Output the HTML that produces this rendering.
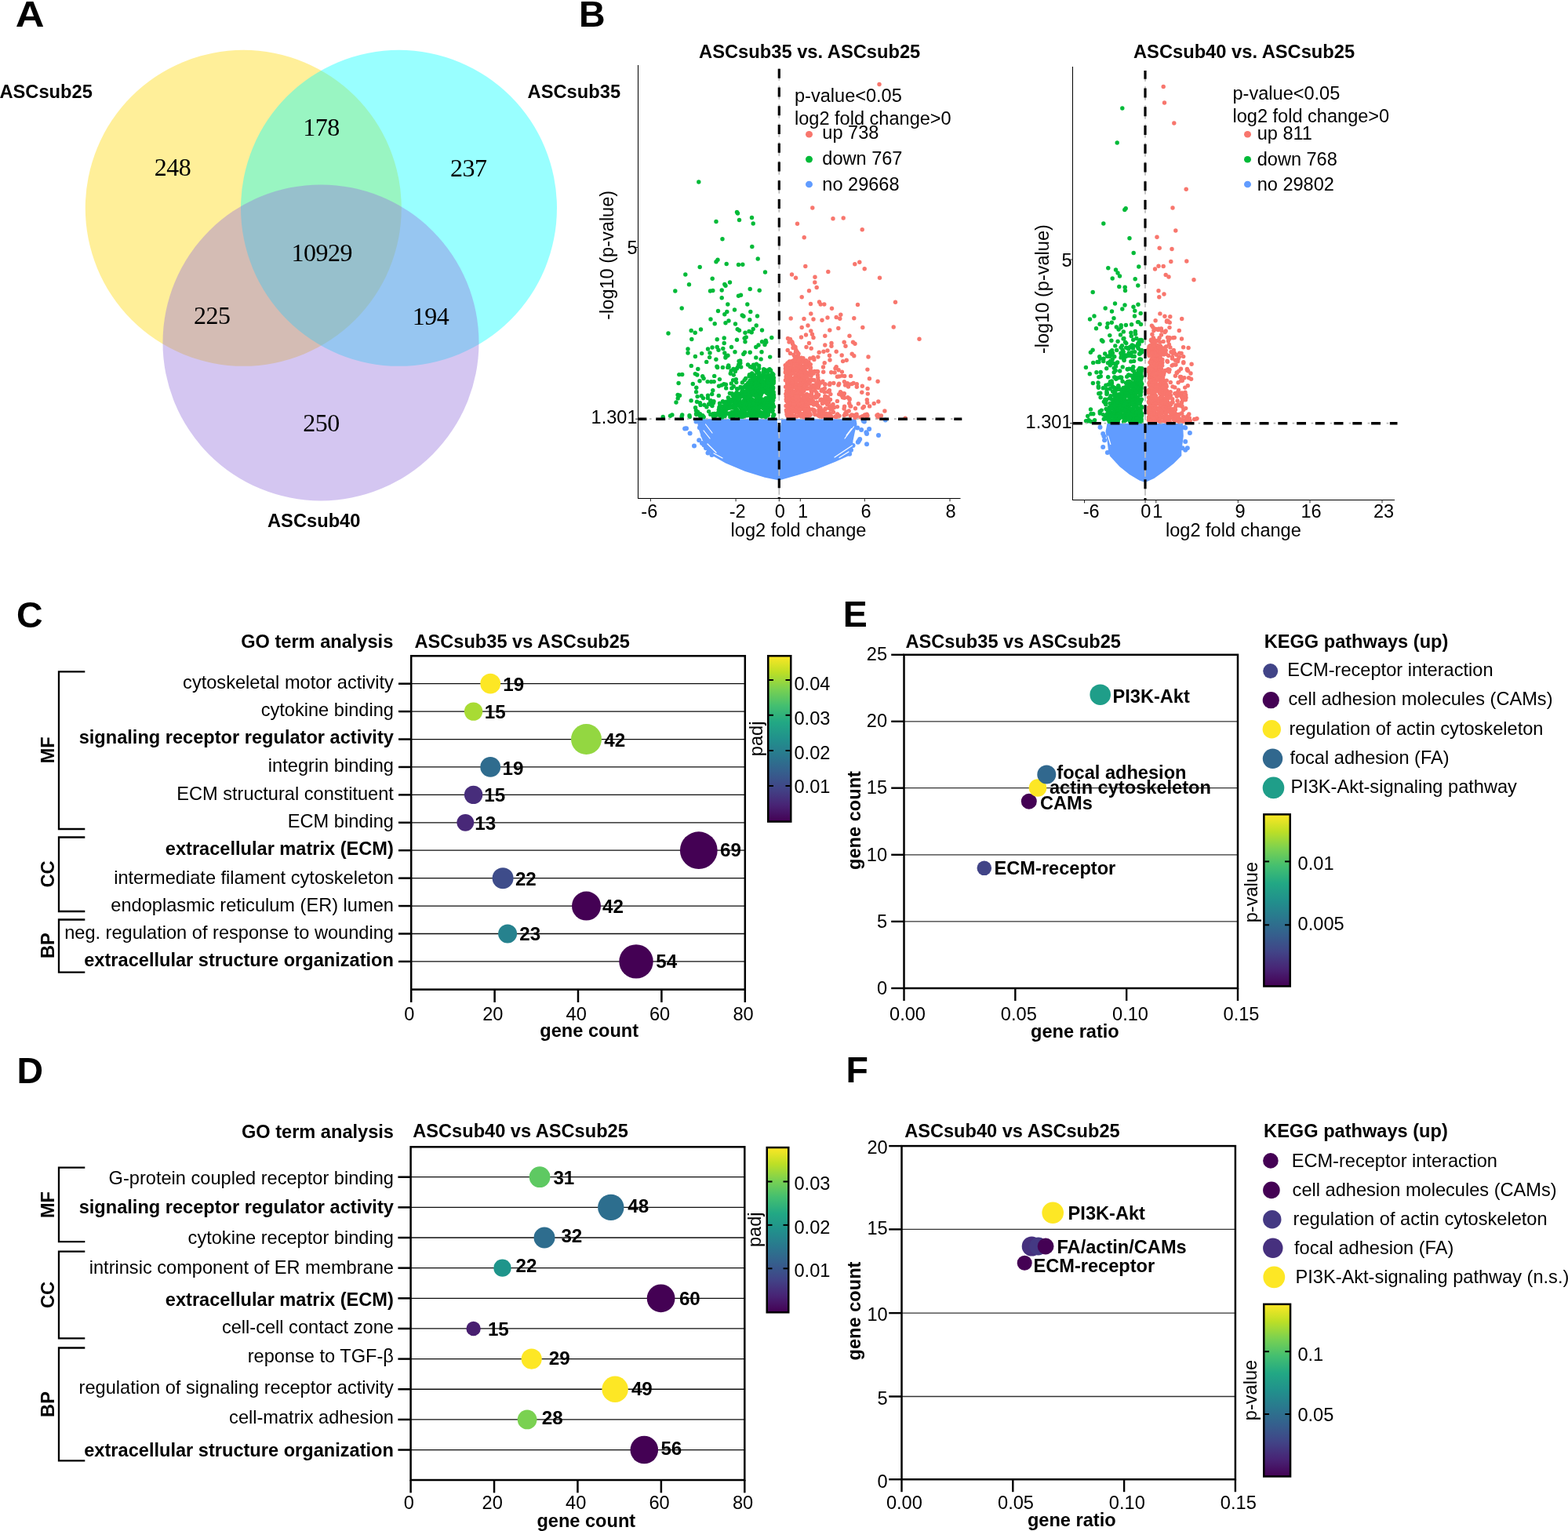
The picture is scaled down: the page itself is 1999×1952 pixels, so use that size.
<!DOCTYPE html>
<html lang="en"><head><meta charset="utf-8"><title>Figure</title>
<style>
html,body{margin:0;padding:0;background:#fff;}
svg{display:block;}
text{font-family:"Liberation Sans",sans-serif;fill:#000;}
text.b,.b{font-weight:bold;}
text.s{font-family:"Liberation Serif",serif;}
</style></head>
<body>
<svg width="1999" height="1952" viewBox="0 0 1999 1952" role="img" aria-label="Figure with panels A to F">
<defs><linearGradient id="vir" x1="0" y1="1" x2="0" y2="0"><stop offset="0" stop-color="#440154"/><stop offset="0.1" stop-color="#482475"/><stop offset="0.2" stop-color="#414487"/><stop offset="0.3" stop-color="#355f8d"/><stop offset="0.4" stop-color="#2a788e"/><stop offset="0.5" stop-color="#21918c"/><stop offset="0.6" stop-color="#22a884"/><stop offset="0.7" stop-color="#44bf70"/><stop offset="0.8" stop-color="#7ad151"/><stop offset="0.9" stop-color="#bddf26"/><stop offset="1" stop-color="#fde725"/></linearGradient></defs>
<rect width="1999" height="1952" fill="#fff"/>
<g fill-opacity="0.4">
<circle cx="310.30" cy="265.30" r="201.50" fill="#ffd700"/>
<circle cx="508.50" cy="265.30" r="201.50" fill="#00ffff"/>
<circle cx="409.00" cy="436.90" r="201.50" fill="#9370db"/>
</g>
<text x="-0.60" y="125.20" font-size="23.7" class="b">ASCsub25</text>
<text x="672.60" y="125.20" font-size="23.7" class="b">ASCsub35</text>
<text x="341.00" y="671.80" font-size="23.7" class="b">ASCsub40</text>
<text x="220.00" y="224.40" font-size="32" text-anchor="middle" class="s" letter-spacing="-0.5">248</text>
<text x="409.60" y="172.90" font-size="32" text-anchor="middle" class="s" letter-spacing="-0.5">178</text>
<text x="597.30" y="224.60" font-size="32" text-anchor="middle" class="s" letter-spacing="-0.5">237</text>
<text x="410.30" y="332.90" font-size="32" text-anchor="middle" class="s" letter-spacing="-0.5">10929</text>
<text x="270.20" y="412.90" font-size="32" text-anchor="middle" class="s" letter-spacing="-0.5">225</text>
<text x="549.00" y="414.10" font-size="32" text-anchor="middle" class="s" letter-spacing="-0.5">194</text>
<text x="409.40" y="549.90" font-size="32" text-anchor="middle" class="s" letter-spacing="-0.5">250</text>
<path d="M888 534.2 L1091.3 534.2 L1092.5 541 L1090 550 L1087.5 562 L1087 570 L1084.4 580 L1065 588.8 L1040 598.8 L1015 606.3 L993.3 612.5 L975 608.8 L950 601 L925 590.5 L907.5 580.5 L902 572 L895.5 561 L891 548 Z" fill="#619cff"/>
<g fill="#619cff"><circle cx="875.0" cy="546.2" r="3"/><circle cx="873.1" cy="546.5" r="3"/><circle cx="879.6" cy="552.5" r="3"/><circle cx="885.0" cy="568.5" r="3"/><circle cx="887.5" cy="537.5" r="3"/><circle cx="891.9" cy="545.2" r="3"/><circle cx="897.5" cy="552.5" r="3"/><circle cx="896.2" cy="555.0" r="3"/><circle cx="891.2" cy="561.2" r="3"/><circle cx="895.0" cy="565.0" r="3"/><circle cx="897.5" cy="567.5" r="3"/><circle cx="900.0" cy="571.2" r="3"/><circle cx="903.8" cy="573.8" r="3"/><circle cx="902.5" cy="577.5" r="3"/><circle cx="907.5" cy="580.0" r="3"/><circle cx="1101.9" cy="537.5" r="3"/><circle cx="1100.6" cy="536.5" r="3"/><circle cx="1128.8" cy="535.6" r="3"/><circle cx="1108.1" cy="546.9" r="3"/><circle cx="1098.1" cy="548.1" r="3"/><circle cx="1105.0" cy="553.1" r="3"/><circle cx="1104.4" cy="551.2" r="3"/><circle cx="1120.0" cy="555.0" r="3"/><circle cx="1105.0" cy="566.2" r="3"/><circle cx="1095.0" cy="561.9" r="3"/><circle cx="1096.2" cy="560.0" r="3"/><circle cx="1093.1" cy="545.6" r="3"/><circle cx="1093.8" cy="563.8" r="3"/><circle cx="1087.5" cy="568.1" r="3"/><circle cx="1085.0" cy="573.8" r="3"/><circle cx="1083.1" cy="578.8" r="3"/></g>
<path d="M899.5 541 L908 552" fill="none" stroke="#fff" stroke-width="1.2" stroke-linecap="round"/>
<path d="M897 549 L905 559" fill="none" stroke="#fff" stroke-width="1.2" stroke-linecap="round"/>
<path d="M902 566 L913 577" fill="none" stroke="#fff" stroke-width="1.2" stroke-linecap="round"/>
<path d="M910 578 L921 584" fill="none" stroke="#fff" stroke-width="1.2" stroke-linecap="round"/>
<path d="M1088.5 544 L1077 559" fill="none" stroke="#fff" stroke-width="1.2" stroke-linecap="round"/>
<path d="M1085.5 546.5 L1079 555" fill="none" stroke="#fff" stroke-width="1.2" stroke-linecap="round"/>
<path d="M1086.5 568 L1064 583" fill="none" stroke="#fff" stroke-width="1.2" stroke-linecap="round"/>
<path d="M1082 576 L1070 583.5" fill="none" stroke="#fff" stroke-width="1.2" stroke-linecap="round"/>
<path d="M990.6 535.6 L993.3 559 L996.0 535.6 Z" fill="#fff"/>
<g fill="#00ba38"><circle cx="890.8" cy="232.0" r="2.7"/><circle cx="939.5" cy="270.5" r="2.7"/><circle cx="940.5" cy="272.0" r="2.7"/><circle cx="913.0" cy="282.5" r="2.7"/><circle cx="942.5" cy="280.5" r="2.7"/><circle cx="958.5" cy="277.5" r="2.7"/><circle cx="960.2" cy="285.0" r="2.7"/><circle cx="921.0" cy="304.8" r="2.7"/><circle cx="958.8" cy="314.5" r="2.7"/><circle cx="966.2" cy="330.0" r="2.7"/><circle cx="915.0" cy="331.2" r="2.7"/><circle cx="913.0" cy="333.8" r="2.7"/><circle cx="926.2" cy="336.5" r="2.7"/><circle cx="941.5" cy="337.5" r="2.7"/><circle cx="946.8" cy="337.2" r="2.7"/><circle cx="892.2" cy="340.5" r="2.7"/><circle cx="975.5" cy="347.0" r="2.7"/><circle cx="873.8" cy="350.0" r="2.7"/><circle cx="908.2" cy="355.2" r="2.7"/><circle cx="930.5" cy="360.0" r="2.7"/><circle cx="923.8" cy="362.5" r="2.7"/><circle cx="925.0" cy="364.2" r="2.7"/><circle cx="878.5" cy="362.8" r="2.7"/><circle cx="860.8" cy="371.0" r="2.7"/><circle cx="905.5" cy="371.0" r="2.7"/><circle cx="908.8" cy="370.5" r="2.7"/><circle cx="920.2" cy="370.0" r="2.7"/><circle cx="956.2" cy="368.5" r="2.7"/><circle cx="968.2" cy="370.2" r="2.7"/><circle cx="944.5" cy="376.2" r="2.7"/><circle cx="941.5" cy="377.2" r="2.7"/><circle cx="920.2" cy="379.8" r="2.7"/><circle cx="927.8" cy="388.0" r="2.7"/><circle cx="952.8" cy="388.0" r="2.7"/><circle cx="869.2" cy="393.0" r="2.7"/><circle cx="936.5" cy="395.0" r="2.7"/><circle cx="915.5" cy="396.5" r="2.7"/><circle cx="926.8" cy="397.5" r="2.7"/><circle cx="923.8" cy="400.8" r="2.7"/><circle cx="956.8" cy="397.5" r="2.7"/><circle cx="946.2" cy="402.0" r="2.7"/><circle cx="948.0" cy="403.2" r="2.7"/><circle cx="965.5" cy="403.0" r="2.7"/><circle cx="906.0" cy="407.0" r="2.7"/><circle cx="955.8" cy="407.8" r="2.7"/><circle cx="929.0" cy="409.0" r="2.7"/><circle cx="925.0" cy="411.8" r="2.7"/><circle cx="911.2" cy="412.8" r="2.7"/><circle cx="937.5" cy="413.0" r="2.7"/><circle cx="964.2" cy="415.0" r="2.7"/><circle cx="960.2" cy="419.5" r="2.7"/><circle cx="940.2" cy="419.8" r="2.7"/><circle cx="942.5" cy="421.2" r="2.7"/><circle cx="971.5" cy="421.0" r="2.7"/><circle cx="893.5" cy="420.0" r="2.7"/><circle cx="881.2" cy="421.5" r="2.7"/><circle cx="886.2" cy="424.2" r="2.7"/><circle cx="852.0" cy="425.0" r="2.7"/><circle cx="955.0" cy="422.5" r="2.7"/><circle cx="950.0" cy="424.2" r="2.7"/><circle cx="958.2" cy="423.8" r="2.7"/><circle cx="951.2" cy="430.0" r="2.7"/><circle cx="949.2" cy="431.2" r="2.7"/><circle cx="983.8" cy="430.5" r="2.7"/><circle cx="881.8" cy="432.5" r="2.7"/><circle cx="914.2" cy="432.8" r="2.7"/><circle cx="923.2" cy="431.0" r="2.7"/><circle cx="939.5" cy="433.2" r="2.7"/><circle cx="950.0" cy="435.8" r="2.7"/><circle cx="923.2" cy="437.5" r="2.7"/><circle cx="971.5" cy="435.8" r="2.7"/><circle cx="976.2" cy="434.2" r="2.7"/><circle cx="976.8" cy="436.2" r="2.7"/><circle cx="975.0" cy="439.5" r="2.7"/><circle cx="967.0" cy="440.0" r="2.7"/><circle cx="963.8" cy="442.5" r="2.7"/><circle cx="877.0" cy="445.0" r="2.7"/><circle cx="877.0" cy="450.0" r="2.7"/><circle cx="902.5" cy="445.0" r="2.7"/><circle cx="908.0" cy="443.0" r="2.7"/><circle cx="914.2" cy="442.5" r="2.7"/><circle cx="916.0" cy="446.2" r="2.7"/><circle cx="921.8" cy="444.5" r="2.7"/><circle cx="932.5" cy="442.5" r="2.7"/><circle cx="923.8" cy="450.0" r="2.7"/><circle cx="905.0" cy="450.0" r="2.7"/><circle cx="937.0" cy="448.8" r="2.7"/><circle cx="949.5" cy="449.2" r="2.7"/><circle cx="956.2" cy="449.2" r="2.7"/><circle cx="971.0" cy="448.8" r="2.7"/><circle cx="894.7" cy="450.6" r="2.7"/><circle cx="947.8" cy="451.5" r="2.7"/><circle cx="928.0" cy="453.2" r="2.7"/><circle cx="886.4" cy="454.5" r="2.7"/><circle cx="904.6" cy="455.6" r="2.7"/><circle cx="924.9" cy="456.0" r="2.7"/><circle cx="925.4" cy="454.5" r="2.7"/><circle cx="963.8" cy="455.9" r="2.7"/><circle cx="981.7" cy="455.1" r="2.7"/><circle cx="970.1" cy="457.9" r="2.7"/><circle cx="912.9" cy="458.2" r="2.7"/><circle cx="900.7" cy="461.4" r="2.7"/><circle cx="942.1" cy="460.5" r="2.7"/><circle cx="943.7" cy="460.0" r="2.7"/><circle cx="943.8" cy="463.0" r="2.7"/><circle cx="941.7" cy="464.9" r="2.7"/><circle cx="953.5" cy="465.0" r="2.7"/><circle cx="960.6" cy="465.3" r="2.7"/><circle cx="964.4" cy="464.1" r="2.7"/><circle cx="881.3" cy="466.4" r="2.7"/><circle cx="914.0" cy="467.3" r="2.7"/><circle cx="928.7" cy="466.0" r="2.7"/><circle cx="944.7" cy="467.9" r="2.7"/><circle cx="956.3" cy="467.5" r="2.7"/><circle cx="967.6" cy="466.3" r="2.7"/><circle cx="914.6" cy="468.5" r="2.7"/><circle cx="921.4" cy="468.4" r="2.7"/><circle cx="927.8" cy="468.4" r="2.7"/><circle cx="929.1" cy="468.1" r="2.7"/><circle cx="939.4" cy="469.9" r="2.7"/><circle cx="940.5" cy="468.1" r="2.7"/><circle cx="958.9" cy="468.4" r="2.7"/><circle cx="961.9" cy="468.1" r="2.7"/><circle cx="967.7" cy="469.8" r="2.7"/><circle cx="889.8" cy="470.5" r="2.7"/><circle cx="935.0" cy="470.5" r="2.7"/><circle cx="962.1" cy="470.7" r="2.7"/><circle cx="973.7" cy="470.8" r="2.7"/><circle cx="975.5" cy="471.6" r="2.7"/><circle cx="979.9" cy="471.6" r="2.7"/><circle cx="981.1" cy="470.6" r="2.7"/><circle cx="932.1" cy="472.7" r="2.7"/><circle cx="937.4" cy="473.5" r="2.7"/><circle cx="964.2" cy="472.7" r="2.7"/><circle cx="974.0" cy="473.6" r="2.7"/><circle cx="975.3" cy="473.9" r="2.7"/><circle cx="977.1" cy="473.9" r="2.7"/><circle cx="982.6" cy="472.3" r="2.7"/><circle cx="958.7" cy="476.0" r="2.7"/><circle cx="966.6" cy="475.9" r="2.7"/><circle cx="965.1" cy="474.7" r="2.7"/><circle cx="966.5" cy="474.3" r="2.7"/><circle cx="966.8" cy="474.5" r="2.7"/><circle cx="968.0" cy="475.8" r="2.7"/><circle cx="973.1" cy="474.4" r="2.7"/><circle cx="978.8" cy="474.3" r="2.7"/><circle cx="865.8" cy="477.6" r="2.7"/><circle cx="869.7" cy="477.5" r="2.7"/><circle cx="886.3" cy="476.6" r="2.7"/><circle cx="931.3" cy="476.2" r="2.7"/><circle cx="955.5" cy="477.8" r="2.7"/><circle cx="968.1" cy="477.9" r="2.7"/><circle cx="974.3" cy="477.6" r="2.7"/><circle cx="984.4" cy="476.0" r="2.7"/><circle cx="985.9" cy="477.5" r="2.7"/><circle cx="888.8" cy="478.0" r="2.7"/><circle cx="895.7" cy="479.8" r="2.7"/><circle cx="910.7" cy="479.4" r="2.7"/><circle cx="935.3" cy="478.1" r="2.7"/><circle cx="955.1" cy="479.7" r="2.7"/><circle cx="957.4" cy="478.2" r="2.7"/><circle cx="957.1" cy="479.7" r="2.7"/><circle cx="961.6" cy="478.2" r="2.7"/><circle cx="961.2" cy="479.5" r="2.7"/><circle cx="967.5" cy="478.6" r="2.7"/><circle cx="969.6" cy="479.9" r="2.7"/><circle cx="971.1" cy="478.8" r="2.7"/><circle cx="971.9" cy="479.5" r="2.7"/><circle cx="975.4" cy="479.7" r="2.7"/><circle cx="979.0" cy="478.4" r="2.7"/><circle cx="982.0" cy="479.0" r="2.7"/><circle cx="982.6" cy="478.4" r="2.7"/><circle cx="984.7" cy="478.5" r="2.7"/><circle cx="985.4" cy="479.4" r="2.7"/><circle cx="960.9" cy="480.2" r="2.7"/><circle cx="959.8" cy="482.0" r="2.7"/><circle cx="961.4" cy="481.3" r="2.7"/><circle cx="961.2" cy="480.4" r="2.7"/><circle cx="963.8" cy="481.6" r="2.7"/><circle cx="966.3" cy="480.9" r="2.7"/><circle cx="970.5" cy="481.8" r="2.7"/><circle cx="972.5" cy="480.8" r="2.7"/><circle cx="976.7" cy="481.4" r="2.7"/><circle cx="976.3" cy="480.9" r="2.7"/><circle cx="975.6" cy="481.3" r="2.7"/><circle cx="980.4" cy="481.3" r="2.7"/><circle cx="984.2" cy="480.8" r="2.7"/><circle cx="986.3" cy="481.6" r="2.7"/><circle cx="985.8" cy="481.0" r="2.7"/><circle cx="897.1" cy="482.5" r="2.7"/><circle cx="917.4" cy="483.6" r="2.7"/><circle cx="938.3" cy="483.6" r="2.7"/><circle cx="950.7" cy="482.5" r="2.7"/><circle cx="961.5" cy="482.6" r="2.7"/><circle cx="964.3" cy="483.3" r="2.7"/><circle cx="968.7" cy="483.8" r="2.7"/><circle cx="968.6" cy="482.3" r="2.7"/><circle cx="969.0" cy="483.9" r="2.7"/><circle cx="970.3" cy="482.5" r="2.7"/><circle cx="977.3" cy="483.8" r="2.7"/><circle cx="980.8" cy="483.2" r="2.7"/><circle cx="982.7" cy="482.4" r="2.7"/><circle cx="982.4" cy="483.1" r="2.7"/><circle cx="982.5" cy="482.9" r="2.7"/><circle cx="983.5" cy="482.3" r="2.7"/><circle cx="984.0" cy="482.1" r="2.7"/><circle cx="986.0" cy="483.0" r="2.7"/><circle cx="892.0" cy="485.8" r="2.7"/><circle cx="934.6" cy="484.7" r="2.7"/><circle cx="949.1" cy="484.6" r="2.7"/><circle cx="956.6" cy="485.8" r="2.7"/><circle cx="956.2" cy="485.2" r="2.7"/><circle cx="958.4" cy="484.4" r="2.7"/><circle cx="958.3" cy="484.9" r="2.7"/><circle cx="959.4" cy="484.1" r="2.7"/><circle cx="962.6" cy="485.6" r="2.7"/><circle cx="962.1" cy="484.5" r="2.7"/><circle cx="961.6" cy="484.8" r="2.7"/><circle cx="966.9" cy="484.1" r="2.7"/><circle cx="967.2" cy="485.6" r="2.7"/><circle cx="969.0" cy="484.8" r="2.7"/><circle cx="970.2" cy="485.9" r="2.7"/><circle cx="971.2" cy="485.3" r="2.7"/><circle cx="971.4" cy="484.3" r="2.7"/><circle cx="978.9" cy="484.2" r="2.7"/><circle cx="979.0" cy="485.4" r="2.7"/><circle cx="983.1" cy="485.5" r="2.7"/><circle cx="986.3" cy="485.4" r="2.7"/><circle cx="985.9" cy="485.9" r="2.7"/><circle cx="985.5" cy="485.9" r="2.7"/><circle cx="902.1" cy="486.6" r="2.7"/><circle cx="906.7" cy="486.7" r="2.7"/><circle cx="910.2" cy="486.6" r="2.7"/><circle cx="938.7" cy="487.6" r="2.7"/><circle cx="946.4" cy="487.8" r="2.7"/><circle cx="954.5" cy="487.9" r="2.7"/><circle cx="957.4" cy="486.5" r="2.7"/><circle cx="958.5" cy="487.6" r="2.7"/><circle cx="960.6" cy="487.5" r="2.7"/><circle cx="964.0" cy="487.2" r="2.7"/><circle cx="963.4" cy="486.4" r="2.7"/><circle cx="963.4" cy="487.4" r="2.7"/><circle cx="968.0" cy="486.3" r="2.7"/><circle cx="971.2" cy="487.3" r="2.7"/><circle cx="974.2" cy="486.7" r="2.7"/><circle cx="975.1" cy="488.0" r="2.7"/><circle cx="977.5" cy="487.6" r="2.7"/><circle cx="977.9" cy="487.9" r="2.7"/><circle cx="979.1" cy="486.4" r="2.7"/><circle cx="979.4" cy="486.2" r="2.7"/><circle cx="979.1" cy="487.1" r="2.7"/><circle cx="982.8" cy="486.1" r="2.7"/><circle cx="982.2" cy="486.8" r="2.7"/><circle cx="986.1" cy="487.3" r="2.7"/><circle cx="865.1" cy="488.5" r="2.7"/><circle cx="883.3" cy="489.5" r="2.7"/><circle cx="922.9" cy="489.7" r="2.7"/><circle cx="932.3" cy="488.9" r="2.7"/><circle cx="953.8" cy="488.3" r="2.7"/><circle cx="957.3" cy="489.0" r="2.7"/><circle cx="963.0" cy="488.1" r="2.7"/><circle cx="964.0" cy="488.6" r="2.7"/><circle cx="963.5" cy="488.4" r="2.7"/><circle cx="967.6" cy="489.8" r="2.7"/><circle cx="967.1" cy="489.5" r="2.7"/><circle cx="967.6" cy="490.0" r="2.7"/><circle cx="971.3" cy="488.0" r="2.7"/><circle cx="973.9" cy="489.8" r="2.7"/><circle cx="973.4" cy="489.1" r="2.7"/><circle cx="979.2" cy="488.2" r="2.7"/><circle cx="980.2" cy="489.0" r="2.7"/><circle cx="986.2" cy="488.4" r="2.7"/><circle cx="985.1" cy="489.5" r="2.7"/><circle cx="920.0" cy="491.1" r="2.7"/><circle cx="925.4" cy="490.2" r="2.7"/><circle cx="951.2" cy="491.0" r="2.7"/><circle cx="952.0" cy="490.6" r="2.7"/><circle cx="956.2" cy="491.7" r="2.7"/><circle cx="960.7" cy="491.9" r="2.7"/><circle cx="959.8" cy="490.8" r="2.7"/><circle cx="962.9" cy="491.6" r="2.7"/><circle cx="961.7" cy="490.5" r="2.7"/><circle cx="966.8" cy="491.6" r="2.7"/><circle cx="966.7" cy="490.1" r="2.7"/><circle cx="967.8" cy="491.3" r="2.7"/><circle cx="967.7" cy="491.1" r="2.7"/><circle cx="967.1" cy="490.9" r="2.7"/><circle cx="969.3" cy="491.9" r="2.7"/><circle cx="972.8" cy="491.8" r="2.7"/><circle cx="971.1" cy="491.3" r="2.7"/><circle cx="971.5" cy="491.4" r="2.7"/><circle cx="975.5" cy="491.0" r="2.7"/><circle cx="975.9" cy="491.9" r="2.7"/><circle cx="982.2" cy="491.9" r="2.7"/><circle cx="983.9" cy="491.1" r="2.7"/><circle cx="916.5" cy="492.3" r="2.7"/><circle cx="935.3" cy="492.7" r="2.7"/><circle cx="944.0" cy="493.5" r="2.7"/><circle cx="948.6" cy="493.4" r="2.7"/><circle cx="950.7" cy="492.0" r="2.7"/><circle cx="952.9" cy="493.1" r="2.7"/><circle cx="951.8" cy="493.6" r="2.7"/><circle cx="953.9" cy="492.9" r="2.7"/><circle cx="954.4" cy="492.6" r="2.7"/><circle cx="955.8" cy="492.6" r="2.7"/><circle cx="957.9" cy="492.4" r="2.7"/><circle cx="957.6" cy="492.3" r="2.7"/><circle cx="959.2" cy="493.8" r="2.7"/><circle cx="963.9" cy="493.8" r="2.7"/><circle cx="963.0" cy="492.1" r="2.7"/><circle cx="964.1" cy="493.0" r="2.7"/><circle cx="966.0" cy="493.0" r="2.7"/><circle cx="966.4" cy="492.8" r="2.7"/><circle cx="965.7" cy="493.2" r="2.7"/><circle cx="969.2" cy="492.7" r="2.7"/><circle cx="969.8" cy="493.1" r="2.7"/><circle cx="971.9" cy="493.2" r="2.7"/><circle cx="973.0" cy="492.7" r="2.7"/><circle cx="972.1" cy="493.6" r="2.7"/><circle cx="978.8" cy="493.4" r="2.7"/><circle cx="978.6" cy="494.0" r="2.7"/><circle cx="978.8" cy="492.8" r="2.7"/><circle cx="983.4" cy="492.4" r="2.7"/><circle cx="985.7" cy="494.0" r="2.7"/><circle cx="887.8" cy="494.2" r="2.7"/><circle cx="925.7" cy="494.9" r="2.7"/><circle cx="932.9" cy="494.9" r="2.7"/><circle cx="939.6" cy="495.8" r="2.7"/><circle cx="946.9" cy="494.5" r="2.7"/><circle cx="945.8" cy="495.4" r="2.7"/><circle cx="951.5" cy="494.3" r="2.7"/><circle cx="951.7" cy="494.4" r="2.7"/><circle cx="954.1" cy="494.2" r="2.7"/><circle cx="955.8" cy="494.1" r="2.7"/><circle cx="959.5" cy="494.4" r="2.7"/><circle cx="967.3" cy="495.4" r="2.7"/><circle cx="973.9" cy="495.7" r="2.7"/><circle cx="975.7" cy="495.4" r="2.7"/><circle cx="980.9" cy="495.0" r="2.7"/><circle cx="984.4" cy="494.5" r="2.7"/><circle cx="985.5" cy="495.2" r="2.7"/><circle cx="985.4" cy="495.7" r="2.7"/><circle cx="908.8" cy="497.7" r="2.7"/><circle cx="940.4" cy="496.1" r="2.7"/><circle cx="956.7" cy="497.1" r="2.7"/><circle cx="957.9" cy="497.4" r="2.7"/><circle cx="963.1" cy="497.7" r="2.7"/><circle cx="964.2" cy="496.1" r="2.7"/><circle cx="970.8" cy="497.5" r="2.7"/><circle cx="974.5" cy="497.7" r="2.7"/><circle cx="980.4" cy="497.5" r="2.7"/><circle cx="980.7" cy="497.3" r="2.7"/><circle cx="982.4" cy="496.9" r="2.7"/><circle cx="984.5" cy="496.1" r="2.7"/><circle cx="984.4" cy="497.6" r="2.7"/><circle cx="887.6" cy="499.8" r="2.7"/><circle cx="946.4" cy="500.0" r="2.7"/><circle cx="946.1" cy="498.2" r="2.7"/><circle cx="947.4" cy="499.1" r="2.7"/><circle cx="952.9" cy="499.3" r="2.7"/><circle cx="951.5" cy="498.5" r="2.7"/><circle cx="957.4" cy="499.3" r="2.7"/><circle cx="958.7" cy="499.9" r="2.7"/><circle cx="961.4" cy="499.7" r="2.7"/><circle cx="961.6" cy="498.7" r="2.7"/><circle cx="962.1" cy="498.7" r="2.7"/><circle cx="963.1" cy="499.1" r="2.7"/><circle cx="966.8" cy="499.9" r="2.7"/><circle cx="966.0" cy="499.0" r="2.7"/><circle cx="972.4" cy="498.3" r="2.7"/><circle cx="973.1" cy="498.9" r="2.7"/><circle cx="973.4" cy="499.4" r="2.7"/><circle cx="977.6" cy="499.3" r="2.7"/><circle cx="978.0" cy="498.8" r="2.7"/><circle cx="977.7" cy="498.9" r="2.7"/><circle cx="979.6" cy="498.9" r="2.7"/><circle cx="980.1" cy="498.7" r="2.7"/><circle cx="979.4" cy="498.2" r="2.7"/><circle cx="984.9" cy="499.9" r="2.7"/><circle cx="984.2" cy="499.6" r="2.7"/><circle cx="983.1" cy="499.4" r="2.7"/><circle cx="986.1" cy="499.9" r="2.7"/><circle cx="930.4" cy="501.5" r="2.7"/><circle cx="933.2" cy="501.7" r="2.7"/><circle cx="939.3" cy="501.6" r="2.7"/><circle cx="939.1" cy="500.5" r="2.7"/><circle cx="945.6" cy="501.4" r="2.7"/><circle cx="948.2" cy="501.7" r="2.7"/><circle cx="950.5" cy="500.7" r="2.7"/><circle cx="950.5" cy="501.4" r="2.7"/><circle cx="950.7" cy="500.2" r="2.7"/><circle cx="954.2" cy="500.2" r="2.7"/><circle cx="954.1" cy="501.6" r="2.7"/><circle cx="953.2" cy="501.9" r="2.7"/><circle cx="955.4" cy="500.9" r="2.7"/><circle cx="957.0" cy="500.2" r="2.7"/><circle cx="958.6" cy="500.4" r="2.7"/><circle cx="960.4" cy="500.8" r="2.7"/><circle cx="964.6" cy="501.9" r="2.7"/><circle cx="963.0" cy="500.7" r="2.7"/><circle cx="967.1" cy="500.4" r="2.7"/><circle cx="968.6" cy="501.4" r="2.7"/><circle cx="969.3" cy="501.7" r="2.7"/><circle cx="972.2" cy="500.2" r="2.7"/><circle cx="977.3" cy="500.7" r="2.7"/><circle cx="977.9" cy="501.2" r="2.7"/><circle cx="979.0" cy="501.2" r="2.7"/><circle cx="985.3" cy="501.3" r="2.7"/><circle cx="985.5" cy="500.5" r="2.7"/><circle cx="864.1" cy="503.5" r="2.7"/><circle cx="907.7" cy="502.5" r="2.7"/><circle cx="938.8" cy="503.2" r="2.7"/><circle cx="937.2" cy="502.4" r="2.7"/><circle cx="940.5" cy="502.9" r="2.7"/><circle cx="940.7" cy="502.1" r="2.7"/><circle cx="943.5" cy="502.0" r="2.7"/><circle cx="949.8" cy="502.4" r="2.7"/><circle cx="951.4" cy="503.5" r="2.7"/><circle cx="952.9" cy="503.2" r="2.7"/><circle cx="955.3" cy="502.4" r="2.7"/><circle cx="956.1" cy="503.8" r="2.7"/><circle cx="957.7" cy="503.5" r="2.7"/><circle cx="958.3" cy="502.8" r="2.7"/><circle cx="959.1" cy="502.8" r="2.7"/><circle cx="964.0" cy="503.2" r="2.7"/><circle cx="968.9" cy="503.1" r="2.7"/><circle cx="970.2" cy="503.4" r="2.7"/><circle cx="980.6" cy="502.8" r="2.7"/><circle cx="982.1" cy="503.3" r="2.7"/><circle cx="984.5" cy="502.5" r="2.7"/><circle cx="986.5" cy="504.0" r="2.7"/><circle cx="985.9" cy="502.6" r="2.7"/><circle cx="986.0" cy="503.9" r="2.7"/><circle cx="866.5" cy="504.2" r="2.7"/><circle cx="889.1" cy="505.6" r="2.7"/><circle cx="894.3" cy="504.7" r="2.7"/><circle cx="902.5" cy="504.1" r="2.7"/><circle cx="916.3" cy="504.4" r="2.7"/><circle cx="934.1" cy="504.3" r="2.7"/><circle cx="936.5" cy="505.6" r="2.7"/><circle cx="935.6" cy="504.7" r="2.7"/><circle cx="940.4" cy="505.2" r="2.7"/><circle cx="944.8" cy="504.7" r="2.7"/><circle cx="944.6" cy="505.7" r="2.7"/><circle cx="947.0" cy="504.2" r="2.7"/><circle cx="948.9" cy="504.0" r="2.7"/><circle cx="950.5" cy="504.2" r="2.7"/><circle cx="953.7" cy="505.8" r="2.7"/><circle cx="955.5" cy="505.6" r="2.7"/><circle cx="956.4" cy="504.1" r="2.7"/><circle cx="956.0" cy="504.5" r="2.7"/><circle cx="957.0" cy="506.0" r="2.7"/><circle cx="962.0" cy="504.3" r="2.7"/><circle cx="964.4" cy="504.3" r="2.7"/><circle cx="965.2" cy="504.7" r="2.7"/><circle cx="967.4" cy="505.9" r="2.7"/><circle cx="968.8" cy="505.5" r="2.7"/><circle cx="980.1" cy="504.7" r="2.7"/><circle cx="984.1" cy="505.4" r="2.7"/><circle cx="985.0" cy="505.7" r="2.7"/><circle cx="985.6" cy="504.8" r="2.7"/><circle cx="864.2" cy="507.9" r="2.7"/><circle cx="896.5" cy="507.7" r="2.7"/><circle cx="902.3" cy="507.5" r="2.7"/><circle cx="928.4" cy="507.0" r="2.7"/><circle cx="936.0" cy="507.1" r="2.7"/><circle cx="937.3" cy="507.6" r="2.7"/><circle cx="942.7" cy="506.1" r="2.7"/><circle cx="941.8" cy="507.7" r="2.7"/><circle cx="943.3" cy="506.5" r="2.7"/><circle cx="949.2" cy="506.8" r="2.7"/><circle cx="951.0" cy="507.4" r="2.7"/><circle cx="952.6" cy="507.5" r="2.7"/><circle cx="956.0" cy="506.5" r="2.7"/><circle cx="967.4" cy="507.4" r="2.7"/><circle cx="976.3" cy="507.7" r="2.7"/><circle cx="980.2" cy="506.7" r="2.7"/><circle cx="984.4" cy="506.6" r="2.7"/><circle cx="986.6" cy="506.7" r="2.7"/><circle cx="931.2" cy="509.5" r="2.7"/><circle cx="934.4" cy="509.4" r="2.7"/><circle cx="940.2" cy="510.0" r="2.7"/><circle cx="941.7" cy="509.0" r="2.7"/><circle cx="941.0" cy="510.0" r="2.7"/><circle cx="951.8" cy="508.1" r="2.7"/><circle cx="951.6" cy="509.7" r="2.7"/><circle cx="953.4" cy="508.1" r="2.7"/><circle cx="954.1" cy="508.7" r="2.7"/><circle cx="956.2" cy="508.7" r="2.7"/><circle cx="958.8" cy="509.1" r="2.7"/><circle cx="964.1" cy="508.6" r="2.7"/><circle cx="968.4" cy="509.6" r="2.7"/><circle cx="970.9" cy="508.9" r="2.7"/><circle cx="971.9" cy="509.3" r="2.7"/><circle cx="976.2" cy="508.4" r="2.7"/><circle cx="978.3" cy="509.3" r="2.7"/><circle cx="977.6" cy="508.4" r="2.7"/><circle cx="978.7" cy="508.3" r="2.7"/><circle cx="979.2" cy="508.2" r="2.7"/><circle cx="982.3" cy="508.5" r="2.7"/><circle cx="982.8" cy="509.4" r="2.7"/><circle cx="881.1" cy="510.8" r="2.7"/><circle cx="906.1" cy="510.6" r="2.7"/><circle cx="905.7" cy="511.5" r="2.7"/><circle cx="910.0" cy="511.7" r="2.7"/><circle cx="921.5" cy="511.8" r="2.7"/><circle cx="928.9" cy="511.3" r="2.7"/><circle cx="938.6" cy="510.6" r="2.7"/><circle cx="942.1" cy="511.6" r="2.7"/><circle cx="943.1" cy="511.0" r="2.7"/><circle cx="948.2" cy="510.7" r="2.7"/><circle cx="951.3" cy="511.9" r="2.7"/><circle cx="955.3" cy="510.2" r="2.7"/><circle cx="956.8" cy="510.2" r="2.7"/><circle cx="957.2" cy="510.9" r="2.7"/><circle cx="961.7" cy="510.4" r="2.7"/><circle cx="963.3" cy="510.5" r="2.7"/><circle cx="966.9" cy="511.0" r="2.7"/><circle cx="966.6" cy="511.1" r="2.7"/><circle cx="966.4" cy="510.5" r="2.7"/><circle cx="967.5" cy="510.1" r="2.7"/><circle cx="969.6" cy="511.8" r="2.7"/><circle cx="974.2" cy="511.6" r="2.7"/><circle cx="975.5" cy="511.2" r="2.7"/><circle cx="978.2" cy="511.4" r="2.7"/><circle cx="980.6" cy="510.9" r="2.7"/><circle cx="982.9" cy="510.8" r="2.7"/><circle cx="983.5" cy="511.5" r="2.7"/><circle cx="985.7" cy="510.3" r="2.7"/><circle cx="862.0" cy="513.0" r="2.7"/><circle cx="888.5" cy="512.3" r="2.7"/><circle cx="892.5" cy="513.7" r="2.7"/><circle cx="908.9" cy="512.2" r="2.7"/><circle cx="909.5" cy="513.7" r="2.7"/><circle cx="922.4" cy="512.8" r="2.7"/><circle cx="925.8" cy="512.2" r="2.7"/><circle cx="926.3" cy="513.7" r="2.7"/><circle cx="925.7" cy="513.2" r="2.7"/><circle cx="928.0" cy="512.0" r="2.7"/><circle cx="927.2" cy="513.6" r="2.7"/><circle cx="931.7" cy="512.4" r="2.7"/><circle cx="935.2" cy="512.5" r="2.7"/><circle cx="936.4" cy="512.9" r="2.7"/><circle cx="938.4" cy="512.1" r="2.7"/><circle cx="938.6" cy="512.4" r="2.7"/><circle cx="941.4" cy="513.8" r="2.7"/><circle cx="944.0" cy="513.9" r="2.7"/><circle cx="944.0" cy="514.0" r="2.7"/><circle cx="948.1" cy="512.0" r="2.7"/><circle cx="951.5" cy="512.7" r="2.7"/><circle cx="951.2" cy="513.1" r="2.7"/><circle cx="954.9" cy="513.8" r="2.7"/><circle cx="954.3" cy="512.2" r="2.7"/><circle cx="956.9" cy="512.7" r="2.7"/><circle cx="958.0" cy="513.4" r="2.7"/><circle cx="958.8" cy="513.0" r="2.7"/><circle cx="962.7" cy="513.4" r="2.7"/><circle cx="964.5" cy="513.8" r="2.7"/><circle cx="965.7" cy="512.3" r="2.7"/><circle cx="966.9" cy="513.8" r="2.7"/><circle cx="969.1" cy="512.8" r="2.7"/><circle cx="972.5" cy="512.6" r="2.7"/><circle cx="972.1" cy="512.8" r="2.7"/><circle cx="973.8" cy="513.9" r="2.7"/><circle cx="974.4" cy="513.4" r="2.7"/><circle cx="973.6" cy="512.3" r="2.7"/><circle cx="975.7" cy="512.3" r="2.7"/><circle cx="976.0" cy="513.8" r="2.7"/><circle cx="979.6" cy="512.1" r="2.7"/><circle cx="984.9" cy="512.4" r="2.7"/><circle cx="903.6" cy="515.3" r="2.7"/><circle cx="917.5" cy="514.1" r="2.7"/><circle cx="924.6" cy="514.2" r="2.7"/><circle cx="928.4" cy="515.5" r="2.7"/><circle cx="927.8" cy="515.9" r="2.7"/><circle cx="929.8" cy="515.6" r="2.7"/><circle cx="936.0" cy="515.3" r="2.7"/><circle cx="937.7" cy="514.1" r="2.7"/><circle cx="943.8" cy="515.1" r="2.7"/><circle cx="943.5" cy="515.7" r="2.7"/><circle cx="946.3" cy="515.5" r="2.7"/><circle cx="946.0" cy="515.8" r="2.7"/><circle cx="948.8" cy="514.3" r="2.7"/><circle cx="948.4" cy="515.4" r="2.7"/><circle cx="948.2" cy="514.6" r="2.7"/><circle cx="951.4" cy="514.4" r="2.7"/><circle cx="951.2" cy="515.4" r="2.7"/><circle cx="954.4" cy="514.1" r="2.7"/><circle cx="954.7" cy="514.7" r="2.7"/><circle cx="957.6" cy="514.1" r="2.7"/><circle cx="960.6" cy="514.1" r="2.7"/><circle cx="961.4" cy="515.3" r="2.7"/><circle cx="968.6" cy="514.4" r="2.7"/><circle cx="969.1" cy="515.6" r="2.7"/><circle cx="969.1" cy="515.0" r="2.7"/><circle cx="972.3" cy="515.4" r="2.7"/><circle cx="974.0" cy="515.2" r="2.7"/><circle cx="979.0" cy="514.1" r="2.7"/><circle cx="978.0" cy="514.3" r="2.7"/><circle cx="977.9" cy="515.4" r="2.7"/><circle cx="978.4" cy="514.9" r="2.7"/><circle cx="983.4" cy="515.5" r="2.7"/><circle cx="985.4" cy="515.4" r="2.7"/><circle cx="893.1" cy="516.4" r="2.7"/><circle cx="897.9" cy="516.2" r="2.7"/><circle cx="908.0" cy="517.6" r="2.7"/><circle cx="907.3" cy="516.2" r="2.7"/><circle cx="920.9" cy="518.0" r="2.7"/><circle cx="924.6" cy="517.7" r="2.7"/><circle cx="931.0" cy="517.7" r="2.7"/><circle cx="933.1" cy="517.8" r="2.7"/><circle cx="935.6" cy="517.2" r="2.7"/><circle cx="938.3" cy="516.4" r="2.7"/><circle cx="941.2" cy="517.2" r="2.7"/><circle cx="948.3" cy="517.4" r="2.7"/><circle cx="950.4" cy="516.1" r="2.7"/><circle cx="952.3" cy="517.4" r="2.7"/><circle cx="955.3" cy="517.8" r="2.7"/><circle cx="956.2" cy="516.1" r="2.7"/><circle cx="959.8" cy="517.6" r="2.7"/><circle cx="961.2" cy="518.0" r="2.7"/><circle cx="962.6" cy="516.1" r="2.7"/><circle cx="961.1" cy="516.5" r="2.7"/><circle cx="964.3" cy="517.9" r="2.7"/><circle cx="965.3" cy="516.0" r="2.7"/><circle cx="966.5" cy="516.2" r="2.7"/><circle cx="968.6" cy="516.3" r="2.7"/><circle cx="968.0" cy="516.2" r="2.7"/><circle cx="970.7" cy="517.1" r="2.7"/><circle cx="970.6" cy="517.0" r="2.7"/><circle cx="970.2" cy="517.2" r="2.7"/><circle cx="971.1" cy="517.1" r="2.7"/><circle cx="976.5" cy="516.0" r="2.7"/><circle cx="977.2" cy="517.3" r="2.7"/><circle cx="977.4" cy="516.9" r="2.7"/><circle cx="981.2" cy="517.5" r="2.7"/><circle cx="982.7" cy="517.7" r="2.7"/><circle cx="886.6" cy="519.8" r="2.7"/><circle cx="900.9" cy="518.9" r="2.7"/><circle cx="916.9" cy="519.5" r="2.7"/><circle cx="917.5" cy="518.5" r="2.7"/><circle cx="917.8" cy="518.0" r="2.7"/><circle cx="922.5" cy="519.5" r="2.7"/><circle cx="922.8" cy="519.6" r="2.7"/><circle cx="924.7" cy="518.6" r="2.7"/><circle cx="926.1" cy="519.9" r="2.7"/><circle cx="930.1" cy="519.9" r="2.7"/><circle cx="933.4" cy="518.6" r="2.7"/><circle cx="934.8" cy="518.0" r="2.7"/><circle cx="933.5" cy="519.4" r="2.7"/><circle cx="935.9" cy="519.4" r="2.7"/><circle cx="937.5" cy="518.5" r="2.7"/><circle cx="937.1" cy="519.4" r="2.7"/><circle cx="944.3" cy="519.2" r="2.7"/><circle cx="944.4" cy="518.6" r="2.7"/><circle cx="957.5" cy="519.5" r="2.7"/><circle cx="957.4" cy="518.2" r="2.7"/><circle cx="961.9" cy="519.5" r="2.7"/><circle cx="966.7" cy="518.1" r="2.7"/><circle cx="968.7" cy="519.6" r="2.7"/><circle cx="969.0" cy="518.4" r="2.7"/><circle cx="972.3" cy="519.2" r="2.7"/><circle cx="973.3" cy="518.2" r="2.7"/><circle cx="976.3" cy="519.1" r="2.7"/><circle cx="984.9" cy="518.7" r="2.7"/><circle cx="986.6" cy="518.5" r="2.7"/><circle cx="923.4" cy="521.5" r="2.7"/><circle cx="924.1" cy="521.7" r="2.7"/><circle cx="926.9" cy="521.0" r="2.7"/><circle cx="925.5" cy="520.3" r="2.7"/><circle cx="927.2" cy="520.5" r="2.7"/><circle cx="930.5" cy="520.1" r="2.7"/><circle cx="937.2" cy="522.0" r="2.7"/><circle cx="945.0" cy="520.9" r="2.7"/><circle cx="948.0" cy="521.2" r="2.7"/><circle cx="948.3" cy="520.3" r="2.7"/><circle cx="950.8" cy="520.4" r="2.7"/><circle cx="949.5" cy="521.2" r="2.7"/><circle cx="950.8" cy="520.2" r="2.7"/><circle cx="949.4" cy="520.1" r="2.7"/><circle cx="951.4" cy="521.5" r="2.7"/><circle cx="954.4" cy="520.0" r="2.7"/><circle cx="954.9" cy="520.5" r="2.7"/><circle cx="956.9" cy="521.0" r="2.7"/><circle cx="958.7" cy="520.4" r="2.7"/><circle cx="959.0" cy="520.9" r="2.7"/><circle cx="961.8" cy="520.7" r="2.7"/><circle cx="963.7" cy="520.3" r="2.7"/><circle cx="966.2" cy="520.5" r="2.7"/><circle cx="968.4" cy="520.3" r="2.7"/><circle cx="973.3" cy="521.0" r="2.7"/><circle cx="975.5" cy="520.3" r="2.7"/><circle cx="976.2" cy="520.9" r="2.7"/><circle cx="978.3" cy="521.7" r="2.7"/><circle cx="980.9" cy="520.8" r="2.7"/><circle cx="983.0" cy="520.6" r="2.7"/><circle cx="887.4" cy="523.4" r="2.7"/><circle cx="916.3" cy="522.4" r="2.7"/><circle cx="917.9" cy="523.9" r="2.7"/><circle cx="917.4" cy="522.8" r="2.7"/><circle cx="920.5" cy="522.7" r="2.7"/><circle cx="920.3" cy="523.5" r="2.7"/><circle cx="939.7" cy="523.4" r="2.7"/><circle cx="939.9" cy="522.4" r="2.7"/><circle cx="945.7" cy="523.9" r="2.7"/><circle cx="948.4" cy="523.9" r="2.7"/><circle cx="947.4" cy="523.5" r="2.7"/><circle cx="947.6" cy="522.5" r="2.7"/><circle cx="950.2" cy="522.4" r="2.7"/><circle cx="949.0" cy="523.1" r="2.7"/><circle cx="950.5" cy="522.5" r="2.7"/><circle cx="957.5" cy="522.5" r="2.7"/><circle cx="959.2" cy="523.9" r="2.7"/><circle cx="960.9" cy="522.3" r="2.7"/><circle cx="963.8" cy="523.0" r="2.7"/><circle cx="976.6" cy="523.5" r="2.7"/><circle cx="975.7" cy="523.0" r="2.7"/><circle cx="979.3" cy="523.4" r="2.7"/><circle cx="979.8" cy="523.4" r="2.7"/><circle cx="984.2" cy="522.4" r="2.7"/><circle cx="984.4" cy="523.6" r="2.7"/><circle cx="985.2" cy="523.3" r="2.7"/><circle cx="889.6" cy="525.3" r="2.7"/><circle cx="903.6" cy="524.6" r="2.7"/><circle cx="916.9" cy="525.8" r="2.7"/><circle cx="923.7" cy="525.4" r="2.7"/><circle cx="925.2" cy="524.1" r="2.7"/><circle cx="933.6" cy="525.0" r="2.7"/><circle cx="935.9" cy="525.9" r="2.7"/><circle cx="936.9" cy="525.2" r="2.7"/><circle cx="941.1" cy="526.0" r="2.7"/><circle cx="943.9" cy="525.2" r="2.7"/><circle cx="949.2" cy="524.8" r="2.7"/><circle cx="949.2" cy="525.9" r="2.7"/><circle cx="955.2" cy="524.1" r="2.7"/><circle cx="959.3" cy="525.5" r="2.7"/><circle cx="959.9" cy="524.7" r="2.7"/><circle cx="965.5" cy="525.5" r="2.7"/><circle cx="968.9" cy="525.2" r="2.7"/><circle cx="967.6" cy="524.9" r="2.7"/><circle cx="969.4" cy="525.9" r="2.7"/><circle cx="969.2" cy="525.6" r="2.7"/><circle cx="978.7" cy="524.6" r="2.7"/><circle cx="977.3" cy="525.5" r="2.7"/><circle cx="984.7" cy="525.1" r="2.7"/><circle cx="887.5" cy="527.8" r="2.7"/><circle cx="892.5" cy="527.6" r="2.7"/><circle cx="908.7" cy="527.7" r="2.7"/><circle cx="910.9" cy="527.5" r="2.7"/><circle cx="911.1" cy="527.7" r="2.7"/><circle cx="913.7" cy="527.6" r="2.7"/><circle cx="915.7" cy="526.5" r="2.7"/><circle cx="915.2" cy="526.7" r="2.7"/><circle cx="919.1" cy="526.1" r="2.7"/><circle cx="921.9" cy="526.8" r="2.7"/><circle cx="924.3" cy="527.8" r="2.7"/><circle cx="923.9" cy="527.8" r="2.7"/><circle cx="926.7" cy="527.1" r="2.7"/><circle cx="930.0" cy="527.0" r="2.7"/><circle cx="933.7" cy="526.7" r="2.7"/><circle cx="934.9" cy="527.4" r="2.7"/><circle cx="938.2" cy="526.9" r="2.7"/><circle cx="939.2" cy="527.0" r="2.7"/><circle cx="941.4" cy="527.5" r="2.7"/><circle cx="942.6" cy="526.4" r="2.7"/><circle cx="943.8" cy="527.4" r="2.7"/><circle cx="944.9" cy="526.4" r="2.7"/><circle cx="950.1" cy="527.0" r="2.7"/><circle cx="952.9" cy="528.0" r="2.7"/><circle cx="954.8" cy="527.1" r="2.7"/><circle cx="954.5" cy="527.7" r="2.7"/><circle cx="957.0" cy="527.0" r="2.7"/><circle cx="960.1" cy="526.3" r="2.7"/><circle cx="960.3" cy="527.6" r="2.7"/><circle cx="959.8" cy="527.2" r="2.7"/><circle cx="959.5" cy="526.6" r="2.7"/><circle cx="961.9" cy="526.2" r="2.7"/><circle cx="967.5" cy="527.0" r="2.7"/><circle cx="967.4" cy="527.2" r="2.7"/><circle cx="970.2" cy="527.4" r="2.7"/><circle cx="971.5" cy="527.7" r="2.7"/><circle cx="972.9" cy="526.1" r="2.7"/><circle cx="973.1" cy="527.6" r="2.7"/><circle cx="974.4" cy="526.3" r="2.7"/><circle cx="977.0" cy="526.7" r="2.7"/><circle cx="977.4" cy="526.3" r="2.7"/><circle cx="979.6" cy="526.3" r="2.7"/><circle cx="856.9" cy="528.9" r="2.7"/><circle cx="869.7" cy="528.9" r="2.7"/><circle cx="879.0" cy="529.7" r="2.7"/><circle cx="887.9" cy="528.6" r="2.7"/><circle cx="895.7" cy="529.7" r="2.7"/><circle cx="905.8" cy="528.4" r="2.7"/><circle cx="909.6" cy="529.0" r="2.7"/><circle cx="910.0" cy="528.7" r="2.7"/><circle cx="912.1" cy="529.9" r="2.7"/><circle cx="913.7" cy="528.8" r="2.7"/><circle cx="915.5" cy="528.7" r="2.7"/><circle cx="921.6" cy="528.7" r="2.7"/><circle cx="924.4" cy="528.0" r="2.7"/><circle cx="929.5" cy="528.1" r="2.7"/><circle cx="934.9" cy="529.1" r="2.7"/><circle cx="934.8" cy="528.2" r="2.7"/><circle cx="935.4" cy="529.5" r="2.7"/><circle cx="937.2" cy="529.7" r="2.7"/><circle cx="941.0" cy="528.1" r="2.7"/><circle cx="947.3" cy="528.4" r="2.7"/><circle cx="948.2" cy="529.3" r="2.7"/><circle cx="951.0" cy="528.9" r="2.7"/><circle cx="951.5" cy="529.9" r="2.7"/><circle cx="953.4" cy="528.3" r="2.7"/><circle cx="953.7" cy="529.5" r="2.7"/><circle cx="957.1" cy="528.9" r="2.7"/><circle cx="960.8" cy="529.2" r="2.7"/><circle cx="959.7" cy="528.8" r="2.7"/><circle cx="961.4" cy="528.8" r="2.7"/><circle cx="962.4" cy="528.0" r="2.7"/><circle cx="962.6" cy="529.6" r="2.7"/><circle cx="962.0" cy="528.0" r="2.7"/><circle cx="964.3" cy="529.1" r="2.7"/><circle cx="966.9" cy="529.9" r="2.7"/><circle cx="967.8" cy="528.5" r="2.7"/><circle cx="968.8" cy="529.6" r="2.7"/><circle cx="970.5" cy="528.5" r="2.7"/><circle cx="970.2" cy="528.3" r="2.7"/><circle cx="970.7" cy="529.0" r="2.7"/><circle cx="969.6" cy="529.8" r="2.7"/><circle cx="974.5" cy="529.1" r="2.7"/><circle cx="974.8" cy="529.2" r="2.7"/><circle cx="976.6" cy="528.2" r="2.7"/><circle cx="975.6" cy="528.2" r="2.7"/><circle cx="977.5" cy="529.5" r="2.7"/><circle cx="978.3" cy="528.2" r="2.7"/><circle cx="979.4" cy="529.3" r="2.7"/><circle cx="986.1" cy="529.6" r="2.7"/><circle cx="986.5" cy="528.9" r="2.7"/><circle cx="986.7" cy="528.8" r="2.7"/><circle cx="845.2" cy="531.5" r="2.7"/><circle cx="854.5" cy="530.3" r="2.7"/><circle cx="869.1" cy="530.9" r="2.7"/><circle cx="879.3" cy="531.6" r="2.7"/><circle cx="892.6" cy="530.5" r="2.7"/><circle cx="894.8" cy="531.2" r="2.7"/><circle cx="896.3" cy="531.1" r="2.7"/><circle cx="897.2" cy="531.8" r="2.7"/><circle cx="910.4" cy="531.1" r="2.7"/><circle cx="909.8" cy="530.3" r="2.7"/><circle cx="909.3" cy="530.9" r="2.7"/><circle cx="918.2" cy="530.3" r="2.7"/><circle cx="920.9" cy="532.0" r="2.7"/><circle cx="924.1" cy="530.6" r="2.7"/><circle cx="923.1" cy="530.4" r="2.7"/><circle cx="930.9" cy="531.4" r="2.7"/><circle cx="934.7" cy="531.3" r="2.7"/><circle cx="933.7" cy="531.2" r="2.7"/><circle cx="938.9" cy="530.1" r="2.7"/><circle cx="942.0" cy="530.2" r="2.7"/><circle cx="945.0" cy="531.4" r="2.7"/><circle cx="944.4" cy="530.0" r="2.7"/><circle cx="943.1" cy="530.9" r="2.7"/><circle cx="946.1" cy="530.0" r="2.7"/><circle cx="948.2" cy="531.6" r="2.7"/><circle cx="956.9" cy="530.5" r="2.7"/><circle cx="958.9" cy="530.8" r="2.7"/><circle cx="958.4" cy="530.1" r="2.7"/><circle cx="960.5" cy="530.5" r="2.7"/><circle cx="959.3" cy="530.7" r="2.7"/><circle cx="961.3" cy="531.5" r="2.7"/><circle cx="962.1" cy="530.7" r="2.7"/><circle cx="962.8" cy="530.5" r="2.7"/><circle cx="961.3" cy="530.3" r="2.7"/><circle cx="961.3" cy="531.2" r="2.7"/><circle cx="964.0" cy="531.1" r="2.7"/><circle cx="966.1" cy="530.0" r="2.7"/><circle cx="970.5" cy="530.5" r="2.7"/><circle cx="971.2" cy="531.0" r="2.7"/><circle cx="974.5" cy="530.4" r="2.7"/><circle cx="976.0" cy="531.8" r="2.7"/><circle cx="976.2" cy="530.4" r="2.7"/><circle cx="985.6" cy="531.0" r="2.7"/></g>
<g fill="#f8766d"><circle cx="1121.0" cy="107.5" r="2.7"/><circle cx="1035.8" cy="265.0" r="2.7"/><circle cx="1062.0" cy="278.8" r="2.7"/><circle cx="1075.2" cy="278.0" r="2.7"/><circle cx="1016.5" cy="285.2" r="2.7"/><circle cx="1099.2" cy="292.8" r="2.7"/><circle cx="1025.2" cy="302.8" r="2.7"/><circle cx="1095.8" cy="334.2" r="2.7"/><circle cx="1089.8" cy="336.8" r="2.7"/><circle cx="1026.8" cy="339.5" r="2.7"/><circle cx="1102.2" cy="342.8" r="2.7"/><circle cx="1055.8" cy="346.5" r="2.7"/><circle cx="1009.5" cy="350.0" r="2.7"/><circle cx="1014.5" cy="354.2" r="2.7"/><circle cx="1039.0" cy="353.2" r="2.7"/><circle cx="1121.5" cy="354.2" r="2.7"/><circle cx="1038.8" cy="360.0" r="2.7"/><circle cx="1041.2" cy="366.5" r="2.7"/><circle cx="1031.5" cy="370.8" r="2.7"/><circle cx="1022.2" cy="378.8" r="2.7"/><circle cx="1044.5" cy="385.0" r="2.7"/><circle cx="1046.2" cy="388.0" r="2.7"/><circle cx="1050.8" cy="388.0" r="2.7"/><circle cx="1033.5" cy="387.5" r="2.7"/><circle cx="1093.5" cy="388.5" r="2.7"/><circle cx="1141.5" cy="385.2" r="2.7"/><circle cx="1060.5" cy="393.2" r="2.7"/><circle cx="1033.8" cy="400.0" r="2.7"/><circle cx="1071.8" cy="401.2" r="2.7"/><circle cx="1066.2" cy="404.5" r="2.7"/><circle cx="1055.0" cy="405.0" r="2.7"/><circle cx="1070.8" cy="406.2" r="2.7"/><circle cx="1008.2" cy="406.0" r="2.7"/><circle cx="1025.0" cy="406.5" r="2.7"/><circle cx="1037.0" cy="407.0" r="2.7"/><circle cx="1048.0" cy="408.2" r="2.7"/><circle cx="1088.8" cy="405.8" r="2.7"/><circle cx="1030.0" cy="415.0" r="2.7"/><circle cx="1022.2" cy="417.5" r="2.7"/><circle cx="1068.8" cy="418.5" r="2.7"/><circle cx="1057.8" cy="421.0" r="2.7"/><circle cx="1099.8" cy="417.5" r="2.7"/><circle cx="1139.2" cy="417.0" r="2.7"/><circle cx="1033.8" cy="422.0" r="2.7"/><circle cx="1035.5" cy="426.2" r="2.7"/><circle cx="1027.5" cy="427.0" r="2.7"/><circle cx="1051.8" cy="428.2" r="2.7"/><circle cx="1083.0" cy="428.2" r="2.7"/><circle cx="1021.5" cy="430.0" r="2.7"/><circle cx="1037.0" cy="430.5" r="2.7"/><circle cx="1172.0" cy="432.2" r="2.7"/><circle cx="1007.5" cy="432.5" r="2.7"/><circle cx="1010.0" cy="436.2" r="2.7"/><circle cx="1076.2" cy="436.2" r="2.7"/><circle cx="1087.5" cy="436.2" r="2.7"/><circle cx="1090.0" cy="438.2" r="2.7"/><circle cx="1031.5" cy="437.5" r="2.7"/><circle cx="1060.0" cy="437.5" r="2.7"/><circle cx="1051.8" cy="440.0" r="2.7"/><circle cx="1060.0" cy="441.2" r="2.7"/><circle cx="1078.0" cy="441.2" r="2.7"/><circle cx="1028.0" cy="442.5" r="2.7"/><circle cx="1034.2" cy="444.2" r="2.7"/><circle cx="1014.0" cy="442.5" r="2.7"/><circle cx="1004.2" cy="446.5" r="2.7"/><circle cx="1055.0" cy="447.0" r="2.7"/><circle cx="1050.0" cy="448.2" r="2.7"/><circle cx="1044.2" cy="449.2" r="2.7"/><circle cx="1066.2" cy="448.2" r="2.7"/><circle cx="1007.5" cy="450.5" r="2.7"/><circle cx="1086.2" cy="451.2" r="2.7"/><circle cx="1088.8" cy="453.8" r="2.7"/><circle cx="1107.0" cy="455.0" r="2.7"/><circle cx="1011.9" cy="452.3" r="2.7"/><circle cx="1017.3" cy="453.3" r="2.7"/><circle cx="1057.5" cy="453.3" r="2.7"/><circle cx="1073.2" cy="453.0" r="2.7"/><circle cx="1013.0" cy="454.2" r="2.7"/><circle cx="1017.3" cy="455.7" r="2.7"/><circle cx="1036.8" cy="455.6" r="2.7"/><circle cx="1042.9" cy="455.1" r="2.7"/><circle cx="1020.3" cy="457.9" r="2.7"/><circle cx="1021.7" cy="456.2" r="2.7"/><circle cx="1024.0" cy="456.7" r="2.7"/><circle cx="1032.7" cy="456.9" r="2.7"/><circle cx="1037.3" cy="456.6" r="2.7"/><circle cx="1013.0" cy="458.5" r="2.7"/><circle cx="1014.2" cy="458.8" r="2.7"/><circle cx="1018.6" cy="459.0" r="2.7"/><circle cx="1019.0" cy="458.1" r="2.7"/><circle cx="1027.8" cy="459.6" r="2.7"/><circle cx="1037.9" cy="458.4" r="2.7"/><circle cx="1058.0" cy="459.0" r="2.7"/><circle cx="1079.2" cy="459.3" r="2.7"/><circle cx="1006.4" cy="461.0" r="2.7"/><circle cx="1007.3" cy="461.3" r="2.7"/><circle cx="1010.3" cy="460.3" r="2.7"/><circle cx="1012.0" cy="460.6" r="2.7"/><circle cx="1014.0" cy="461.2" r="2.7"/><circle cx="1020.2" cy="461.6" r="2.7"/><circle cx="1021.9" cy="461.7" r="2.7"/><circle cx="1023.7" cy="460.9" r="2.7"/><circle cx="1025.2" cy="461.2" r="2.7"/><circle cx="1025.1" cy="461.9" r="2.7"/><circle cx="1027.5" cy="461.7" r="2.7"/><circle cx="1031.0" cy="461.8" r="2.7"/><circle cx="1074.6" cy="460.6" r="2.7"/><circle cx="1004.0" cy="463.0" r="2.7"/><circle cx="1007.4" cy="462.7" r="2.7"/><circle cx="1008.5" cy="463.3" r="2.7"/><circle cx="1007.8" cy="463.0" r="2.7"/><circle cx="1012.0" cy="463.6" r="2.7"/><circle cx="1016.6" cy="462.2" r="2.7"/><circle cx="1019.8" cy="463.2" r="2.7"/><circle cx="1028.7" cy="463.1" r="2.7"/><circle cx="1051.2" cy="462.8" r="2.7"/><circle cx="1001.2" cy="465.7" r="2.7"/><circle cx="1003.5" cy="464.2" r="2.7"/><circle cx="1009.6" cy="464.9" r="2.7"/><circle cx="1013.4" cy="464.0" r="2.7"/><circle cx="1013.7" cy="464.2" r="2.7"/><circle cx="1015.1" cy="465.5" r="2.7"/><circle cx="1015.8" cy="465.9" r="2.7"/><circle cx="1015.8" cy="464.6" r="2.7"/><circle cx="1019.9" cy="465.5" r="2.7"/><circle cx="1020.7" cy="465.0" r="2.7"/><circle cx="1026.3" cy="465.1" r="2.7"/><circle cx="1027.5" cy="465.1" r="2.7"/><circle cx="1029.7" cy="465.8" r="2.7"/><circle cx="1032.3" cy="465.3" r="2.7"/><circle cx="1033.3" cy="464.6" r="2.7"/><circle cx="1007.9" cy="467.5" r="2.7"/><circle cx="1014.9" cy="467.8" r="2.7"/><circle cx="1017.1" cy="466.9" r="2.7"/><circle cx="1020.2" cy="467.4" r="2.7"/><circle cx="1023.6" cy="467.4" r="2.7"/><circle cx="1066.2" cy="467.7" r="2.7"/><circle cx="1002.6" cy="469.2" r="2.7"/><circle cx="1001.4" cy="470.0" r="2.7"/><circle cx="1002.3" cy="469.6" r="2.7"/><circle cx="1004.7" cy="468.4" r="2.7"/><circle cx="1007.9" cy="469.4" r="2.7"/><circle cx="1012.0" cy="469.3" r="2.7"/><circle cx="1013.4" cy="469.9" r="2.7"/><circle cx="1021.8" cy="469.1" r="2.7"/><circle cx="1022.0" cy="468.4" r="2.7"/><circle cx="1024.7" cy="468.5" r="2.7"/><circle cx="1024.5" cy="469.4" r="2.7"/><circle cx="1024.9" cy="469.7" r="2.7"/><circle cx="1024.8" cy="468.5" r="2.7"/><circle cx="1025.6" cy="468.7" r="2.7"/><circle cx="1027.3" cy="468.3" r="2.7"/><circle cx="1028.1" cy="468.4" r="2.7"/><circle cx="1027.7" cy="468.2" r="2.7"/><circle cx="1032.7" cy="468.7" r="2.7"/><circle cx="1033.5" cy="468.8" r="2.7"/><circle cx="1049.5" cy="468.0" r="2.7"/><circle cx="1065.0" cy="469.8" r="2.7"/><circle cx="1002.9" cy="471.6" r="2.7"/><circle cx="1005.6" cy="470.2" r="2.7"/><circle cx="1008.4" cy="471.8" r="2.7"/><circle cx="1007.3" cy="470.3" r="2.7"/><circle cx="1010.9" cy="472.0" r="2.7"/><circle cx="1014.9" cy="470.3" r="2.7"/><circle cx="1013.2" cy="470.9" r="2.7"/><circle cx="1018.9" cy="470.8" r="2.7"/><circle cx="1019.5" cy="470.6" r="2.7"/><circle cx="1020.0" cy="470.8" r="2.7"/><circle cx="1021.6" cy="471.2" r="2.7"/><circle cx="1023.7" cy="470.0" r="2.7"/><circle cx="1032.9" cy="471.7" r="2.7"/><circle cx="1069.1" cy="471.8" r="2.7"/><circle cx="1105.9" cy="471.1" r="2.7"/><circle cx="1001.6" cy="473.8" r="2.7"/><circle cx="1006.3" cy="473.6" r="2.7"/><circle cx="1014.2" cy="472.7" r="2.7"/><circle cx="1016.9" cy="472.5" r="2.7"/><circle cx="1016.0" cy="472.8" r="2.7"/><circle cx="1020.1" cy="473.5" r="2.7"/><circle cx="1021.5" cy="473.0" r="2.7"/><circle cx="1024.7" cy="472.8" r="2.7"/><circle cx="1025.7" cy="472.3" r="2.7"/><circle cx="1025.3" cy="472.6" r="2.7"/><circle cx="1027.2" cy="473.6" r="2.7"/><circle cx="1033.4" cy="473.9" r="2.7"/><circle cx="1035.0" cy="473.7" r="2.7"/><circle cx="1038.5" cy="473.5" r="2.7"/><circle cx="1042.7" cy="473.8" r="2.7"/><circle cx="1041.6" cy="473.4" r="2.7"/><circle cx="1002.1" cy="475.4" r="2.7"/><circle cx="1001.3" cy="474.8" r="2.7"/><circle cx="1007.7" cy="474.6" r="2.7"/><circle cx="1009.8" cy="475.8" r="2.7"/><circle cx="1010.9" cy="474.9" r="2.7"/><circle cx="1011.5" cy="474.2" r="2.7"/><circle cx="1012.0" cy="475.5" r="2.7"/><circle cx="1018.7" cy="475.8" r="2.7"/><circle cx="1017.8" cy="474.2" r="2.7"/><circle cx="1020.3" cy="474.6" r="2.7"/><circle cx="1020.0" cy="474.6" r="2.7"/><circle cx="1024.8" cy="475.9" r="2.7"/><circle cx="1026.8" cy="475.3" r="2.7"/><circle cx="1026.7" cy="474.8" r="2.7"/><circle cx="1028.7" cy="475.6" r="2.7"/><circle cx="1032.5" cy="474.9" r="2.7"/><circle cx="1037.2" cy="476.0" r="2.7"/><circle cx="1049.7" cy="474.2" r="2.7"/><circle cx="1059.7" cy="474.8" r="2.7"/><circle cx="1064.1" cy="474.9" r="2.7"/><circle cx="1073.4" cy="474.1" r="2.7"/><circle cx="1003.9" cy="476.5" r="2.7"/><circle cx="1003.4" cy="476.4" r="2.7"/><circle cx="1006.4" cy="476.7" r="2.7"/><circle cx="1007.8" cy="477.1" r="2.7"/><circle cx="1007.4" cy="477.9" r="2.7"/><circle cx="1010.3" cy="476.2" r="2.7"/><circle cx="1015.9" cy="477.7" r="2.7"/><circle cx="1017.5" cy="477.4" r="2.7"/><circle cx="1017.6" cy="477.4" r="2.7"/><circle cx="1022.6" cy="478.0" r="2.7"/><circle cx="1026.8" cy="476.1" r="2.7"/><circle cx="1028.5" cy="476.6" r="2.7"/><circle cx="1032.5" cy="477.0" r="2.7"/><circle cx="1035.9" cy="476.0" r="2.7"/><circle cx="1003.0" cy="479.8" r="2.7"/><circle cx="1019.6" cy="479.1" r="2.7"/><circle cx="1022.8" cy="479.6" r="2.7"/><circle cx="1022.1" cy="479.0" r="2.7"/><circle cx="1028.9" cy="479.8" r="2.7"/><circle cx="1027.1" cy="479.4" r="2.7"/><circle cx="1034.0" cy="479.3" r="2.7"/><circle cx="1042.4" cy="478.1" r="2.7"/><circle cx="1069.8" cy="479.9" r="2.7"/><circle cx="1073.4" cy="479.1" r="2.7"/><circle cx="1076.7" cy="479.5" r="2.7"/><circle cx="1084.6" cy="479.4" r="2.7"/><circle cx="1002.4" cy="481.5" r="2.7"/><circle cx="1002.2" cy="480.0" r="2.7"/><circle cx="1002.8" cy="480.9" r="2.7"/><circle cx="1003.1" cy="481.8" r="2.7"/><circle cx="1003.5" cy="480.1" r="2.7"/><circle cx="1007.3" cy="481.8" r="2.7"/><circle cx="1008.3" cy="481.2" r="2.7"/><circle cx="1013.8" cy="480.1" r="2.7"/><circle cx="1016.9" cy="481.7" r="2.7"/><circle cx="1018.4" cy="481.0" r="2.7"/><circle cx="1020.0" cy="481.6" r="2.7"/><circle cx="1023.5" cy="480.5" r="2.7"/><circle cx="1026.1" cy="481.8" r="2.7"/><circle cx="1029.0" cy="480.4" r="2.7"/><circle cx="1042.8" cy="481.4" r="2.7"/><circle cx="1067.4" cy="480.2" r="2.7"/><circle cx="1005.5" cy="482.0" r="2.7"/><circle cx="1007.9" cy="482.6" r="2.7"/><circle cx="1007.1" cy="483.8" r="2.7"/><circle cx="1009.5" cy="483.4" r="2.7"/><circle cx="1011.8" cy="482.5" r="2.7"/><circle cx="1014.2" cy="484.0" r="2.7"/><circle cx="1014.4" cy="482.9" r="2.7"/><circle cx="1013.3" cy="482.1" r="2.7"/><circle cx="1016.6" cy="483.3" r="2.7"/><circle cx="1018.9" cy="483.2" r="2.7"/><circle cx="1021.5" cy="483.9" r="2.7"/><circle cx="1023.5" cy="482.7" r="2.7"/><circle cx="1025.9" cy="483.6" r="2.7"/><circle cx="1030.9" cy="483.9" r="2.7"/><circle cx="1108.4" cy="482.8" r="2.7"/><circle cx="1001.4" cy="484.7" r="2.7"/><circle cx="1003.0" cy="485.4" r="2.7"/><circle cx="1013.5" cy="484.6" r="2.7"/><circle cx="1013.6" cy="484.7" r="2.7"/><circle cx="1016.8" cy="485.3" r="2.7"/><circle cx="1015.2" cy="484.1" r="2.7"/><circle cx="1022.2" cy="484.9" r="2.7"/><circle cx="1025.1" cy="486.0" r="2.7"/><circle cx="1025.5" cy="485.7" r="2.7"/><circle cx="1033.2" cy="484.4" r="2.7"/><circle cx="1036.4" cy="484.6" r="2.7"/><circle cx="1035.5" cy="484.2" r="2.7"/><circle cx="1038.2" cy="484.7" r="2.7"/><circle cx="1043.3" cy="485.3" r="2.7"/><circle cx="1003.7" cy="487.9" r="2.7"/><circle cx="1006.6" cy="487.1" r="2.7"/><circle cx="1005.2" cy="486.5" r="2.7"/><circle cx="1005.2" cy="487.8" r="2.7"/><circle cx="1012.4" cy="487.6" r="2.7"/><circle cx="1013.3" cy="487.5" r="2.7"/><circle cx="1014.4" cy="486.7" r="2.7"/><circle cx="1020.6" cy="486.7" r="2.7"/><circle cx="1024.8" cy="486.7" r="2.7"/><circle cx="1026.7" cy="487.5" r="2.7"/><circle cx="1027.5" cy="487.8" r="2.7"/><circle cx="1029.2" cy="486.4" r="2.7"/><circle cx="1032.6" cy="487.1" r="2.7"/><circle cx="1043.3" cy="487.3" r="2.7"/><circle cx="1048.9" cy="486.1" r="2.7"/><circle cx="1076.4" cy="486.6" r="2.7"/><circle cx="1119.1" cy="486.2" r="2.7"/><circle cx="1003.5" cy="488.9" r="2.7"/><circle cx="1007.9" cy="488.6" r="2.7"/><circle cx="1008.2" cy="488.7" r="2.7"/><circle cx="1009.2" cy="488.7" r="2.7"/><circle cx="1009.3" cy="488.8" r="2.7"/><circle cx="1011.0" cy="489.7" r="2.7"/><circle cx="1010.9" cy="488.4" r="2.7"/><circle cx="1020.3" cy="489.1" r="2.7"/><circle cx="1022.5" cy="489.4" r="2.7"/><circle cx="1023.9" cy="488.6" r="2.7"/><circle cx="1027.4" cy="489.7" r="2.7"/><circle cx="1030.0" cy="488.4" r="2.7"/><circle cx="1029.5" cy="489.5" r="2.7"/><circle cx="1031.0" cy="488.7" r="2.7"/><circle cx="1040.8" cy="488.7" r="2.7"/><circle cx="1046.7" cy="488.1" r="2.7"/><circle cx="1051.7" cy="490.0" r="2.7"/><circle cx="1052.1" cy="489.9" r="2.7"/><circle cx="1058.1" cy="488.7" r="2.7"/><circle cx="1062.8" cy="488.5" r="2.7"/><circle cx="1069.7" cy="489.2" r="2.7"/><circle cx="1080.4" cy="488.7" r="2.7"/><circle cx="1085.9" cy="489.6" r="2.7"/><circle cx="1088.1" cy="488.5" r="2.7"/><circle cx="1092.3" cy="489.7" r="2.7"/><circle cx="1007.5" cy="491.6" r="2.7"/><circle cx="1009.0" cy="491.5" r="2.7"/><circle cx="1010.2" cy="490.7" r="2.7"/><circle cx="1017.2" cy="491.4" r="2.7"/><circle cx="1017.2" cy="490.4" r="2.7"/><circle cx="1021.6" cy="491.0" r="2.7"/><circle cx="1028.6" cy="490.4" r="2.7"/><circle cx="1036.5" cy="491.3" r="2.7"/><circle cx="1043.9" cy="491.4" r="2.7"/><circle cx="1057.7" cy="490.4" r="2.7"/><circle cx="1068.9" cy="490.9" r="2.7"/><circle cx="1077.6" cy="491.0" r="2.7"/><circle cx="1083.0" cy="490.1" r="2.7"/><circle cx="1001.6" cy="493.2" r="2.7"/><circle cx="1004.6" cy="492.8" r="2.7"/><circle cx="1005.9" cy="494.0" r="2.7"/><circle cx="1007.3" cy="492.1" r="2.7"/><circle cx="1008.7" cy="493.3" r="2.7"/><circle cx="1008.3" cy="492.6" r="2.7"/><circle cx="1011.7" cy="492.7" r="2.7"/><circle cx="1011.1" cy="494.0" r="2.7"/><circle cx="1013.8" cy="492.2" r="2.7"/><circle cx="1014.5" cy="493.6" r="2.7"/><circle cx="1015.0" cy="492.2" r="2.7"/><circle cx="1016.7" cy="493.7" r="2.7"/><circle cx="1018.7" cy="492.2" r="2.7"/><circle cx="1024.5" cy="493.6" r="2.7"/><circle cx="1026.9" cy="493.9" r="2.7"/><circle cx="1025.2" cy="493.5" r="2.7"/><circle cx="1033.9" cy="492.3" r="2.7"/><circle cx="1036.4" cy="493.0" r="2.7"/><circle cx="1037.8" cy="493.5" r="2.7"/><circle cx="1039.6" cy="493.7" r="2.7"/><circle cx="1041.8" cy="493.1" r="2.7"/><circle cx="1081.5" cy="493.0" r="2.7"/><circle cx="1092.3" cy="493.2" r="2.7"/><circle cx="1099.3" cy="492.2" r="2.7"/><circle cx="1015.0" cy="494.5" r="2.7"/><circle cx="1016.8" cy="494.9" r="2.7"/><circle cx="1020.0" cy="495.1" r="2.7"/><circle cx="1019.2" cy="494.6" r="2.7"/><circle cx="1022.3" cy="495.2" r="2.7"/><circle cx="1029.2" cy="495.5" r="2.7"/><circle cx="1029.3" cy="494.7" r="2.7"/><circle cx="1033.8" cy="495.9" r="2.7"/><circle cx="1033.5" cy="495.1" r="2.7"/><circle cx="1043.3" cy="494.6" r="2.7"/><circle cx="1051.4" cy="495.1" r="2.7"/><circle cx="1106.1" cy="495.4" r="2.7"/><circle cx="1004.4" cy="497.0" r="2.7"/><circle cx="1007.5" cy="497.3" r="2.7"/><circle cx="1008.0" cy="497.9" r="2.7"/><circle cx="1007.9" cy="496.7" r="2.7"/><circle cx="1007.1" cy="496.9" r="2.7"/><circle cx="1009.2" cy="497.0" r="2.7"/><circle cx="1019.8" cy="496.3" r="2.7"/><circle cx="1023.7" cy="496.6" r="2.7"/><circle cx="1024.5" cy="497.0" r="2.7"/><circle cx="1025.3" cy="496.4" r="2.7"/><circle cx="1034.2" cy="497.9" r="2.7"/><circle cx="1039.1" cy="497.9" r="2.7"/><circle cx="1048.3" cy="496.6" r="2.7"/><circle cx="1049.6" cy="497.8" r="2.7"/><circle cx="1057.4" cy="497.6" r="2.7"/><circle cx="1002.7" cy="498.3" r="2.7"/><circle cx="1007.9" cy="498.9" r="2.7"/><circle cx="1011.6" cy="499.7" r="2.7"/><circle cx="1013.8" cy="498.9" r="2.7"/><circle cx="1013.5" cy="499.5" r="2.7"/><circle cx="1014.8" cy="498.3" r="2.7"/><circle cx="1015.9" cy="498.2" r="2.7"/><circle cx="1015.9" cy="499.0" r="2.7"/><circle cx="1017.6" cy="500.0" r="2.7"/><circle cx="1022.5" cy="498.8" r="2.7"/><circle cx="1024.8" cy="498.5" r="2.7"/><circle cx="1034.4" cy="498.1" r="2.7"/><circle cx="1047.2" cy="498.2" r="2.7"/><circle cx="1055.2" cy="499.6" r="2.7"/><circle cx="1056.5" cy="498.9" r="2.7"/><circle cx="1057.2" cy="498.4" r="2.7"/><circle cx="1071.5" cy="499.7" r="2.7"/><circle cx="1005.4" cy="501.2" r="2.7"/><circle cx="1005.6" cy="500.9" r="2.7"/><circle cx="1008.0" cy="500.6" r="2.7"/><circle cx="1010.3" cy="500.6" r="2.7"/><circle cx="1009.5" cy="501.0" r="2.7"/><circle cx="1012.5" cy="501.0" r="2.7"/><circle cx="1017.1" cy="501.3" r="2.7"/><circle cx="1017.0" cy="501.7" r="2.7"/><circle cx="1018.4" cy="500.7" r="2.7"/><circle cx="1021.7" cy="501.6" r="2.7"/><circle cx="1023.2" cy="500.4" r="2.7"/><circle cx="1034.8" cy="500.9" r="2.7"/><circle cx="1041.0" cy="500.7" r="2.7"/><circle cx="1051.2" cy="500.1" r="2.7"/><circle cx="1073.3" cy="501.4" r="2.7"/><circle cx="1076.3" cy="501.6" r="2.7"/><circle cx="1098.8" cy="500.2" r="2.7"/><circle cx="1002.0" cy="502.2" r="2.7"/><circle cx="1002.4" cy="502.3" r="2.7"/><circle cx="1003.7" cy="503.3" r="2.7"/><circle cx="1004.4" cy="502.9" r="2.7"/><circle cx="1003.6" cy="502.8" r="2.7"/><circle cx="1005.3" cy="503.0" r="2.7"/><circle cx="1007.5" cy="503.9" r="2.7"/><circle cx="1011.2" cy="503.0" r="2.7"/><circle cx="1014.4" cy="503.2" r="2.7"/><circle cx="1014.0" cy="503.3" r="2.7"/><circle cx="1016.4" cy="502.3" r="2.7"/><circle cx="1020.4" cy="503.0" r="2.7"/><circle cx="1019.8" cy="503.1" r="2.7"/><circle cx="1028.7" cy="502.6" r="2.7"/><circle cx="1028.6" cy="503.3" r="2.7"/><circle cx="1028.2" cy="503.5" r="2.7"/><circle cx="1032.5" cy="503.7" r="2.7"/><circle cx="1042.0" cy="503.1" r="2.7"/><circle cx="1043.7" cy="503.4" r="2.7"/><circle cx="1058.9" cy="502.6" r="2.7"/><circle cx="1069.7" cy="502.6" r="2.7"/><circle cx="1072.7" cy="503.7" r="2.7"/><circle cx="1075.8" cy="502.9" r="2.7"/><circle cx="1106.3" cy="502.1" r="2.7"/><circle cx="1002.6" cy="505.6" r="2.7"/><circle cx="1002.3" cy="505.3" r="2.7"/><circle cx="1011.0" cy="504.1" r="2.7"/><circle cx="1009.1" cy="504.7" r="2.7"/><circle cx="1013.8" cy="505.7" r="2.7"/><circle cx="1015.9" cy="504.9" r="2.7"/><circle cx="1018.1" cy="505.0" r="2.7"/><circle cx="1023.9" cy="504.1" r="2.7"/><circle cx="1026.8" cy="504.1" r="2.7"/><circle cx="1027.5" cy="504.8" r="2.7"/><circle cx="1029.8" cy="504.8" r="2.7"/><circle cx="1035.3" cy="505.1" r="2.7"/><circle cx="1040.4" cy="504.7" r="2.7"/><circle cx="1041.9" cy="504.6" r="2.7"/><circle cx="1051.9" cy="505.1" r="2.7"/><circle cx="1073.5" cy="504.4" r="2.7"/><circle cx="1004.9" cy="507.9" r="2.7"/><circle cx="1005.3" cy="508.0" r="2.7"/><circle cx="1006.7" cy="507.2" r="2.7"/><circle cx="1006.2" cy="506.9" r="2.7"/><circle cx="1011.2" cy="507.7" r="2.7"/><circle cx="1014.2" cy="506.6" r="2.7"/><circle cx="1014.7" cy="506.4" r="2.7"/><circle cx="1015.7" cy="506.2" r="2.7"/><circle cx="1018.6" cy="506.4" r="2.7"/><circle cx="1024.3" cy="506.1" r="2.7"/><circle cx="1027.2" cy="506.9" r="2.7"/><circle cx="1030.1" cy="506.8" r="2.7"/><circle cx="1035.7" cy="506.6" r="2.7"/><circle cx="1040.2" cy="507.1" r="2.7"/><circle cx="1039.4" cy="506.1" r="2.7"/><circle cx="1042.1" cy="506.0" r="2.7"/><circle cx="1052.0" cy="506.0" r="2.7"/><circle cx="1054.7" cy="506.1" r="2.7"/><circle cx="1055.4" cy="506.8" r="2.7"/><circle cx="1074.4" cy="506.8" r="2.7"/><circle cx="1076.5" cy="507.2" r="2.7"/><circle cx="1080.9" cy="506.7" r="2.7"/><circle cx="1002.2" cy="509.1" r="2.7"/><circle cx="1003.9" cy="508.8" r="2.7"/><circle cx="1004.4" cy="508.2" r="2.7"/><circle cx="1005.7" cy="508.2" r="2.7"/><circle cx="1005.2" cy="509.1" r="2.7"/><circle cx="1006.8" cy="509.7" r="2.7"/><circle cx="1010.7" cy="508.4" r="2.7"/><circle cx="1009.7" cy="509.0" r="2.7"/><circle cx="1011.6" cy="509.7" r="2.7"/><circle cx="1019.7" cy="509.3" r="2.7"/><circle cx="1022.9" cy="508.6" r="2.7"/><circle cx="1023.1" cy="508.4" r="2.7"/><circle cx="1023.3" cy="509.7" r="2.7"/><circle cx="1025.5" cy="509.0" r="2.7"/><circle cx="1031.5" cy="509.2" r="2.7"/><circle cx="1046.8" cy="509.2" r="2.7"/><circle cx="1051.1" cy="508.8" r="2.7"/><circle cx="1058.5" cy="509.5" r="2.7"/><circle cx="1082.9" cy="508.1" r="2.7"/><circle cx="1083.1" cy="509.5" r="2.7"/><circle cx="1105.3" cy="509.8" r="2.7"/><circle cx="1002.5" cy="511.1" r="2.7"/><circle cx="1004.7" cy="511.0" r="2.7"/><circle cx="1006.4" cy="510.8" r="2.7"/><circle cx="1007.3" cy="510.6" r="2.7"/><circle cx="1010.3" cy="511.1" r="2.7"/><circle cx="1012.0" cy="511.0" r="2.7"/><circle cx="1014.0" cy="510.5" r="2.7"/><circle cx="1015.4" cy="510.5" r="2.7"/><circle cx="1018.8" cy="511.5" r="2.7"/><circle cx="1022.9" cy="511.3" r="2.7"/><circle cx="1026.3" cy="510.6" r="2.7"/><circle cx="1028.6" cy="511.8" r="2.7"/><circle cx="1027.6" cy="511.4" r="2.7"/><circle cx="1030.7" cy="510.5" r="2.7"/><circle cx="1030.6" cy="511.4" r="2.7"/><circle cx="1034.5" cy="511.3" r="2.7"/><circle cx="1033.8" cy="511.0" r="2.7"/><circle cx="1034.0" cy="510.4" r="2.7"/><circle cx="1033.5" cy="511.7" r="2.7"/><circle cx="1036.4" cy="511.0" r="2.7"/><circle cx="1045.9" cy="510.2" r="2.7"/><circle cx="1050.6" cy="511.6" r="2.7"/><circle cx="1052.9" cy="510.7" r="2.7"/><circle cx="1056.4" cy="510.2" r="2.7"/><circle cx="1067.4" cy="511.4" r="2.7"/><circle cx="1119.8" cy="512.0" r="2.7"/><circle cx="1003.8" cy="512.6" r="2.7"/><circle cx="1005.4" cy="514.0" r="2.7"/><circle cx="1006.4" cy="513.0" r="2.7"/><circle cx="1008.2" cy="513.6" r="2.7"/><circle cx="1010.0" cy="512.5" r="2.7"/><circle cx="1010.2" cy="512.8" r="2.7"/><circle cx="1012.2" cy="513.8" r="2.7"/><circle cx="1021.7" cy="513.8" r="2.7"/><circle cx="1022.7" cy="514.0" r="2.7"/><circle cx="1023.1" cy="512.5" r="2.7"/><circle cx="1025.5" cy="512.9" r="2.7"/><circle cx="1027.2" cy="512.7" r="2.7"/><circle cx="1036.6" cy="513.7" r="2.7"/><circle cx="1036.3" cy="512.6" r="2.7"/><circle cx="1037.1" cy="513.9" r="2.7"/><circle cx="1041.2" cy="513.3" r="2.7"/><circle cx="1041.3" cy="513.3" r="2.7"/><circle cx="1052.4" cy="513.2" r="2.7"/><circle cx="1056.2" cy="513.0" r="2.7"/><circle cx="1056.5" cy="513.1" r="2.7"/><circle cx="1105.7" cy="513.4" r="2.7"/><circle cx="1005.7" cy="514.9" r="2.7"/><circle cx="1007.7" cy="514.0" r="2.7"/><circle cx="1007.4" cy="514.7" r="2.7"/><circle cx="1007.4" cy="515.0" r="2.7"/><circle cx="1007.3" cy="515.3" r="2.7"/><circle cx="1013.0" cy="515.7" r="2.7"/><circle cx="1015.5" cy="515.4" r="2.7"/><circle cx="1015.3" cy="515.9" r="2.7"/><circle cx="1017.1" cy="514.6" r="2.7"/><circle cx="1022.2" cy="514.2" r="2.7"/><circle cx="1023.4" cy="514.5" r="2.7"/><circle cx="1023.1" cy="515.1" r="2.7"/><circle cx="1023.2" cy="514.4" r="2.7"/><circle cx="1028.9" cy="514.3" r="2.7"/><circle cx="1027.3" cy="514.8" r="2.7"/><circle cx="1030.6" cy="515.1" r="2.7"/><circle cx="1031.1" cy="514.2" r="2.7"/><circle cx="1034.5" cy="514.4" r="2.7"/><circle cx="1039.3" cy="515.5" r="2.7"/><circle cx="1048.4" cy="514.4" r="2.7"/><circle cx="1054.7" cy="515.8" r="2.7"/><circle cx="1062.0" cy="515.5" r="2.7"/><circle cx="1082.7" cy="514.3" r="2.7"/><circle cx="1094.3" cy="514.7" r="2.7"/><circle cx="1114.2" cy="514.4" r="2.7"/><circle cx="1002.0" cy="517.5" r="2.7"/><circle cx="1004.5" cy="516.0" r="2.7"/><circle cx="1004.3" cy="517.1" r="2.7"/><circle cx="1010.0" cy="517.6" r="2.7"/><circle cx="1009.2" cy="517.8" r="2.7"/><circle cx="1011.4" cy="516.3" r="2.7"/><circle cx="1018.9" cy="516.9" r="2.7"/><circle cx="1018.3" cy="516.0" r="2.7"/><circle cx="1025.6" cy="517.1" r="2.7"/><circle cx="1027.2" cy="517.4" r="2.7"/><circle cx="1037.4" cy="516.1" r="2.7"/><circle cx="1042.1" cy="516.7" r="2.7"/><circle cx="1043.0" cy="517.4" r="2.7"/><circle cx="1060.0" cy="517.5" r="2.7"/><circle cx="1061.8" cy="517.4" r="2.7"/><circle cx="1084.7" cy="517.9" r="2.7"/><circle cx="1083.9" cy="517.7" r="2.7"/><circle cx="1108.6" cy="517.9" r="2.7"/><circle cx="1006.8" cy="519.1" r="2.7"/><circle cx="1007.5" cy="519.1" r="2.7"/><circle cx="1007.6" cy="519.7" r="2.7"/><circle cx="1007.1" cy="519.3" r="2.7"/><circle cx="1014.9" cy="519.9" r="2.7"/><circle cx="1014.1" cy="519.1" r="2.7"/><circle cx="1013.4" cy="519.6" r="2.7"/><circle cx="1016.8" cy="519.2" r="2.7"/><circle cx="1017.3" cy="518.9" r="2.7"/><circle cx="1023.3" cy="518.9" r="2.7"/><circle cx="1027.4" cy="519.3" r="2.7"/><circle cx="1030.4" cy="519.2" r="2.7"/><circle cx="1044.7" cy="519.6" r="2.7"/><circle cx="1046.0" cy="519.7" r="2.7"/><circle cx="1058.0" cy="518.2" r="2.7"/><circle cx="1058.5" cy="519.0" r="2.7"/><circle cx="1061.4" cy="519.0" r="2.7"/><circle cx="1063.5" cy="519.6" r="2.7"/><circle cx="1067.5" cy="518.6" r="2.7"/><circle cx="1076.6" cy="518.1" r="2.7"/><circle cx="1101.4" cy="518.5" r="2.7"/><circle cx="1004.5" cy="520.9" r="2.7"/><circle cx="1006.2" cy="521.9" r="2.7"/><circle cx="1006.6" cy="520.7" r="2.7"/><circle cx="1005.2" cy="521.8" r="2.7"/><circle cx="1010.5" cy="521.2" r="2.7"/><circle cx="1009.4" cy="520.2" r="2.7"/><circle cx="1010.5" cy="520.9" r="2.7"/><circle cx="1009.2" cy="521.1" r="2.7"/><circle cx="1016.6" cy="520.9" r="2.7"/><circle cx="1015.9" cy="520.9" r="2.7"/><circle cx="1020.4" cy="520.4" r="2.7"/><circle cx="1019.0" cy="521.4" r="2.7"/><circle cx="1023.0" cy="521.4" r="2.7"/><circle cx="1026.8" cy="520.9" r="2.7"/><circle cx="1025.5" cy="520.8" r="2.7"/><circle cx="1027.6" cy="520.1" r="2.7"/><circle cx="1031.8" cy="521.7" r="2.7"/><circle cx="1052.3" cy="521.0" r="2.7"/><circle cx="1052.1" cy="521.7" r="2.7"/><circle cx="1056.8" cy="520.2" r="2.7"/><circle cx="1058.8" cy="521.6" r="2.7"/><circle cx="1060.0" cy="521.6" r="2.7"/><circle cx="1059.1" cy="521.1" r="2.7"/><circle cx="1076.1" cy="521.0" r="2.7"/><circle cx="1090.5" cy="520.8" r="2.7"/><circle cx="1099.9" cy="520.1" r="2.7"/><circle cx="1002.3" cy="523.0" r="2.7"/><circle cx="1004.7" cy="522.5" r="2.7"/><circle cx="1004.3" cy="522.0" r="2.7"/><circle cx="1005.9" cy="523.0" r="2.7"/><circle cx="1011.1" cy="522.5" r="2.7"/><circle cx="1013.6" cy="523.2" r="2.7"/><circle cx="1017.4" cy="522.3" r="2.7"/><circle cx="1017.9" cy="522.6" r="2.7"/><circle cx="1019.1" cy="522.2" r="2.7"/><circle cx="1019.6" cy="522.3" r="2.7"/><circle cx="1026.3" cy="522.3" r="2.7"/><circle cx="1026.2" cy="523.8" r="2.7"/><circle cx="1026.8" cy="522.3" r="2.7"/><circle cx="1030.5" cy="522.1" r="2.7"/><circle cx="1035.6" cy="522.0" r="2.7"/><circle cx="1037.7" cy="522.7" r="2.7"/><circle cx="1038.6" cy="523.9" r="2.7"/><circle cx="1043.9" cy="522.6" r="2.7"/><circle cx="1046.7" cy="522.8" r="2.7"/><circle cx="1045.8" cy="523.6" r="2.7"/><circle cx="1048.7" cy="523.8" r="2.7"/><circle cx="1048.9" cy="523.1" r="2.7"/><circle cx="1060.9" cy="522.0" r="2.7"/><circle cx="1002.8" cy="525.1" r="2.7"/><circle cx="1003.8" cy="524.2" r="2.7"/><circle cx="1004.7" cy="525.8" r="2.7"/><circle cx="1004.4" cy="524.4" r="2.7"/><circle cx="1005.7" cy="525.0" r="2.7"/><circle cx="1008.3" cy="526.0" r="2.7"/><circle cx="1010.5" cy="524.8" r="2.7"/><circle cx="1012.5" cy="524.6" r="2.7"/><circle cx="1014.6" cy="525.0" r="2.7"/><circle cx="1015.0" cy="525.8" r="2.7"/><circle cx="1016.0" cy="525.3" r="2.7"/><circle cx="1019.0" cy="524.8" r="2.7"/><circle cx="1018.5" cy="525.7" r="2.7"/><circle cx="1031.0" cy="525.6" r="2.7"/><circle cx="1037.8" cy="525.0" r="2.7"/><circle cx="1043.9" cy="525.3" r="2.7"/><circle cx="1062.5" cy="525.5" r="2.7"/><circle cx="1078.9" cy="525.2" r="2.7"/><circle cx="1082.2" cy="524.0" r="2.7"/><circle cx="1005.3" cy="526.1" r="2.7"/><circle cx="1008.9" cy="527.4" r="2.7"/><circle cx="1020.2" cy="527.0" r="2.7"/><circle cx="1020.3" cy="527.0" r="2.7"/><circle cx="1019.8" cy="527.7" r="2.7"/><circle cx="1025.9" cy="526.8" r="2.7"/><circle cx="1025.4" cy="526.7" r="2.7"/><circle cx="1028.0" cy="526.6" r="2.7"/><circle cx="1032.0" cy="526.4" r="2.7"/><circle cx="1045.8" cy="526.9" r="2.7"/><circle cx="1045.4" cy="526.9" r="2.7"/><circle cx="1047.8" cy="526.4" r="2.7"/><circle cx="1050.0" cy="526.1" r="2.7"/><circle cx="1052.6" cy="527.4" r="2.7"/><circle cx="1053.5" cy="527.2" r="2.7"/><circle cx="1058.0" cy="526.7" r="2.7"/><circle cx="1077.6" cy="527.1" r="2.7"/><circle cx="1003.1" cy="528.3" r="2.7"/><circle cx="1007.9" cy="528.0" r="2.7"/><circle cx="1009.2" cy="528.1" r="2.7"/><circle cx="1018.5" cy="529.8" r="2.7"/><circle cx="1024.3" cy="529.5" r="2.7"/><circle cx="1025.3" cy="529.4" r="2.7"/><circle cx="1028.0" cy="529.7" r="2.7"/><circle cx="1027.8" cy="528.5" r="2.7"/><circle cx="1027.1" cy="528.4" r="2.7"/><circle cx="1031.7" cy="529.9" r="2.7"/><circle cx="1033.2" cy="528.7" r="2.7"/><circle cx="1038.9" cy="528.5" r="2.7"/><circle cx="1042.6" cy="529.2" r="2.7"/><circle cx="1047.0" cy="529.1" r="2.7"/><circle cx="1048.4" cy="529.5" r="2.7"/><circle cx="1048.3" cy="528.0" r="2.7"/><circle cx="1049.4" cy="528.2" r="2.7"/><circle cx="1059.0" cy="529.5" r="2.7"/><circle cx="1067.6" cy="528.0" r="2.7"/><circle cx="1076.3" cy="529.6" r="2.7"/><circle cx="1079.2" cy="528.3" r="2.7"/><circle cx="1086.0" cy="529.0" r="2.7"/><circle cx="1088.8" cy="529.4" r="2.7"/><circle cx="1092.1" cy="528.1" r="2.7"/><circle cx="1091.4" cy="529.3" r="2.7"/><circle cx="1102.5" cy="528.9" r="2.7"/><circle cx="1105.2" cy="529.8" r="2.7"/><circle cx="1105.1" cy="528.2" r="2.7"/><circle cx="1119.0" cy="529.6" r="2.7"/><circle cx="1117.9" cy="529.6" r="2.7"/><circle cx="1119.2" cy="528.7" r="2.7"/><circle cx="1003.9" cy="530.2" r="2.7"/><circle cx="1006.9" cy="530.2" r="2.7"/><circle cx="1007.4" cy="531.3" r="2.7"/><circle cx="1009.4" cy="531.0" r="2.7"/><circle cx="1011.7" cy="531.8" r="2.7"/><circle cx="1011.1" cy="531.0" r="2.7"/><circle cx="1013.0" cy="530.2" r="2.7"/><circle cx="1015.6" cy="530.9" r="2.7"/><circle cx="1021.6" cy="530.2" r="2.7"/><circle cx="1021.6" cy="531.0" r="2.7"/><circle cx="1024.7" cy="532.0" r="2.7"/><circle cx="1025.3" cy="531.3" r="2.7"/><circle cx="1029.1" cy="532.0" r="2.7"/><circle cx="1044.4" cy="530.4" r="2.7"/><circle cx="1047.7" cy="531.2" r="2.7"/><circle cx="1050.4" cy="530.9" r="2.7"/><circle cx="1054.2" cy="530.6" r="2.7"/><circle cx="1055.8" cy="530.3" r="2.7"/><circle cx="1058.1" cy="531.5" r="2.7"/><circle cx="1060.4" cy="531.6" r="2.7"/><circle cx="1064.9" cy="531.2" r="2.7"/><circle cx="1065.7" cy="530.9" r="2.7"/><circle cx="1066.2" cy="531.6" r="2.7"/><circle cx="1070.0" cy="530.3" r="2.7"/><circle cx="1084.4" cy="530.2" r="2.7"/><circle cx="1092.2" cy="530.8" r="2.7"/><circle cx="1096.9" cy="531.9" r="2.7"/><circle cx="1099.6" cy="530.7" r="2.7"/><circle cx="1104.8" cy="531.3" r="2.7"/><circle cx="1119.0" cy="531.9" r="2.7"/><circle cx="1123.4" cy="530.0" r="2.7"/><circle cx="1154.1" cy="533.1" r="2.7"/><circle cx="1127.9" cy="524.0" r="2.7"/><circle cx="1105.9" cy="530.0" r="2.7"/><circle cx="1090.0" cy="532.5" r="2.7"/><circle cx="1004.5" cy="431.5" r="2.7"/><circle cx="1007.0" cy="433.0" r="2.7"/><circle cx="1009.0" cy="435.5" r="2.7"/><circle cx="1010.5" cy="438.5" r="2.7"/><circle cx="1012.0" cy="441.0" r="2.7"/><circle cx="1013.5" cy="444.0" r="2.7"/><circle cx="1015.0" cy="446.5" r="2.7"/><circle cx="1016.5" cy="449.0" r="2.7"/><circle cx="1018.0" cy="451.0" r="2.7"/><circle cx="1006.0" cy="436.0" r="2.7"/><circle cx="1011.0" cy="443.5" r="2.7"/><circle cx="1014.5" cy="448.5" r="2.7"/></g>
<line x1="813.50" y1="83.00" x2="813.50" y2="636.00" stroke="#000" stroke-width="1"/>
<line x1="813.00" y1="635.50" x2="1224.50" y2="635.50" stroke="#000" stroke-width="1"/>
<line x1="829.40" y1="635.50" x2="829.40" y2="639.30" stroke="#222" stroke-width="1"/>
<line x1="938.10" y1="635.50" x2="938.10" y2="639.30" stroke="#222" stroke-width="1"/>
<line x1="993.30" y1="635.50" x2="993.30" y2="639.30" stroke="#222" stroke-width="1"/>
<line x1="1020.30" y1="635.50" x2="1020.30" y2="639.30" stroke="#222" stroke-width="1"/>
<line x1="1102.30" y1="635.50" x2="1102.30" y2="639.30" stroke="#222" stroke-width="1"/>
<line x1="1211.00" y1="635.50" x2="1211.00" y2="639.30" stroke="#222" stroke-width="1"/>
<line x1="810.10" y1="315.50" x2="813.50" y2="315.50" stroke="#222" stroke-width="1"/>
<line x1="810.10" y1="534.20" x2="813.50" y2="534.20" stroke="#222" stroke-width="1"/>
<line x1="993.30" y1="87.50" x2="993.30" y2="635.50" stroke="#bcbcbc" stroke-width="1.7" stroke-dasharray="17.5 6.5" stroke-dashoffset="2.25"/>
<line x1="993.30" y1="87.50" x2="993.30" y2="635.50" stroke="#000" stroke-width="3.2" stroke-dasharray="11.9 11.85" stroke-dashoffset="-0.25"/>
<line x1="813.50" y1="534.20" x2="1226.30" y2="534.20" stroke="#b4b4b4" stroke-width="1.7" stroke-dasharray="2.6 21.4" stroke-dashoffset="-14.50"/>
<line x1="813.50" y1="534.20" x2="1226.30" y2="534.20" stroke="#000" stroke-width="3.4" stroke-dasharray="11.9 11.85" stroke-dashoffset="1.00"/>
<text x="827.80" y="659.80" font-size="23.55" text-anchor="middle">-6</text>
<text x="940.20" y="659.80" font-size="23.55" text-anchor="middle">-2</text>
<text x="994.20" y="659.80" font-size="23.55" text-anchor="middle">0</text>
<text x="1023.60" y="659.80" font-size="23.55" text-anchor="middle">1</text>
<text x="1104.00" y="659.80" font-size="23.55" text-anchor="middle">6</text>
<text x="1212.00" y="659.80" font-size="23.55" text-anchor="middle">8</text>
<text x="812.50" y="324.00" font-size="23.55" text-anchor="end">5</text>
<text x="812.50" y="540.00" font-size="23.55" text-anchor="end">1.301</text>
<text x="1018.00" y="684.00" font-size="23.55" text-anchor="middle">log2 fold change</text>
<text font-size="23.55" text-anchor="middle" transform="translate(782.00 325.30) rotate(-90)">-log10 (p-value)</text>
<text x="891.10" y="73.90" font-size="23.7" class="b">ASCsub35 vs. ASCsub25</text>
<text x="1013.00" y="129.70" font-size="23.55">p-value&lt;0.05</text>
<text x="1013.00" y="158.70" font-size="23.55">log2 fold change&gt;0</text>
<ellipse cx="1031.50" cy="171.30" rx="4.5" ry="4.3" fill="#f8766d"/>
<text x="1048.30" y="177.00" font-size="23.55">up 738</text>
<ellipse cx="1031.50" cy="203.10" rx="4.5" ry="4.3" fill="#00ba38"/>
<text x="1048.30" y="209.80" font-size="23.55">down 767</text>
<ellipse cx="1031.50" cy="235.00" rx="4.5" ry="4.3" fill="#619cff"/>
<text x="1048.30" y="242.70" font-size="23.55">no 29668</text>
<path d="M1411.5 539.7 L1508 539.7 L1508.8 556 L1506.3 575 L1506.3 581 L1496.3 591 L1483.8 601 L1471.3 610 L1460 615 L1452.5 612.5 L1440 605 L1427.5 595 L1415 581.5 L1413 575 L1411.5 562 L1409.5 550 Z" fill="#619cff"/>
<g fill="#619cff"><circle cx="1402.5" cy="544.8" r="3"/><circle cx="1406.2" cy="553.1" r="3"/><circle cx="1407.5" cy="556.2" r="3"/><circle cx="1406.2" cy="570.0" r="3"/><circle cx="1411.9" cy="576.9" r="3"/><circle cx="1408.1" cy="561.2" r="3"/><circle cx="1511.2" cy="545.6" r="3"/><circle cx="1510.0" cy="545.0" r="3"/><circle cx="1516.9" cy="551.9" r="3"/><circle cx="1511.2" cy="563.1" r="3"/><circle cx="1507.5" cy="571.2" r="3"/><circle cx="1513.8" cy="571.2" r="3"/><circle cx="1511.2" cy="573.8" r="3"/></g>
<path d="M1412.5 556 L1415.8 566.5" fill="none" stroke="#fff" stroke-width="1.2" stroke-linecap="round"/>
<g fill="#00ba38"><circle cx="1430.8" cy="138.0" r="2.7"/><circle cx="1424.2" cy="182.0" r="2.7"/><circle cx="1433.8" cy="267.5" r="2.7"/><circle cx="1435.2" cy="265.8" r="2.7"/><circle cx="1406.8" cy="285.0" r="2.7"/><circle cx="1440.0" cy="303.8" r="2.7"/><circle cx="1445.2" cy="322.5" r="2.7"/><circle cx="1451.8" cy="340.0" r="2.7"/><circle cx="1412.8" cy="341.8" r="2.7"/><circle cx="1422.5" cy="344.0" r="2.7"/><circle cx="1425.0" cy="348.0" r="2.7"/><circle cx="1427.5" cy="352.0" r="2.7"/><circle cx="1418.2" cy="355.0" r="2.7"/><circle cx="1447.2" cy="355.8" r="2.7"/><circle cx="1450.8" cy="364.0" r="2.7"/><circle cx="1426.8" cy="365.5" r="2.7"/><circle cx="1434.2" cy="366.2" r="2.7"/><circle cx="1434.5" cy="370.5" r="2.7"/><circle cx="1393.2" cy="372.5" r="2.7"/><circle cx="1421.5" cy="387.0" r="2.7"/><circle cx="1434.0" cy="389.0" r="2.7"/><circle cx="1451.0" cy="388.2" r="2.7"/><circle cx="1409.2" cy="393.0" r="2.7"/><circle cx="1430.8" cy="394.0" r="2.7"/><circle cx="1417.5" cy="397.0" r="2.7"/><circle cx="1445.0" cy="391.2" r="2.7"/><circle cx="1446.8" cy="396.2" r="2.7"/><circle cx="1454.2" cy="399.5" r="2.7"/><circle cx="1446.5" cy="403.0" r="2.7"/><circle cx="1395.0" cy="403.0" r="2.7"/><circle cx="1389.5" cy="407.0" r="2.7"/><circle cx="1420.0" cy="405.8" r="2.7"/><circle cx="1417.3" cy="411.2" r="2.7"/><circle cx="1451.4" cy="410.6" r="2.7"/><circle cx="1450.5" cy="410.6" r="2.7"/><circle cx="1402.1" cy="413.3" r="2.7"/><circle cx="1412.2" cy="412.5" r="2.7"/><circle cx="1442.6" cy="413.8" r="2.7"/><circle cx="1454.5" cy="413.5" r="2.7"/><circle cx="1429.2" cy="414.8" r="2.7"/><circle cx="1435.4" cy="414.5" r="2.7"/><circle cx="1411.4" cy="417.2" r="2.7"/><circle cx="1423.3" cy="417.0" r="2.7"/><circle cx="1429.1" cy="417.5" r="2.7"/><circle cx="1397.5" cy="418.8" r="2.7"/><circle cx="1426.1" cy="420.1" r="2.7"/><circle cx="1432.3" cy="422.9" r="2.7"/><circle cx="1447.3" cy="422.4" r="2.7"/><circle cx="1441.9" cy="424.2" r="2.7"/><circle cx="1414.8" cy="427.6" r="2.7"/><circle cx="1428.5" cy="426.9" r="2.7"/><circle cx="1447.6" cy="426.0" r="2.7"/><circle cx="1442.3" cy="428.5" r="2.7"/><circle cx="1432.1" cy="431.9" r="2.7"/><circle cx="1432.9" cy="431.5" r="2.7"/><circle cx="1448.9" cy="431.5" r="2.7"/><circle cx="1404.5" cy="433.8" r="2.7"/><circle cx="1444.7" cy="433.3" r="2.7"/><circle cx="1453.4" cy="433.5" r="2.7"/><circle cx="1455.2" cy="433.5" r="2.7"/><circle cx="1406.0" cy="435.3" r="2.7"/><circle cx="1416.9" cy="434.3" r="2.7"/><circle cx="1425.1" cy="435.2" r="2.7"/><circle cx="1452.1" cy="436.0" r="2.7"/><circle cx="1455.8" cy="434.9" r="2.7"/><circle cx="1434.5" cy="436.2" r="2.7"/><circle cx="1435.8" cy="437.6" r="2.7"/><circle cx="1443.3" cy="440.0" r="2.7"/><circle cx="1450.7" cy="438.2" r="2.7"/><circle cx="1452.2" cy="439.1" r="2.7"/><circle cx="1421.8" cy="440.9" r="2.7"/><circle cx="1430.5" cy="440.7" r="2.7"/><circle cx="1445.7" cy="441.1" r="2.7"/><circle cx="1450.0" cy="441.0" r="2.7"/><circle cx="1429.0" cy="443.1" r="2.7"/><circle cx="1435.7" cy="443.3" r="2.7"/><circle cx="1437.7" cy="443.8" r="2.7"/><circle cx="1439.0" cy="443.4" r="2.7"/><circle cx="1440.8" cy="442.3" r="2.7"/><circle cx="1444.3" cy="442.4" r="2.7"/><circle cx="1450.6" cy="442.2" r="2.7"/><circle cx="1431.1" cy="445.9" r="2.7"/><circle cx="1438.8" cy="445.1" r="2.7"/><circle cx="1444.5" cy="444.0" r="2.7"/><circle cx="1451.2" cy="444.3" r="2.7"/><circle cx="1393.1" cy="446.3" r="2.7"/><circle cx="1417.7" cy="446.6" r="2.7"/><circle cx="1423.7" cy="446.4" r="2.7"/><circle cx="1454.0" cy="446.8" r="2.7"/><circle cx="1455.4" cy="446.5" r="2.7"/><circle cx="1390.4" cy="449.2" r="2.7"/><circle cx="1415.4" cy="448.7" r="2.7"/><circle cx="1432.2" cy="448.5" r="2.7"/><circle cx="1443.0" cy="449.3" r="2.7"/><circle cx="1446.7" cy="448.8" r="2.7"/><circle cx="1455.3" cy="449.2" r="2.7"/><circle cx="1408.7" cy="451.0" r="2.7"/><circle cx="1415.4" cy="451.7" r="2.7"/><circle cx="1418.4" cy="450.2" r="2.7"/><circle cx="1428.9" cy="450.2" r="2.7"/><circle cx="1431.8" cy="451.1" r="2.7"/><circle cx="1439.2" cy="450.2" r="2.7"/><circle cx="1439.6" cy="450.6" r="2.7"/><circle cx="1441.1" cy="451.7" r="2.7"/><circle cx="1452.6" cy="451.3" r="2.7"/><circle cx="1453.5" cy="450.8" r="2.7"/><circle cx="1416.9" cy="452.8" r="2.7"/><circle cx="1429.7" cy="452.8" r="2.7"/><circle cx="1435.1" cy="452.9" r="2.7"/><circle cx="1436.1" cy="453.5" r="2.7"/><circle cx="1439.2" cy="453.5" r="2.7"/><circle cx="1401.7" cy="454.8" r="2.7"/><circle cx="1411.6" cy="454.2" r="2.7"/><circle cx="1414.5" cy="454.6" r="2.7"/><circle cx="1420.8" cy="454.7" r="2.7"/><circle cx="1429.0" cy="455.9" r="2.7"/><circle cx="1430.4" cy="454.6" r="2.7"/><circle cx="1433.7" cy="454.7" r="2.7"/><circle cx="1432.9" cy="454.3" r="2.7"/><circle cx="1435.3" cy="454.4" r="2.7"/><circle cx="1435.8" cy="454.1" r="2.7"/><circle cx="1443.4" cy="454.3" r="2.7"/><circle cx="1446.2" cy="454.4" r="2.7"/><circle cx="1402.6" cy="457.3" r="2.7"/><circle cx="1407.1" cy="457.1" r="2.7"/><circle cx="1432.9" cy="457.5" r="2.7"/><circle cx="1432.8" cy="457.9" r="2.7"/><circle cx="1453.0" cy="457.9" r="2.7"/><circle cx="1418.3" cy="458.0" r="2.7"/><circle cx="1433.1" cy="459.6" r="2.7"/><circle cx="1454.5" cy="458.3" r="2.7"/><circle cx="1399.0" cy="461.5" r="2.7"/><circle cx="1400.9" cy="461.5" r="2.7"/><circle cx="1406.8" cy="460.6" r="2.7"/><circle cx="1415.5" cy="460.5" r="2.7"/><circle cx="1424.7" cy="462.0" r="2.7"/><circle cx="1441.8" cy="460.9" r="2.7"/><circle cx="1445.6" cy="460.4" r="2.7"/><circle cx="1393.7" cy="462.4" r="2.7"/><circle cx="1412.5" cy="462.7" r="2.7"/><circle cx="1417.5" cy="463.4" r="2.7"/><circle cx="1418.6" cy="462.8" r="2.7"/><circle cx="1423.5" cy="463.0" r="2.7"/><circle cx="1415.3" cy="465.8" r="2.7"/><circle cx="1422.5" cy="465.3" r="2.7"/><circle cx="1422.5" cy="467.3" r="2.7"/><circle cx="1431.2" cy="467.9" r="2.7"/><circle cx="1444.8" cy="467.8" r="2.7"/><circle cx="1384.4" cy="468.5" r="2.7"/><circle cx="1410.7" cy="469.8" r="2.7"/><circle cx="1420.3" cy="469.2" r="2.7"/><circle cx="1452.9" cy="469.5" r="2.7"/><circle cx="1455.7" cy="469.7" r="2.7"/><circle cx="1437.4" cy="470.8" r="2.7"/><circle cx="1437.3" cy="470.8" r="2.7"/><circle cx="1439.4" cy="470.2" r="2.7"/><circle cx="1438.1" cy="470.6" r="2.7"/><circle cx="1442.7" cy="470.1" r="2.7"/><circle cx="1452.8" cy="471.2" r="2.7"/><circle cx="1453.5" cy="472.0" r="2.7"/><circle cx="1455.1" cy="471.6" r="2.7"/><circle cx="1422.2" cy="472.4" r="2.7"/><circle cx="1427.7" cy="473.0" r="2.7"/><circle cx="1445.7" cy="473.4" r="2.7"/><circle cx="1444.4" cy="472.1" r="2.7"/><circle cx="1444.3" cy="472.2" r="2.7"/><circle cx="1451.0" cy="472.0" r="2.7"/><circle cx="1455.1" cy="473.6" r="2.7"/><circle cx="1397.9" cy="474.8" r="2.7"/><circle cx="1403.2" cy="474.5" r="2.7"/><circle cx="1420.2" cy="474.7" r="2.7"/><circle cx="1451.8" cy="474.6" r="2.7"/><circle cx="1451.5" cy="474.2" r="2.7"/><circle cx="1452.8" cy="475.4" r="2.7"/><circle cx="1452.4" cy="474.5" r="2.7"/><circle cx="1453.4" cy="475.9" r="2.7"/><circle cx="1389.3" cy="476.8" r="2.7"/><circle cx="1438.9" cy="478.0" r="2.7"/><circle cx="1446.3" cy="478.0" r="2.7"/><circle cx="1447.0" cy="476.5" r="2.7"/><circle cx="1449.0" cy="478.0" r="2.7"/><circle cx="1448.1" cy="477.7" r="2.7"/><circle cx="1449.4" cy="476.5" r="2.7"/><circle cx="1449.6" cy="476.9" r="2.7"/><circle cx="1450.6" cy="477.3" r="2.7"/><circle cx="1450.1" cy="477.1" r="2.7"/><circle cx="1453.6" cy="477.7" r="2.7"/><circle cx="1453.5" cy="477.1" r="2.7"/><circle cx="1454.7" cy="476.2" r="2.7"/><circle cx="1454.1" cy="476.7" r="2.7"/><circle cx="1403.3" cy="479.8" r="2.7"/><circle cx="1438.7" cy="478.4" r="2.7"/><circle cx="1441.5" cy="478.7" r="2.7"/><circle cx="1445.3" cy="478.8" r="2.7"/><circle cx="1446.9" cy="479.0" r="2.7"/><circle cx="1449.4" cy="478.5" r="2.7"/><circle cx="1451.7" cy="478.6" r="2.7"/><circle cx="1453.9" cy="478.8" r="2.7"/><circle cx="1453.5" cy="479.2" r="2.7"/><circle cx="1454.8" cy="478.6" r="2.7"/><circle cx="1400.8" cy="480.7" r="2.7"/><circle cx="1412.7" cy="480.7" r="2.7"/><circle cx="1421.3" cy="480.9" r="2.7"/><circle cx="1420.7" cy="480.9" r="2.7"/><circle cx="1429.7" cy="481.3" r="2.7"/><circle cx="1429.4" cy="482.0" r="2.7"/><circle cx="1428.1" cy="480.9" r="2.7"/><circle cx="1436.7" cy="480.3" r="2.7"/><circle cx="1446.5" cy="481.6" r="2.7"/><circle cx="1447.5" cy="481.6" r="2.7"/><circle cx="1451.7" cy="481.9" r="2.7"/><circle cx="1452.7" cy="481.1" r="2.7"/><circle cx="1455.6" cy="480.6" r="2.7"/><circle cx="1422.8" cy="483.2" r="2.7"/><circle cx="1424.8" cy="482.0" r="2.7"/><circle cx="1444.8" cy="482.2" r="2.7"/><circle cx="1444.5" cy="482.2" r="2.7"/><circle cx="1445.8" cy="482.7" r="2.7"/><circle cx="1447.8" cy="483.9" r="2.7"/><circle cx="1449.8" cy="482.8" r="2.7"/><circle cx="1452.7" cy="482.9" r="2.7"/><circle cx="1454.9" cy="482.9" r="2.7"/><circle cx="1417.2" cy="485.9" r="2.7"/><circle cx="1447.7" cy="484.8" r="2.7"/><circle cx="1452.0" cy="485.7" r="2.7"/><circle cx="1400.0" cy="487.9" r="2.7"/><circle cx="1415.6" cy="486.9" r="2.7"/><circle cx="1415.5" cy="486.8" r="2.7"/><circle cx="1431.1" cy="486.2" r="2.7"/><circle cx="1437.8" cy="486.4" r="2.7"/><circle cx="1439.7" cy="486.2" r="2.7"/><circle cx="1440.9" cy="486.8" r="2.7"/><circle cx="1441.3" cy="487.9" r="2.7"/><circle cx="1442.8" cy="487.6" r="2.7"/><circle cx="1447.2" cy="486.4" r="2.7"/><circle cx="1454.8" cy="487.1" r="2.7"/><circle cx="1393.4" cy="488.5" r="2.7"/><circle cx="1417.0" cy="488.5" r="2.7"/><circle cx="1417.5" cy="488.2" r="2.7"/><circle cx="1435.6" cy="488.2" r="2.7"/><circle cx="1436.4" cy="489.1" r="2.7"/><circle cx="1439.5" cy="489.2" r="2.7"/><circle cx="1441.9" cy="489.4" r="2.7"/><circle cx="1440.6" cy="489.7" r="2.7"/><circle cx="1441.5" cy="488.5" r="2.7"/><circle cx="1446.6" cy="488.5" r="2.7"/><circle cx="1450.6" cy="488.6" r="2.7"/><circle cx="1453.7" cy="489.7" r="2.7"/><circle cx="1453.2" cy="489.1" r="2.7"/><circle cx="1455.8" cy="489.6" r="2.7"/><circle cx="1454.5" cy="488.1" r="2.7"/><circle cx="1409.9" cy="491.3" r="2.7"/><circle cx="1413.1" cy="490.2" r="2.7"/><circle cx="1415.7" cy="490.1" r="2.7"/><circle cx="1425.7" cy="491.6" r="2.7"/><circle cx="1439.4" cy="490.8" r="2.7"/><circle cx="1441.0" cy="491.1" r="2.7"/><circle cx="1442.6" cy="490.7" r="2.7"/><circle cx="1443.4" cy="491.9" r="2.7"/><circle cx="1445.0" cy="491.2" r="2.7"/><circle cx="1445.4" cy="491.2" r="2.7"/><circle cx="1445.2" cy="491.9" r="2.7"/><circle cx="1444.2" cy="491.0" r="2.7"/><circle cx="1445.9" cy="490.1" r="2.7"/><circle cx="1448.1" cy="491.7" r="2.7"/><circle cx="1449.4" cy="491.0" r="2.7"/><circle cx="1450.0" cy="490.1" r="2.7"/><circle cx="1451.6" cy="492.0" r="2.7"/><circle cx="1452.7" cy="490.7" r="2.7"/><circle cx="1400.3" cy="492.5" r="2.7"/><circle cx="1418.5" cy="492.6" r="2.7"/><circle cx="1426.2" cy="493.5" r="2.7"/><circle cx="1434.7" cy="493.8" r="2.7"/><circle cx="1437.6" cy="493.6" r="2.7"/><circle cx="1436.7" cy="493.6" r="2.7"/><circle cx="1443.6" cy="492.0" r="2.7"/><circle cx="1443.0" cy="492.8" r="2.7"/><circle cx="1446.4" cy="493.8" r="2.7"/><circle cx="1449.9" cy="492.3" r="2.7"/><circle cx="1449.4" cy="493.9" r="2.7"/><circle cx="1454.7" cy="492.2" r="2.7"/><circle cx="1454.5" cy="493.9" r="2.7"/><circle cx="1454.1" cy="492.4" r="2.7"/><circle cx="1454.7" cy="492.1" r="2.7"/><circle cx="1400.4" cy="494.2" r="2.7"/><circle cx="1406.3" cy="494.7" r="2.7"/><circle cx="1415.2" cy="495.7" r="2.7"/><circle cx="1421.5" cy="494.8" r="2.7"/><circle cx="1420.1" cy="494.3" r="2.7"/><circle cx="1432.9" cy="494.4" r="2.7"/><circle cx="1432.0" cy="494.6" r="2.7"/><circle cx="1438.9" cy="495.2" r="2.7"/><circle cx="1445.1" cy="494.9" r="2.7"/><circle cx="1444.7" cy="495.8" r="2.7"/><circle cx="1449.0" cy="496.0" r="2.7"/><circle cx="1448.6" cy="494.3" r="2.7"/><circle cx="1449.4" cy="494.5" r="2.7"/><circle cx="1451.9" cy="494.6" r="2.7"/><circle cx="1455.1" cy="495.0" r="2.7"/><circle cx="1410.9" cy="496.2" r="2.7"/><circle cx="1422.9" cy="497.1" r="2.7"/><circle cx="1425.0" cy="496.6" r="2.7"/><circle cx="1426.7" cy="496.4" r="2.7"/><circle cx="1431.4" cy="497.6" r="2.7"/><circle cx="1431.6" cy="496.4" r="2.7"/><circle cx="1431.6" cy="496.6" r="2.7"/><circle cx="1430.5" cy="497.8" r="2.7"/><circle cx="1430.0" cy="497.0" r="2.7"/><circle cx="1434.1" cy="497.3" r="2.7"/><circle cx="1434.2" cy="498.0" r="2.7"/><circle cx="1435.7" cy="496.6" r="2.7"/><circle cx="1434.4" cy="497.4" r="2.7"/><circle cx="1437.5" cy="496.1" r="2.7"/><circle cx="1437.7" cy="497.5" r="2.7"/><circle cx="1437.6" cy="497.7" r="2.7"/><circle cx="1439.0" cy="496.8" r="2.7"/><circle cx="1438.7" cy="496.0" r="2.7"/><circle cx="1443.3" cy="497.6" r="2.7"/><circle cx="1444.6" cy="496.5" r="2.7"/><circle cx="1449.9" cy="497.8" r="2.7"/><circle cx="1448.6" cy="497.9" r="2.7"/><circle cx="1449.2" cy="497.9" r="2.7"/><circle cx="1450.6" cy="497.0" r="2.7"/><circle cx="1453.7" cy="497.1" r="2.7"/><circle cx="1454.5" cy="496.4" r="2.7"/><circle cx="1410.9" cy="499.4" r="2.7"/><circle cx="1418.5" cy="499.1" r="2.7"/><circle cx="1420.4" cy="499.5" r="2.7"/><circle cx="1431.5" cy="499.3" r="2.7"/><circle cx="1431.4" cy="498.9" r="2.7"/><circle cx="1432.9" cy="499.9" r="2.7"/><circle cx="1434.1" cy="498.5" r="2.7"/><circle cx="1436.3" cy="498.9" r="2.7"/><circle cx="1439.3" cy="499.4" r="2.7"/><circle cx="1439.2" cy="498.1" r="2.7"/><circle cx="1440.1" cy="498.9" r="2.7"/><circle cx="1446.2" cy="499.9" r="2.7"/><circle cx="1448.6" cy="500.0" r="2.7"/><circle cx="1448.2" cy="498.6" r="2.7"/><circle cx="1452.8" cy="499.8" r="2.7"/><circle cx="1452.5" cy="499.6" r="2.7"/><circle cx="1454.7" cy="498.9" r="2.7"/><circle cx="1400.8" cy="501.8" r="2.7"/><circle cx="1402.8" cy="501.3" r="2.7"/><circle cx="1411.3" cy="500.9" r="2.7"/><circle cx="1421.4" cy="500.0" r="2.7"/><circle cx="1428.8" cy="502.0" r="2.7"/><circle cx="1433.2" cy="501.6" r="2.7"/><circle cx="1435.2" cy="501.4" r="2.7"/><circle cx="1436.5" cy="501.4" r="2.7"/><circle cx="1437.1" cy="501.1" r="2.7"/><circle cx="1439.6" cy="500.6" r="2.7"/><circle cx="1441.1" cy="501.1" r="2.7"/><circle cx="1441.0" cy="500.3" r="2.7"/><circle cx="1442.6" cy="501.6" r="2.7"/><circle cx="1442.8" cy="500.3" r="2.7"/><circle cx="1445.1" cy="502.0" r="2.7"/><circle cx="1447.5" cy="500.2" r="2.7"/><circle cx="1446.6" cy="501.4" r="2.7"/><circle cx="1448.5" cy="500.7" r="2.7"/><circle cx="1449.1" cy="500.0" r="2.7"/><circle cx="1452.6" cy="501.7" r="2.7"/><circle cx="1454.4" cy="500.2" r="2.7"/><circle cx="1410.9" cy="502.6" r="2.7"/><circle cx="1420.4" cy="503.2" r="2.7"/><circle cx="1424.9" cy="502.9" r="2.7"/><circle cx="1426.7" cy="503.4" r="2.7"/><circle cx="1426.4" cy="503.8" r="2.7"/><circle cx="1427.7" cy="502.5" r="2.7"/><circle cx="1433.4" cy="502.1" r="2.7"/><circle cx="1434.2" cy="502.1" r="2.7"/><circle cx="1434.7" cy="504.0" r="2.7"/><circle cx="1436.2" cy="502.0" r="2.7"/><circle cx="1437.4" cy="502.4" r="2.7"/><circle cx="1440.9" cy="502.6" r="2.7"/><circle cx="1441.1" cy="502.7" r="2.7"/><circle cx="1454.2" cy="503.7" r="2.7"/><circle cx="1416.0" cy="504.6" r="2.7"/><circle cx="1420.6" cy="504.4" r="2.7"/><circle cx="1423.4" cy="505.4" r="2.7"/><circle cx="1424.8" cy="505.1" r="2.7"/><circle cx="1426.5" cy="505.9" r="2.7"/><circle cx="1427.1" cy="505.0" r="2.7"/><circle cx="1426.6" cy="505.7" r="2.7"/><circle cx="1427.0" cy="506.0" r="2.7"/><circle cx="1430.3" cy="504.8" r="2.7"/><circle cx="1433.1" cy="505.9" r="2.7"/><circle cx="1435.2" cy="505.2" r="2.7"/><circle cx="1438.4" cy="504.9" r="2.7"/><circle cx="1439.1" cy="504.7" r="2.7"/><circle cx="1440.0" cy="504.4" r="2.7"/><circle cx="1442.1" cy="505.5" r="2.7"/><circle cx="1447.3" cy="504.5" r="2.7"/><circle cx="1447.6" cy="505.4" r="2.7"/><circle cx="1448.1" cy="505.6" r="2.7"/><circle cx="1403.1" cy="506.8" r="2.7"/><circle cx="1414.6" cy="507.8" r="2.7"/><circle cx="1426.8" cy="507.4" r="2.7"/><circle cx="1427.0" cy="506.1" r="2.7"/><circle cx="1427.0" cy="506.8" r="2.7"/><circle cx="1427.1" cy="506.1" r="2.7"/><circle cx="1430.7" cy="506.3" r="2.7"/><circle cx="1433.0" cy="507.0" r="2.7"/><circle cx="1433.5" cy="507.1" r="2.7"/><circle cx="1439.7" cy="506.1" r="2.7"/><circle cx="1443.5" cy="507.5" r="2.7"/><circle cx="1443.4" cy="506.1" r="2.7"/><circle cx="1444.3" cy="506.1" r="2.7"/><circle cx="1448.2" cy="506.1" r="2.7"/><circle cx="1450.2" cy="506.6" r="2.7"/><circle cx="1450.4" cy="506.2" r="2.7"/><circle cx="1450.4" cy="507.3" r="2.7"/><circle cx="1408.8" cy="509.1" r="2.7"/><circle cx="1410.8" cy="509.4" r="2.7"/><circle cx="1416.6" cy="508.6" r="2.7"/><circle cx="1420.8" cy="509.7" r="2.7"/><circle cx="1421.5" cy="508.2" r="2.7"/><circle cx="1422.0" cy="509.5" r="2.7"/><circle cx="1423.2" cy="509.9" r="2.7"/><circle cx="1425.9" cy="508.3" r="2.7"/><circle cx="1424.8" cy="509.1" r="2.7"/><circle cx="1424.3" cy="509.6" r="2.7"/><circle cx="1424.1" cy="509.3" r="2.7"/><circle cx="1424.6" cy="508.6" r="2.7"/><circle cx="1426.9" cy="509.7" r="2.7"/><circle cx="1428.7" cy="509.4" r="2.7"/><circle cx="1433.1" cy="508.7" r="2.7"/><circle cx="1445.4" cy="508.5" r="2.7"/><circle cx="1445.0" cy="509.4" r="2.7"/><circle cx="1446.6" cy="508.8" r="2.7"/><circle cx="1446.6" cy="509.5" r="2.7"/><circle cx="1448.3" cy="509.6" r="2.7"/><circle cx="1451.2" cy="508.3" r="2.7"/><circle cx="1455.5" cy="509.1" r="2.7"/><circle cx="1421.2" cy="511.6" r="2.7"/><circle cx="1427.2" cy="511.7" r="2.7"/><circle cx="1427.4" cy="511.9" r="2.7"/><circle cx="1426.6" cy="511.5" r="2.7"/><circle cx="1428.0" cy="511.0" r="2.7"/><circle cx="1433.0" cy="510.1" r="2.7"/><circle cx="1436.6" cy="510.9" r="2.7"/><circle cx="1437.0" cy="511.6" r="2.7"/><circle cx="1436.8" cy="511.8" r="2.7"/><circle cx="1439.0" cy="510.7" r="2.7"/><circle cx="1440.8" cy="510.2" r="2.7"/><circle cx="1442.3" cy="510.8" r="2.7"/><circle cx="1444.6" cy="510.7" r="2.7"/><circle cx="1445.8" cy="510.4" r="2.7"/><circle cx="1448.3" cy="511.8" r="2.7"/><circle cx="1449.5" cy="510.1" r="2.7"/><circle cx="1450.9" cy="511.2" r="2.7"/><circle cx="1454.3" cy="511.6" r="2.7"/><circle cx="1407.3" cy="512.1" r="2.7"/><circle cx="1408.6" cy="513.4" r="2.7"/><circle cx="1409.8" cy="513.6" r="2.7"/><circle cx="1419.1" cy="512.6" r="2.7"/><circle cx="1418.3" cy="513.5" r="2.7"/><circle cx="1420.8" cy="513.4" r="2.7"/><circle cx="1422.2" cy="512.2" r="2.7"/><circle cx="1426.7" cy="512.7" r="2.7"/><circle cx="1426.4" cy="513.9" r="2.7"/><circle cx="1429.4" cy="513.2" r="2.7"/><circle cx="1431.8" cy="513.9" r="2.7"/><circle cx="1430.8" cy="513.3" r="2.7"/><circle cx="1435.3" cy="512.7" r="2.7"/><circle cx="1439.3" cy="512.5" r="2.7"/><circle cx="1438.6" cy="512.2" r="2.7"/><circle cx="1439.6" cy="513.8" r="2.7"/><circle cx="1438.6" cy="512.8" r="2.7"/><circle cx="1444.5" cy="513.5" r="2.7"/><circle cx="1444.5" cy="513.8" r="2.7"/><circle cx="1448.6" cy="512.8" r="2.7"/><circle cx="1453.3" cy="513.6" r="2.7"/><circle cx="1409.8" cy="515.7" r="2.7"/><circle cx="1415.1" cy="514.2" r="2.7"/><circle cx="1420.0" cy="515.2" r="2.7"/><circle cx="1421.6" cy="515.3" r="2.7"/><circle cx="1420.3" cy="515.1" r="2.7"/><circle cx="1420.8" cy="515.0" r="2.7"/><circle cx="1421.4" cy="515.4" r="2.7"/><circle cx="1422.2" cy="514.3" r="2.7"/><circle cx="1422.1" cy="514.3" r="2.7"/><circle cx="1424.9" cy="514.9" r="2.7"/><circle cx="1427.6" cy="514.7" r="2.7"/><circle cx="1429.1" cy="514.2" r="2.7"/><circle cx="1429.8" cy="514.1" r="2.7"/><circle cx="1432.8" cy="515.0" r="2.7"/><circle cx="1432.4" cy="514.9" r="2.7"/><circle cx="1436.3" cy="514.4" r="2.7"/><circle cx="1438.0" cy="516.0" r="2.7"/><circle cx="1440.3" cy="515.7" r="2.7"/><circle cx="1443.5" cy="515.6" r="2.7"/><circle cx="1444.2" cy="514.3" r="2.7"/><circle cx="1448.7" cy="514.5" r="2.7"/><circle cx="1449.3" cy="515.4" r="2.7"/><circle cx="1449.6" cy="514.9" r="2.7"/><circle cx="1450.7" cy="514.9" r="2.7"/><circle cx="1453.1" cy="514.3" r="2.7"/><circle cx="1452.1" cy="514.8" r="2.7"/><circle cx="1417.4" cy="517.6" r="2.7"/><circle cx="1424.9" cy="516.7" r="2.7"/><circle cx="1424.9" cy="517.6" r="2.7"/><circle cx="1430.0" cy="516.4" r="2.7"/><circle cx="1429.6" cy="516.2" r="2.7"/><circle cx="1428.6" cy="516.9" r="2.7"/><circle cx="1429.7" cy="517.4" r="2.7"/><circle cx="1428.4" cy="517.8" r="2.7"/><circle cx="1430.6" cy="516.6" r="2.7"/><circle cx="1430.8" cy="517.9" r="2.7"/><circle cx="1432.5" cy="517.5" r="2.7"/><circle cx="1432.7" cy="516.5" r="2.7"/><circle cx="1438.8" cy="517.1" r="2.7"/><circle cx="1445.0" cy="516.8" r="2.7"/><circle cx="1414.9" cy="519.1" r="2.7"/><circle cx="1415.2" cy="519.1" r="2.7"/><circle cx="1415.6" cy="519.7" r="2.7"/><circle cx="1414.1" cy="519.5" r="2.7"/><circle cx="1417.8" cy="518.1" r="2.7"/><circle cx="1419.9" cy="518.3" r="2.7"/><circle cx="1421.5" cy="519.0" r="2.7"/><circle cx="1423.8" cy="518.0" r="2.7"/><circle cx="1426.2" cy="519.4" r="2.7"/><circle cx="1427.5" cy="518.1" r="2.7"/><circle cx="1427.9" cy="519.1" r="2.7"/><circle cx="1430.2" cy="519.8" r="2.7"/><circle cx="1432.9" cy="518.5" r="2.7"/><circle cx="1434.7" cy="518.8" r="2.7"/><circle cx="1437.2" cy="519.9" r="2.7"/><circle cx="1438.5" cy="518.9" r="2.7"/><circle cx="1439.3" cy="519.2" r="2.7"/><circle cx="1438.7" cy="520.0" r="2.7"/><circle cx="1448.5" cy="518.5" r="2.7"/><circle cx="1449.6" cy="519.8" r="2.7"/><circle cx="1455.5" cy="519.5" r="2.7"/><circle cx="1455.0" cy="518.5" r="2.7"/><circle cx="1455.1" cy="519.3" r="2.7"/><circle cx="1390.5" cy="521.9" r="2.7"/><circle cx="1410.1" cy="521.5" r="2.7"/><circle cx="1415.3" cy="521.4" r="2.7"/><circle cx="1414.7" cy="521.3" r="2.7"/><circle cx="1414.1" cy="521.8" r="2.7"/><circle cx="1416.4" cy="520.9" r="2.7"/><circle cx="1417.4" cy="521.1" r="2.7"/><circle cx="1422.5" cy="520.4" r="2.7"/><circle cx="1425.8" cy="521.4" r="2.7"/><circle cx="1428.7" cy="520.7" r="2.7"/><circle cx="1428.1" cy="521.3" r="2.7"/><circle cx="1428.1" cy="521.4" r="2.7"/><circle cx="1431.6" cy="521.9" r="2.7"/><circle cx="1431.6" cy="522.0" r="2.7"/><circle cx="1433.2" cy="521.3" r="2.7"/><circle cx="1434.0" cy="521.7" r="2.7"/><circle cx="1435.2" cy="522.0" r="2.7"/><circle cx="1437.8" cy="520.8" r="2.7"/><circle cx="1436.0" cy="520.7" r="2.7"/><circle cx="1436.7" cy="522.0" r="2.7"/><circle cx="1436.8" cy="520.5" r="2.7"/><circle cx="1438.6" cy="520.8" r="2.7"/><circle cx="1443.6" cy="520.7" r="2.7"/><circle cx="1445.1" cy="520.5" r="2.7"/><circle cx="1451.0" cy="521.0" r="2.7"/><circle cx="1454.7" cy="520.6" r="2.7"/><circle cx="1404.3" cy="523.1" r="2.7"/><circle cx="1414.0" cy="522.8" r="2.7"/><circle cx="1412.1" cy="523.3" r="2.7"/><circle cx="1421.3" cy="523.8" r="2.7"/><circle cx="1423.6" cy="522.2" r="2.7"/><circle cx="1423.2" cy="522.2" r="2.7"/><circle cx="1422.2" cy="523.9" r="2.7"/><circle cx="1426.0" cy="523.6" r="2.7"/><circle cx="1430.9" cy="522.1" r="2.7"/><circle cx="1431.4" cy="522.1" r="2.7"/><circle cx="1432.2" cy="523.4" r="2.7"/><circle cx="1433.4" cy="522.7" r="2.7"/><circle cx="1435.1" cy="522.6" r="2.7"/><circle cx="1434.6" cy="523.8" r="2.7"/><circle cx="1438.4" cy="522.0" r="2.7"/><circle cx="1440.3" cy="522.1" r="2.7"/><circle cx="1441.2" cy="523.2" r="2.7"/><circle cx="1441.9" cy="522.6" r="2.7"/><circle cx="1440.5" cy="522.4" r="2.7"/><circle cx="1446.7" cy="523.9" r="2.7"/><circle cx="1450.1" cy="523.2" r="2.7"/><circle cx="1451.7" cy="522.1" r="2.7"/><circle cx="1453.4" cy="523.7" r="2.7"/><circle cx="1454.3" cy="523.9" r="2.7"/><circle cx="1402.2" cy="524.7" r="2.7"/><circle cx="1414.9" cy="525.6" r="2.7"/><circle cx="1418.8" cy="525.6" r="2.7"/><circle cx="1423.4" cy="525.9" r="2.7"/><circle cx="1424.4" cy="525.0" r="2.7"/><circle cx="1429.4" cy="524.8" r="2.7"/><circle cx="1436.0" cy="524.3" r="2.7"/><circle cx="1435.5" cy="525.9" r="2.7"/><circle cx="1434.4" cy="524.0" r="2.7"/><circle cx="1440.2" cy="525.3" r="2.7"/><circle cx="1440.3" cy="524.3" r="2.7"/><circle cx="1443.6" cy="525.7" r="2.7"/><circle cx="1451.7" cy="525.4" r="2.7"/><circle cx="1453.7" cy="525.7" r="2.7"/><circle cx="1453.6" cy="524.4" r="2.7"/><circle cx="1390.9" cy="527.7" r="2.7"/><circle cx="1393.8" cy="527.8" r="2.7"/><circle cx="1402.3" cy="527.1" r="2.7"/><circle cx="1411.5" cy="527.7" r="2.7"/><circle cx="1412.1" cy="527.6" r="2.7"/><circle cx="1414.3" cy="526.9" r="2.7"/><circle cx="1423.7" cy="527.2" r="2.7"/><circle cx="1424.6" cy="527.7" r="2.7"/><circle cx="1425.2" cy="527.3" r="2.7"/><circle cx="1426.4" cy="526.9" r="2.7"/><circle cx="1428.1" cy="527.1" r="2.7"/><circle cx="1428.8" cy="527.9" r="2.7"/><circle cx="1428.4" cy="526.4" r="2.7"/><circle cx="1434.0" cy="527.2" r="2.7"/><circle cx="1434.5" cy="527.2" r="2.7"/><circle cx="1437.2" cy="526.6" r="2.7"/><circle cx="1437.5" cy="526.5" r="2.7"/><circle cx="1439.9" cy="527.2" r="2.7"/><circle cx="1438.5" cy="527.3" r="2.7"/><circle cx="1438.6" cy="526.2" r="2.7"/><circle cx="1442.2" cy="527.6" r="2.7"/><circle cx="1446.7" cy="527.9" r="2.7"/><circle cx="1449.2" cy="527.2" r="2.7"/><circle cx="1448.6" cy="526.8" r="2.7"/><circle cx="1449.1" cy="526.5" r="2.7"/><circle cx="1449.3" cy="527.7" r="2.7"/><circle cx="1450.1" cy="526.7" r="2.7"/><circle cx="1453.1" cy="527.0" r="2.7"/><circle cx="1455.4" cy="527.1" r="2.7"/><circle cx="1406.5" cy="528.6" r="2.7"/><circle cx="1415.3" cy="529.2" r="2.7"/><circle cx="1417.2" cy="528.6" r="2.7"/><circle cx="1418.4" cy="529.5" r="2.7"/><circle cx="1421.1" cy="529.5" r="2.7"/><circle cx="1420.6" cy="528.7" r="2.7"/><circle cx="1423.4" cy="528.4" r="2.7"/><circle cx="1424.8" cy="528.2" r="2.7"/><circle cx="1424.0" cy="529.2" r="2.7"/><circle cx="1425.4" cy="529.2" r="2.7"/><circle cx="1425.6" cy="528.9" r="2.7"/><circle cx="1427.1" cy="529.3" r="2.7"/><circle cx="1427.1" cy="528.2" r="2.7"/><circle cx="1429.9" cy="529.0" r="2.7"/><circle cx="1428.3" cy="529.0" r="2.7"/><circle cx="1435.4" cy="528.3" r="2.7"/><circle cx="1437.7" cy="528.0" r="2.7"/><circle cx="1438.0" cy="529.8" r="2.7"/><circle cx="1438.9" cy="528.3" r="2.7"/><circle cx="1443.1" cy="528.9" r="2.7"/><circle cx="1443.1" cy="529.6" r="2.7"/><circle cx="1445.9" cy="529.2" r="2.7"/><circle cx="1449.3" cy="529.0" r="2.7"/><circle cx="1448.6" cy="528.3" r="2.7"/><circle cx="1453.2" cy="528.5" r="2.7"/><circle cx="1455.6" cy="529.6" r="2.7"/><circle cx="1386.7" cy="530.5" r="2.7"/><circle cx="1409.1" cy="531.9" r="2.7"/><circle cx="1412.0" cy="530.0" r="2.7"/><circle cx="1414.1" cy="530.4" r="2.7"/><circle cx="1416.3" cy="530.0" r="2.7"/><circle cx="1416.1" cy="530.6" r="2.7"/><circle cx="1419.7" cy="531.2" r="2.7"/><circle cx="1419.8" cy="531.3" r="2.7"/><circle cx="1425.8" cy="531.0" r="2.7"/><circle cx="1429.2" cy="530.2" r="2.7"/><circle cx="1428.5" cy="530.4" r="2.7"/><circle cx="1430.5" cy="531.4" r="2.7"/><circle cx="1434.0" cy="530.9" r="2.7"/><circle cx="1433.0" cy="530.4" r="2.7"/><circle cx="1432.2" cy="531.3" r="2.7"/><circle cx="1440.5" cy="531.5" r="2.7"/><circle cx="1443.4" cy="532.0" r="2.7"/><circle cx="1445.1" cy="531.4" r="2.7"/><circle cx="1447.6" cy="530.2" r="2.7"/><circle cx="1446.3" cy="531.0" r="2.7"/><circle cx="1451.9" cy="530.9" r="2.7"/><circle cx="1453.5" cy="531.0" r="2.7"/><circle cx="1452.8" cy="530.2" r="2.7"/><circle cx="1455.1" cy="530.7" r="2.7"/><circle cx="1454.8" cy="531.5" r="2.7"/><circle cx="1454.0" cy="531.0" r="2.7"/><circle cx="1410.6" cy="533.9" r="2.7"/><circle cx="1412.3" cy="533.3" r="2.7"/><circle cx="1422.0" cy="533.5" r="2.7"/><circle cx="1423.3" cy="532.1" r="2.7"/><circle cx="1424.5" cy="533.6" r="2.7"/><circle cx="1427.0" cy="533.6" r="2.7"/><circle cx="1428.4" cy="532.1" r="2.7"/><circle cx="1432.9" cy="533.3" r="2.7"/><circle cx="1434.8" cy="533.7" r="2.7"/><circle cx="1437.5" cy="533.4" r="2.7"/><circle cx="1437.1" cy="532.5" r="2.7"/><circle cx="1436.2" cy="533.3" r="2.7"/><circle cx="1441.2" cy="532.9" r="2.7"/><circle cx="1446.6" cy="532.9" r="2.7"/><circle cx="1446.9" cy="533.3" r="2.7"/><circle cx="1449.9" cy="532.9" r="2.7"/><circle cx="1448.9" cy="533.3" r="2.7"/><circle cx="1448.6" cy="533.7" r="2.7"/><circle cx="1451.0" cy="532.7" r="2.7"/><circle cx="1387.8" cy="535.9" r="2.7"/><circle cx="1388.0" cy="535.8" r="2.7"/><circle cx="1395.6" cy="535.7" r="2.7"/><circle cx="1407.3" cy="534.3" r="2.7"/><circle cx="1413.4" cy="534.8" r="2.7"/><circle cx="1414.4" cy="534.6" r="2.7"/><circle cx="1415.1" cy="535.2" r="2.7"/><circle cx="1415.9" cy="535.4" r="2.7"/><circle cx="1419.5" cy="535.3" r="2.7"/><circle cx="1419.7" cy="535.1" r="2.7"/><circle cx="1422.7" cy="535.2" r="2.7"/><circle cx="1433.8" cy="535.2" r="2.7"/><circle cx="1433.3" cy="534.6" r="2.7"/><circle cx="1435.7" cy="534.5" r="2.7"/><circle cx="1437.5" cy="534.3" r="2.7"/><circle cx="1436.8" cy="534.8" r="2.7"/><circle cx="1445.6" cy="534.7" r="2.7"/><circle cx="1447.9" cy="535.8" r="2.7"/><circle cx="1449.2" cy="534.1" r="2.7"/><circle cx="1448.7" cy="534.7" r="2.7"/><circle cx="1449.2" cy="534.0" r="2.7"/><circle cx="1449.5" cy="534.1" r="2.7"/><circle cx="1451.7" cy="535.3" r="2.7"/><circle cx="1455.2" cy="534.8" r="2.7"/><circle cx="1384.5" cy="536.6" r="2.7"/><circle cx="1386.5" cy="537.1" r="2.7"/><circle cx="1390.7" cy="537.4" r="2.7"/><circle cx="1414.2" cy="537.5" r="2.7"/><circle cx="1414.2" cy="536.3" r="2.7"/><circle cx="1417.6" cy="537.0" r="2.7"/><circle cx="1418.1" cy="537.6" r="2.7"/><circle cx="1420.2" cy="536.9" r="2.7"/><circle cx="1422.1" cy="537.9" r="2.7"/><circle cx="1425.2" cy="537.0" r="2.7"/><circle cx="1424.3" cy="537.3" r="2.7"/><circle cx="1424.9" cy="537.4" r="2.7"/><circle cx="1432.6" cy="537.6" r="2.7"/><circle cx="1434.8" cy="536.0" r="2.7"/><circle cx="1441.4" cy="536.2" r="2.7"/><circle cx="1440.9" cy="537.2" r="2.7"/><circle cx="1440.8" cy="537.3" r="2.7"/><circle cx="1440.7" cy="537.3" r="2.7"/><circle cx="1445.1" cy="536.1" r="2.7"/><circle cx="1449.0" cy="538.0" r="2.7"/><circle cx="1451.9" cy="536.8" r="2.7"/><circle cx="1450.8" cy="537.5" r="2.7"/><circle cx="1455.1" cy="537.5" r="2.7"/></g>
<g fill="#f8766d"><circle cx="1483.2" cy="110.5" r="2.7"/><circle cx="1484.5" cy="131.0" r="2.7"/><circle cx="1496.8" cy="157.0" r="2.7"/><circle cx="1512.2" cy="241.2" r="2.7"/><circle cx="1495.0" cy="265.0" r="2.7"/><circle cx="1498.8" cy="294.0" r="2.7"/><circle cx="1475.0" cy="302.2" r="2.7"/><circle cx="1478.2" cy="316.2" r="2.7"/><circle cx="1494.0" cy="317.5" r="2.7"/><circle cx="1492.8" cy="333.5" r="2.7"/><circle cx="1512.8" cy="333.0" r="2.7"/><circle cx="1472.5" cy="343.0" r="2.7"/><circle cx="1477.0" cy="339.2" r="2.7"/><circle cx="1483.2" cy="339.5" r="2.7"/><circle cx="1486.2" cy="350.5" r="2.7"/><circle cx="1490.0" cy="353.0" r="2.7"/><circle cx="1522.0" cy="356.8" r="2.7"/><circle cx="1477.0" cy="370.8" r="2.7"/><circle cx="1484.0" cy="375.0" r="2.7"/><circle cx="1477.8" cy="378.8" r="2.7"/><circle cx="1478.9" cy="399.9" r="2.7"/><circle cx="1484.9" cy="403.3" r="2.7"/><circle cx="1491.8" cy="403.8" r="2.7"/><circle cx="1506.7" cy="406.5" r="2.7"/><circle cx="1473.1" cy="408.7" r="2.7"/><circle cx="1487.5" cy="408.9" r="2.7"/><circle cx="1488.9" cy="409.3" r="2.7"/><circle cx="1487.5" cy="410.2" r="2.7"/><circle cx="1491.2" cy="411.2" r="2.7"/><circle cx="1468.4" cy="415.1" r="2.7"/><circle cx="1469.9" cy="417.2" r="2.7"/><circle cx="1491.0" cy="417.6" r="2.7"/><circle cx="1473.4" cy="419.5" r="2.7"/><circle cx="1477.3" cy="419.1" r="2.7"/><circle cx="1480.4" cy="419.0" r="2.7"/><circle cx="1470.9" cy="421.6" r="2.7"/><circle cx="1476.4" cy="420.5" r="2.7"/><circle cx="1481.0" cy="421.8" r="2.7"/><circle cx="1486.2" cy="421.9" r="2.7"/><circle cx="1503.3" cy="421.5" r="2.7"/><circle cx="1485.1" cy="423.6" r="2.7"/><circle cx="1468.9" cy="426.2" r="2.7"/><circle cx="1480.5" cy="427.0" r="2.7"/><circle cx="1470.4" cy="430.6" r="2.7"/><circle cx="1478.1" cy="430.7" r="2.7"/><circle cx="1488.6" cy="430.3" r="2.7"/><circle cx="1490.9" cy="430.4" r="2.7"/><circle cx="1495.5" cy="430.7" r="2.7"/><circle cx="1497.3" cy="430.5" r="2.7"/><circle cx="1506.5" cy="432.0" r="2.7"/><circle cx="1467.5" cy="433.3" r="2.7"/><circle cx="1471.5" cy="433.1" r="2.7"/><circle cx="1476.8" cy="433.7" r="2.7"/><circle cx="1491.0" cy="432.1" r="2.7"/><circle cx="1467.5" cy="434.2" r="2.7"/><circle cx="1468.3" cy="435.6" r="2.7"/><circle cx="1471.8" cy="435.9" r="2.7"/><circle cx="1475.1" cy="434.8" r="2.7"/><circle cx="1483.1" cy="435.4" r="2.7"/><circle cx="1489.4" cy="434.7" r="2.7"/><circle cx="1471.5" cy="437.5" r="2.7"/><circle cx="1470.2" cy="436.8" r="2.7"/><circle cx="1471.0" cy="436.2" r="2.7"/><circle cx="1472.5" cy="436.2" r="2.7"/><circle cx="1478.9" cy="436.3" r="2.7"/><circle cx="1490.4" cy="439.2" r="2.7"/><circle cx="1467.3" cy="440.7" r="2.7"/><circle cx="1466.2" cy="440.7" r="2.7"/><circle cx="1471.8" cy="440.0" r="2.7"/><circle cx="1470.4" cy="440.2" r="2.7"/><circle cx="1475.6" cy="440.4" r="2.7"/><circle cx="1479.5" cy="441.2" r="2.7"/><circle cx="1486.6" cy="442.0" r="2.7"/><circle cx="1465.5" cy="442.4" r="2.7"/><circle cx="1465.0" cy="442.0" r="2.7"/><circle cx="1466.2" cy="442.2" r="2.7"/><circle cx="1470.2" cy="442.2" r="2.7"/><circle cx="1472.4" cy="443.8" r="2.7"/><circle cx="1472.0" cy="442.3" r="2.7"/><circle cx="1473.3" cy="443.9" r="2.7"/><circle cx="1475.5" cy="443.9" r="2.7"/><circle cx="1475.8" cy="443.9" r="2.7"/><circle cx="1477.4" cy="442.8" r="2.7"/><circle cx="1480.1" cy="442.9" r="2.7"/><circle cx="1483.0" cy="443.9" r="2.7"/><circle cx="1491.9" cy="442.9" r="2.7"/><circle cx="1508.6" cy="442.8" r="2.7"/><circle cx="1515.1" cy="443.5" r="2.7"/><circle cx="1464.1" cy="445.4" r="2.7"/><circle cx="1465.6" cy="444.4" r="2.7"/><circle cx="1466.3" cy="445.3" r="2.7"/><circle cx="1467.2" cy="444.3" r="2.7"/><circle cx="1469.7" cy="445.9" r="2.7"/><circle cx="1472.9" cy="444.8" r="2.7"/><circle cx="1472.5" cy="445.7" r="2.7"/><circle cx="1477.8" cy="444.0" r="2.7"/><circle cx="1479.2" cy="444.8" r="2.7"/><circle cx="1478.1" cy="445.7" r="2.7"/><circle cx="1465.0" cy="447.7" r="2.7"/><circle cx="1465.4" cy="446.4" r="2.7"/><circle cx="1471.8" cy="447.9" r="2.7"/><circle cx="1473.5" cy="447.0" r="2.7"/><circle cx="1475.4" cy="447.3" r="2.7"/><circle cx="1474.4" cy="447.1" r="2.7"/><circle cx="1477.5" cy="446.4" r="2.7"/><circle cx="1482.9" cy="447.9" r="2.7"/><circle cx="1486.3" cy="446.7" r="2.7"/><circle cx="1496.3" cy="446.4" r="2.7"/><circle cx="1465.0" cy="448.2" r="2.7"/><circle cx="1465.5" cy="448.4" r="2.7"/><circle cx="1464.8" cy="449.2" r="2.7"/><circle cx="1468.9" cy="448.6" r="2.7"/><circle cx="1469.1" cy="449.3" r="2.7"/><circle cx="1469.2" cy="449.9" r="2.7"/><circle cx="1471.5" cy="449.1" r="2.7"/><circle cx="1474.1" cy="449.1" r="2.7"/><circle cx="1476.6" cy="448.3" r="2.7"/><circle cx="1476.9" cy="449.7" r="2.7"/><circle cx="1477.1" cy="450.0" r="2.7"/><circle cx="1477.6" cy="449.1" r="2.7"/><circle cx="1479.8" cy="449.7" r="2.7"/><circle cx="1482.7" cy="449.5" r="2.7"/><circle cx="1493.0" cy="448.8" r="2.7"/><circle cx="1464.9" cy="451.3" r="2.7"/><circle cx="1469.8" cy="450.4" r="2.7"/><circle cx="1468.3" cy="451.2" r="2.7"/><circle cx="1468.7" cy="450.4" r="2.7"/><circle cx="1471.1" cy="451.0" r="2.7"/><circle cx="1473.4" cy="451.7" r="2.7"/><circle cx="1472.9" cy="451.3" r="2.7"/><circle cx="1478.5" cy="451.9" r="2.7"/><circle cx="1486.5" cy="451.3" r="2.7"/><circle cx="1495.2" cy="450.5" r="2.7"/><circle cx="1497.4" cy="450.1" r="2.7"/><circle cx="1503.7" cy="450.1" r="2.7"/><circle cx="1506.1" cy="450.5" r="2.7"/><circle cx="1465.1" cy="453.5" r="2.7"/><circle cx="1467.9" cy="452.2" r="2.7"/><circle cx="1470.4" cy="453.7" r="2.7"/><circle cx="1474.3" cy="452.9" r="2.7"/><circle cx="1479.9" cy="452.2" r="2.7"/><circle cx="1478.9" cy="453.3" r="2.7"/><circle cx="1483.7" cy="452.1" r="2.7"/><circle cx="1489.7" cy="453.5" r="2.7"/><circle cx="1499.8" cy="452.5" r="2.7"/><circle cx="1471.5" cy="456.0" r="2.7"/><circle cx="1477.3" cy="454.1" r="2.7"/><circle cx="1478.8" cy="456.0" r="2.7"/><circle cx="1494.5" cy="455.1" r="2.7"/><circle cx="1503.4" cy="455.1" r="2.7"/><circle cx="1508.7" cy="454.6" r="2.7"/><circle cx="1469.0" cy="456.8" r="2.7"/><circle cx="1469.1" cy="457.8" r="2.7"/><circle cx="1471.8" cy="457.5" r="2.7"/><circle cx="1471.0" cy="456.6" r="2.7"/><circle cx="1475.0" cy="456.9" r="2.7"/><circle cx="1475.2" cy="456.6" r="2.7"/><circle cx="1476.5" cy="457.8" r="2.7"/><circle cx="1477.1" cy="457.1" r="2.7"/><circle cx="1479.1" cy="456.7" r="2.7"/><circle cx="1478.9" cy="456.5" r="2.7"/><circle cx="1494.5" cy="457.1" r="2.7"/><circle cx="1502.1" cy="457.8" r="2.7"/><circle cx="1467.7" cy="459.0" r="2.7"/><circle cx="1468.8" cy="459.9" r="2.7"/><circle cx="1469.2" cy="459.1" r="2.7"/><circle cx="1471.3" cy="458.5" r="2.7"/><circle cx="1470.8" cy="458.0" r="2.7"/><circle cx="1472.2" cy="458.6" r="2.7"/><circle cx="1473.8" cy="458.2" r="2.7"/><circle cx="1473.8" cy="459.6" r="2.7"/><circle cx="1472.3" cy="458.4" r="2.7"/><circle cx="1475.1" cy="458.4" r="2.7"/><circle cx="1475.7" cy="459.1" r="2.7"/><circle cx="1479.8" cy="459.8" r="2.7"/><circle cx="1481.9" cy="458.5" r="2.7"/><circle cx="1498.3" cy="459.3" r="2.7"/><circle cx="1465.9" cy="462.0" r="2.7"/><circle cx="1467.3" cy="460.9" r="2.7"/><circle cx="1468.3" cy="461.7" r="2.7"/><circle cx="1470.8" cy="461.1" r="2.7"/><circle cx="1470.6" cy="461.3" r="2.7"/><circle cx="1472.6" cy="460.8" r="2.7"/><circle cx="1488.0" cy="460.2" r="2.7"/><circle cx="1488.5" cy="461.2" r="2.7"/><circle cx="1501.5" cy="460.7" r="2.7"/><circle cx="1508.8" cy="461.8" r="2.7"/><circle cx="1467.7" cy="463.4" r="2.7"/><circle cx="1469.5" cy="462.1" r="2.7"/><circle cx="1471.5" cy="463.4" r="2.7"/><circle cx="1471.0" cy="463.5" r="2.7"/><circle cx="1473.0" cy="463.5" r="2.7"/><circle cx="1477.7" cy="462.7" r="2.7"/><circle cx="1476.7" cy="463.4" r="2.7"/><circle cx="1478.3" cy="462.8" r="2.7"/><circle cx="1481.8" cy="462.3" r="2.7"/><circle cx="1480.3" cy="463.7" r="2.7"/><circle cx="1480.0" cy="463.0" r="2.7"/><circle cx="1480.8" cy="463.8" r="2.7"/><circle cx="1508.8" cy="462.7" r="2.7"/><circle cx="1467.5" cy="464.7" r="2.7"/><circle cx="1471.8" cy="464.4" r="2.7"/><circle cx="1472.1" cy="464.6" r="2.7"/><circle cx="1476.4" cy="464.7" r="2.7"/><circle cx="1476.6" cy="464.4" r="2.7"/><circle cx="1477.5" cy="464.0" r="2.7"/><circle cx="1478.6" cy="464.6" r="2.7"/><circle cx="1480.9" cy="466.0" r="2.7"/><circle cx="1480.5" cy="464.4" r="2.7"/><circle cx="1495.6" cy="465.1" r="2.7"/><circle cx="1497.9" cy="464.9" r="2.7"/><circle cx="1499.0" cy="465.1" r="2.7"/><circle cx="1519.1" cy="464.2" r="2.7"/><circle cx="1472.3" cy="467.9" r="2.7"/><circle cx="1474.9" cy="466.7" r="2.7"/><circle cx="1477.5" cy="467.9" r="2.7"/><circle cx="1479.0" cy="467.4" r="2.7"/><circle cx="1478.7" cy="466.2" r="2.7"/><circle cx="1478.9" cy="467.6" r="2.7"/><circle cx="1481.7" cy="466.1" r="2.7"/><circle cx="1494.1" cy="466.1" r="2.7"/><circle cx="1465.3" cy="469.0" r="2.7"/><circle cx="1465.0" cy="469.3" r="2.7"/><circle cx="1467.6" cy="468.4" r="2.7"/><circle cx="1466.4" cy="469.7" r="2.7"/><circle cx="1466.9" cy="468.0" r="2.7"/><circle cx="1467.5" cy="468.3" r="2.7"/><circle cx="1466.5" cy="469.8" r="2.7"/><circle cx="1471.6" cy="468.8" r="2.7"/><circle cx="1472.4" cy="469.3" r="2.7"/><circle cx="1472.3" cy="468.5" r="2.7"/><circle cx="1474.8" cy="468.2" r="2.7"/><circle cx="1476.7" cy="470.0" r="2.7"/><circle cx="1478.1" cy="468.5" r="2.7"/><circle cx="1464.7" cy="471.3" r="2.7"/><circle cx="1469.1" cy="471.1" r="2.7"/><circle cx="1473.5" cy="470.1" r="2.7"/><circle cx="1473.4" cy="471.7" r="2.7"/><circle cx="1474.1" cy="471.7" r="2.7"/><circle cx="1477.9" cy="471.6" r="2.7"/><circle cx="1480.6" cy="470.4" r="2.7"/><circle cx="1489.4" cy="470.7" r="2.7"/><circle cx="1491.0" cy="471.5" r="2.7"/><circle cx="1505.5" cy="470.3" r="2.7"/><circle cx="1513.4" cy="470.5" r="2.7"/><circle cx="1513.5" cy="471.7" r="2.7"/><circle cx="1469.7" cy="472.5" r="2.7"/><circle cx="1472.5" cy="473.0" r="2.7"/><circle cx="1474.3" cy="472.9" r="2.7"/><circle cx="1477.3" cy="473.1" r="2.7"/><circle cx="1479.0" cy="472.5" r="2.7"/><circle cx="1478.6" cy="472.2" r="2.7"/><circle cx="1479.4" cy="473.3" r="2.7"/><circle cx="1485.4" cy="472.5" r="2.7"/><circle cx="1487.0" cy="472.2" r="2.7"/><circle cx="1502.8" cy="473.1" r="2.7"/><circle cx="1514.6" cy="472.7" r="2.7"/><circle cx="1464.5" cy="474.1" r="2.7"/><circle cx="1466.5" cy="475.7" r="2.7"/><circle cx="1469.7" cy="475.5" r="2.7"/><circle cx="1468.0" cy="474.6" r="2.7"/><circle cx="1472.0" cy="474.4" r="2.7"/><circle cx="1470.4" cy="475.4" r="2.7"/><circle cx="1472.0" cy="474.4" r="2.7"/><circle cx="1473.3" cy="475.9" r="2.7"/><circle cx="1477.8" cy="474.6" r="2.7"/><circle cx="1476.7" cy="475.6" r="2.7"/><circle cx="1478.1" cy="475.2" r="2.7"/><circle cx="1484.0" cy="475.7" r="2.7"/><circle cx="1483.4" cy="474.7" r="2.7"/><circle cx="1482.0" cy="476.0" r="2.7"/><circle cx="1490.4" cy="474.0" r="2.7"/><circle cx="1500.4" cy="475.4" r="2.7"/><circle cx="1500.3" cy="474.9" r="2.7"/><circle cx="1465.3" cy="477.5" r="2.7"/><circle cx="1466.4" cy="476.1" r="2.7"/><circle cx="1469.4" cy="476.3" r="2.7"/><circle cx="1470.9" cy="477.2" r="2.7"/><circle cx="1473.6" cy="476.1" r="2.7"/><circle cx="1477.7" cy="477.8" r="2.7"/><circle cx="1480.7" cy="477.8" r="2.7"/><circle cx="1480.5" cy="477.8" r="2.7"/><circle cx="1480.7" cy="476.8" r="2.7"/><circle cx="1483.3" cy="478.0" r="2.7"/><circle cx="1482.8" cy="477.1" r="2.7"/><circle cx="1518.0" cy="476.0" r="2.7"/><circle cx="1465.7" cy="479.7" r="2.7"/><circle cx="1468.3" cy="478.5" r="2.7"/><circle cx="1468.4" cy="478.6" r="2.7"/><circle cx="1470.5" cy="478.2" r="2.7"/><circle cx="1474.3" cy="480.0" r="2.7"/><circle cx="1474.0" cy="479.6" r="2.7"/><circle cx="1481.4" cy="479.1" r="2.7"/><circle cx="1482.6" cy="478.5" r="2.7"/><circle cx="1498.4" cy="479.2" r="2.7"/><circle cx="1469.0" cy="480.1" r="2.7"/><circle cx="1471.0" cy="481.1" r="2.7"/><circle cx="1472.6" cy="481.7" r="2.7"/><circle cx="1472.2" cy="480.8" r="2.7"/><circle cx="1472.1" cy="481.6" r="2.7"/><circle cx="1475.7" cy="481.4" r="2.7"/><circle cx="1475.1" cy="480.9" r="2.7"/><circle cx="1477.9" cy="481.9" r="2.7"/><circle cx="1481.8" cy="481.7" r="2.7"/><circle cx="1482.6" cy="481.3" r="2.7"/><circle cx="1505.6" cy="480.4" r="2.7"/><circle cx="1504.4" cy="480.4" r="2.7"/><circle cx="1509.9" cy="481.7" r="2.7"/><circle cx="1515.6" cy="481.7" r="2.7"/><circle cx="1465.3" cy="482.0" r="2.7"/><circle cx="1466.4" cy="483.0" r="2.7"/><circle cx="1467.7" cy="483.1" r="2.7"/><circle cx="1467.1" cy="482.4" r="2.7"/><circle cx="1466.3" cy="482.5" r="2.7"/><circle cx="1470.5" cy="483.5" r="2.7"/><circle cx="1471.9" cy="482.5" r="2.7"/><circle cx="1474.2" cy="483.1" r="2.7"/><circle cx="1481.3" cy="483.5" r="2.7"/><circle cx="1481.8" cy="483.9" r="2.7"/><circle cx="1518.6" cy="483.2" r="2.7"/><circle cx="1467.9" cy="484.1" r="2.7"/><circle cx="1469.3" cy="484.0" r="2.7"/><circle cx="1468.4" cy="485.3" r="2.7"/><circle cx="1468.7" cy="485.0" r="2.7"/><circle cx="1471.1" cy="484.5" r="2.7"/><circle cx="1472.0" cy="484.8" r="2.7"/><circle cx="1474.4" cy="484.9" r="2.7"/><circle cx="1479.1" cy="485.2" r="2.7"/><circle cx="1478.8" cy="485.6" r="2.7"/><circle cx="1481.4" cy="484.3" r="2.7"/><circle cx="1481.4" cy="486.0" r="2.7"/><circle cx="1482.6" cy="484.0" r="2.7"/><circle cx="1487.3" cy="485.1" r="2.7"/><circle cx="1505.5" cy="485.4" r="2.7"/><circle cx="1507.3" cy="485.2" r="2.7"/><circle cx="1465.7" cy="487.6" r="2.7"/><circle cx="1466.0" cy="486.2" r="2.7"/><circle cx="1470.9" cy="487.5" r="2.7"/><circle cx="1473.0" cy="486.5" r="2.7"/><circle cx="1472.3" cy="487.2" r="2.7"/><circle cx="1480.5" cy="487.9" r="2.7"/><circle cx="1481.2" cy="487.6" r="2.7"/><circle cx="1484.0" cy="487.8" r="2.7"/><circle cx="1482.0" cy="487.9" r="2.7"/><circle cx="1484.9" cy="486.6" r="2.7"/><circle cx="1492.3" cy="487.4" r="2.7"/><circle cx="1502.1" cy="487.8" r="2.7"/><circle cx="1464.9" cy="488.6" r="2.7"/><circle cx="1466.0" cy="488.2" r="2.7"/><circle cx="1468.4" cy="489.1" r="2.7"/><circle cx="1473.3" cy="488.1" r="2.7"/><circle cx="1479.1" cy="488.1" r="2.7"/><circle cx="1481.8" cy="488.4" r="2.7"/><circle cx="1485.0" cy="489.0" r="2.7"/><circle cx="1465.5" cy="491.0" r="2.7"/><circle cx="1465.9" cy="490.8" r="2.7"/><circle cx="1466.9" cy="490.9" r="2.7"/><circle cx="1467.5" cy="491.8" r="2.7"/><circle cx="1466.9" cy="491.4" r="2.7"/><circle cx="1468.4" cy="490.6" r="2.7"/><circle cx="1472.4" cy="490.4" r="2.7"/><circle cx="1474.2" cy="491.3" r="2.7"/><circle cx="1475.5" cy="491.3" r="2.7"/><circle cx="1477.6" cy="491.7" r="2.7"/><circle cx="1476.3" cy="490.8" r="2.7"/><circle cx="1479.8" cy="491.6" r="2.7"/><circle cx="1478.4" cy="491.8" r="2.7"/><circle cx="1479.6" cy="491.8" r="2.7"/><circle cx="1479.8" cy="490.2" r="2.7"/><circle cx="1482.7" cy="491.6" r="2.7"/><circle cx="1484.8" cy="491.4" r="2.7"/><circle cx="1486.7" cy="490.5" r="2.7"/><circle cx="1514.3" cy="491.7" r="2.7"/><circle cx="1471.2" cy="492.6" r="2.7"/><circle cx="1472.4" cy="493.5" r="2.7"/><circle cx="1478.0" cy="492.3" r="2.7"/><circle cx="1479.2" cy="493.1" r="2.7"/><circle cx="1479.7" cy="492.1" r="2.7"/><circle cx="1479.3" cy="492.1" r="2.7"/><circle cx="1481.0" cy="493.5" r="2.7"/><circle cx="1483.3" cy="493.1" r="2.7"/><circle cx="1483.0" cy="493.2" r="2.7"/><circle cx="1482.9" cy="492.8" r="2.7"/><circle cx="1484.2" cy="493.0" r="2.7"/><circle cx="1485.0" cy="493.6" r="2.7"/><circle cx="1485.8" cy="492.4" r="2.7"/><circle cx="1484.0" cy="493.7" r="2.7"/><circle cx="1487.2" cy="492.8" r="2.7"/><circle cx="1495.0" cy="492.9" r="2.7"/><circle cx="1497.8" cy="493.9" r="2.7"/><circle cx="1467.6" cy="495.7" r="2.7"/><circle cx="1467.5" cy="494.8" r="2.7"/><circle cx="1468.1" cy="495.8" r="2.7"/><circle cx="1475.8" cy="494.0" r="2.7"/><circle cx="1479.6" cy="495.8" r="2.7"/><circle cx="1482.0" cy="494.1" r="2.7"/><circle cx="1482.0" cy="494.4" r="2.7"/><circle cx="1486.0" cy="495.5" r="2.7"/><circle cx="1484.1" cy="495.2" r="2.7"/><circle cx="1510.7" cy="494.1" r="2.7"/><circle cx="1464.1" cy="497.8" r="2.7"/><circle cx="1465.5" cy="496.5" r="2.7"/><circle cx="1467.0" cy="496.6" r="2.7"/><circle cx="1469.1" cy="496.5" r="2.7"/><circle cx="1475.0" cy="497.3" r="2.7"/><circle cx="1481.5" cy="496.9" r="2.7"/><circle cx="1483.9" cy="497.3" r="2.7"/><circle cx="1485.2" cy="497.4" r="2.7"/><circle cx="1502.4" cy="497.1" r="2.7"/><circle cx="1465.5" cy="499.2" r="2.7"/><circle cx="1464.1" cy="499.1" r="2.7"/><circle cx="1467.8" cy="499.3" r="2.7"/><circle cx="1467.9" cy="499.7" r="2.7"/><circle cx="1469.1" cy="498.6" r="2.7"/><circle cx="1472.0" cy="498.7" r="2.7"/><circle cx="1472.6" cy="499.2" r="2.7"/><circle cx="1477.7" cy="499.7" r="2.7"/><circle cx="1479.1" cy="498.1" r="2.7"/><circle cx="1479.5" cy="499.6" r="2.7"/><circle cx="1483.3" cy="499.4" r="2.7"/><circle cx="1487.8" cy="498.5" r="2.7"/><circle cx="1486.0" cy="498.2" r="2.7"/><circle cx="1492.2" cy="499.6" r="2.7"/><circle cx="1464.4" cy="501.0" r="2.7"/><circle cx="1467.3" cy="500.6" r="2.7"/><circle cx="1466.7" cy="500.6" r="2.7"/><circle cx="1468.9" cy="500.2" r="2.7"/><circle cx="1471.7" cy="500.5" r="2.7"/><circle cx="1478.7" cy="501.5" r="2.7"/><circle cx="1483.6" cy="501.6" r="2.7"/><circle cx="1483.6" cy="501.2" r="2.7"/><circle cx="1482.2" cy="501.4" r="2.7"/><circle cx="1485.5" cy="500.4" r="2.7"/><circle cx="1490.5" cy="500.8" r="2.7"/><circle cx="1491.0" cy="500.9" r="2.7"/><circle cx="1497.8" cy="501.8" r="2.7"/><circle cx="1501.2" cy="501.9" r="2.7"/><circle cx="1500.6" cy="500.7" r="2.7"/><circle cx="1505.2" cy="501.2" r="2.7"/><circle cx="1507.1" cy="500.9" r="2.7"/><circle cx="1511.0" cy="500.2" r="2.7"/><circle cx="1468.5" cy="503.4" r="2.7"/><circle cx="1472.4" cy="503.5" r="2.7"/><circle cx="1483.2" cy="502.2" r="2.7"/><circle cx="1482.3" cy="503.7" r="2.7"/><circle cx="1485.7" cy="502.6" r="2.7"/><circle cx="1487.7" cy="502.6" r="2.7"/><circle cx="1488.5" cy="503.0" r="2.7"/><circle cx="1504.7" cy="502.9" r="2.7"/><circle cx="1511.7" cy="503.8" r="2.7"/><circle cx="1469.1" cy="505.5" r="2.7"/><circle cx="1471.2" cy="504.7" r="2.7"/><circle cx="1472.2" cy="504.5" r="2.7"/><circle cx="1473.3" cy="505.3" r="2.7"/><circle cx="1473.8" cy="504.9" r="2.7"/><circle cx="1480.1" cy="505.8" r="2.7"/><circle cx="1487.9" cy="504.9" r="2.7"/><circle cx="1487.6" cy="504.8" r="2.7"/><circle cx="1491.1" cy="505.2" r="2.7"/><circle cx="1492.5" cy="504.3" r="2.7"/><circle cx="1500.4" cy="505.3" r="2.7"/><circle cx="1505.5" cy="504.8" r="2.7"/><circle cx="1506.7" cy="504.9" r="2.7"/><circle cx="1506.9" cy="505.2" r="2.7"/><circle cx="1464.4" cy="506.6" r="2.7"/><circle cx="1466.3" cy="506.7" r="2.7"/><circle cx="1466.1" cy="508.0" r="2.7"/><circle cx="1468.6" cy="506.3" r="2.7"/><circle cx="1468.8" cy="507.4" r="2.7"/><circle cx="1470.3" cy="506.5" r="2.7"/><circle cx="1474.0" cy="507.7" r="2.7"/><circle cx="1479.3" cy="507.0" r="2.7"/><circle cx="1480.0" cy="507.5" r="2.7"/><circle cx="1482.6" cy="507.7" r="2.7"/><circle cx="1488.3" cy="506.0" r="2.7"/><circle cx="1488.2" cy="506.7" r="2.7"/><circle cx="1489.9" cy="507.5" r="2.7"/><circle cx="1506.9" cy="507.1" r="2.7"/><circle cx="1507.7" cy="506.8" r="2.7"/><circle cx="1508.6" cy="507.2" r="2.7"/><circle cx="1512.0" cy="507.0" r="2.7"/><circle cx="1465.6" cy="508.6" r="2.7"/><circle cx="1465.4" cy="509.5" r="2.7"/><circle cx="1466.7" cy="509.2" r="2.7"/><circle cx="1469.1" cy="509.5" r="2.7"/><circle cx="1477.9" cy="508.4" r="2.7"/><circle cx="1478.6" cy="508.2" r="2.7"/><circle cx="1483.9" cy="508.3" r="2.7"/><circle cx="1486.6" cy="508.2" r="2.7"/><circle cx="1494.7" cy="508.7" r="2.7"/><circle cx="1511.4" cy="509.8" r="2.7"/><circle cx="1466.4" cy="510.4" r="2.7"/><circle cx="1468.6" cy="510.7" r="2.7"/><circle cx="1468.7" cy="510.8" r="2.7"/><circle cx="1470.7" cy="511.1" r="2.7"/><circle cx="1473.4" cy="510.9" r="2.7"/><circle cx="1477.4" cy="511.9" r="2.7"/><circle cx="1481.8" cy="510.3" r="2.7"/><circle cx="1481.0" cy="512.0" r="2.7"/><circle cx="1483.3" cy="511.0" r="2.7"/><circle cx="1483.4" cy="511.5" r="2.7"/><circle cx="1485.3" cy="511.6" r="2.7"/><circle cx="1485.5" cy="510.4" r="2.7"/><circle cx="1487.9" cy="511.3" r="2.7"/><circle cx="1501.1" cy="511.0" r="2.7"/><circle cx="1507.7" cy="510.4" r="2.7"/><circle cx="1464.7" cy="513.5" r="2.7"/><circle cx="1464.4" cy="512.3" r="2.7"/><circle cx="1466.5" cy="512.3" r="2.7"/><circle cx="1472.3" cy="512.4" r="2.7"/><circle cx="1474.6" cy="512.1" r="2.7"/><circle cx="1476.9" cy="512.3" r="2.7"/><circle cx="1478.4" cy="512.3" r="2.7"/><circle cx="1479.8" cy="512.2" r="2.7"/><circle cx="1479.5" cy="513.5" r="2.7"/><circle cx="1480.8" cy="512.7" r="2.7"/><circle cx="1483.4" cy="512.9" r="2.7"/><circle cx="1484.8" cy="512.5" r="2.7"/><circle cx="1485.8" cy="512.1" r="2.7"/><circle cx="1487.2" cy="512.2" r="2.7"/><circle cx="1488.6" cy="512.6" r="2.7"/><circle cx="1493.8" cy="513.4" r="2.7"/><circle cx="1495.1" cy="512.9" r="2.7"/><circle cx="1506.4" cy="513.1" r="2.7"/><circle cx="1506.3" cy="513.7" r="2.7"/><circle cx="1465.7" cy="514.4" r="2.7"/><circle cx="1468.7" cy="514.9" r="2.7"/><circle cx="1471.7" cy="515.9" r="2.7"/><circle cx="1471.8" cy="514.1" r="2.7"/><circle cx="1473.3" cy="514.4" r="2.7"/><circle cx="1473.9" cy="515.6" r="2.7"/><circle cx="1472.5" cy="515.1" r="2.7"/><circle cx="1478.0" cy="515.2" r="2.7"/><circle cx="1480.6" cy="514.2" r="2.7"/><circle cx="1481.8" cy="515.6" r="2.7"/><circle cx="1485.2" cy="515.0" r="2.7"/><circle cx="1486.1" cy="514.3" r="2.7"/><circle cx="1489.8" cy="514.6" r="2.7"/><circle cx="1501.9" cy="515.6" r="2.7"/><circle cx="1469.7" cy="517.9" r="2.7"/><circle cx="1469.5" cy="517.2" r="2.7"/><circle cx="1470.4" cy="516.6" r="2.7"/><circle cx="1470.7" cy="516.5" r="2.7"/><circle cx="1479.6" cy="517.4" r="2.7"/><circle cx="1481.3" cy="517.9" r="2.7"/><circle cx="1480.2" cy="516.3" r="2.7"/><circle cx="1486.0" cy="516.2" r="2.7"/><circle cx="1487.7" cy="516.6" r="2.7"/><circle cx="1488.8" cy="517.3" r="2.7"/><circle cx="1490.8" cy="517.4" r="2.7"/><circle cx="1492.6" cy="516.1" r="2.7"/><circle cx="1499.2" cy="516.8" r="2.7"/><circle cx="1503.3" cy="517.1" r="2.7"/><circle cx="1506.8" cy="517.8" r="2.7"/><circle cx="1464.6" cy="519.2" r="2.7"/><circle cx="1467.3" cy="518.5" r="2.7"/><circle cx="1467.4" cy="519.6" r="2.7"/><circle cx="1467.6" cy="518.4" r="2.7"/><circle cx="1466.7" cy="518.3" r="2.7"/><circle cx="1469.1" cy="519.5" r="2.7"/><circle cx="1468.9" cy="518.4" r="2.7"/><circle cx="1471.1" cy="518.4" r="2.7"/><circle cx="1470.5" cy="518.1" r="2.7"/><circle cx="1472.4" cy="518.9" r="2.7"/><circle cx="1472.6" cy="519.5" r="2.7"/><circle cx="1479.4" cy="518.2" r="2.7"/><circle cx="1484.6" cy="519.7" r="2.7"/><circle cx="1484.1" cy="519.5" r="2.7"/><circle cx="1487.5" cy="519.8" r="2.7"/><circle cx="1487.1" cy="519.2" r="2.7"/><circle cx="1489.0" cy="518.2" r="2.7"/><circle cx="1489.0" cy="518.8" r="2.7"/><circle cx="1489.4" cy="519.0" r="2.7"/><circle cx="1498.9" cy="518.2" r="2.7"/><circle cx="1507.0" cy="518.2" r="2.7"/><circle cx="1466.6" cy="521.3" r="2.7"/><circle cx="1469.8" cy="521.8" r="2.7"/><circle cx="1470.3" cy="520.9" r="2.7"/><circle cx="1471.8" cy="521.4" r="2.7"/><circle cx="1475.3" cy="521.7" r="2.7"/><circle cx="1474.8" cy="521.6" r="2.7"/><circle cx="1476.3" cy="520.4" r="2.7"/><circle cx="1477.2" cy="520.7" r="2.7"/><circle cx="1482.4" cy="520.7" r="2.7"/><circle cx="1483.2" cy="520.1" r="2.7"/><circle cx="1487.4" cy="520.3" r="2.7"/><circle cx="1490.4" cy="520.3" r="2.7"/><circle cx="1490.9" cy="521.4" r="2.7"/><circle cx="1490.9" cy="521.0" r="2.7"/><circle cx="1494.8" cy="521.6" r="2.7"/><circle cx="1496.9" cy="521.7" r="2.7"/><circle cx="1511.7" cy="520.6" r="2.7"/><circle cx="1465.8" cy="523.2" r="2.7"/><circle cx="1464.4" cy="523.0" r="2.7"/><circle cx="1464.5" cy="523.8" r="2.7"/><circle cx="1465.6" cy="522.2" r="2.7"/><circle cx="1466.3" cy="523.2" r="2.7"/><circle cx="1466.2" cy="522.9" r="2.7"/><circle cx="1472.2" cy="523.1" r="2.7"/><circle cx="1477.0" cy="522.0" r="2.7"/><circle cx="1478.9" cy="523.5" r="2.7"/><circle cx="1478.2" cy="522.7" r="2.7"/><circle cx="1479.0" cy="522.3" r="2.7"/><circle cx="1480.3" cy="523.2" r="2.7"/><circle cx="1483.1" cy="522.5" r="2.7"/><circle cx="1485.4" cy="523.2" r="2.7"/><circle cx="1491.5" cy="523.7" r="2.7"/><circle cx="1493.0" cy="522.2" r="2.7"/><circle cx="1492.6" cy="522.5" r="2.7"/><circle cx="1494.9" cy="523.3" r="2.7"/><circle cx="1494.7" cy="522.0" r="2.7"/><circle cx="1495.0" cy="523.8" r="2.7"/><circle cx="1498.5" cy="522.3" r="2.7"/><circle cx="1508.8" cy="522.5" r="2.7"/><circle cx="1469.8" cy="525.6" r="2.7"/><circle cx="1471.6" cy="525.2" r="2.7"/><circle cx="1478.1" cy="524.8" r="2.7"/><circle cx="1478.0" cy="525.4" r="2.7"/><circle cx="1481.4" cy="524.1" r="2.7"/><circle cx="1485.3" cy="525.9" r="2.7"/><circle cx="1486.9" cy="524.8" r="2.7"/><circle cx="1491.0" cy="524.5" r="2.7"/><circle cx="1490.5" cy="524.2" r="2.7"/><circle cx="1492.8" cy="526.0" r="2.7"/><circle cx="1464.4" cy="526.4" r="2.7"/><circle cx="1466.6" cy="527.7" r="2.7"/><circle cx="1470.4" cy="527.9" r="2.7"/><circle cx="1472.3" cy="527.1" r="2.7"/><circle cx="1476.6" cy="526.1" r="2.7"/><circle cx="1478.3" cy="527.4" r="2.7"/><circle cx="1480.9" cy="526.7" r="2.7"/><circle cx="1481.3" cy="526.8" r="2.7"/><circle cx="1480.9" cy="526.5" r="2.7"/><circle cx="1486.4" cy="526.2" r="2.7"/><circle cx="1486.2" cy="527.6" r="2.7"/><circle cx="1486.7" cy="526.7" r="2.7"/><circle cx="1491.9" cy="526.0" r="2.7"/><circle cx="1492.9" cy="527.0" r="2.7"/><circle cx="1497.7" cy="527.3" r="2.7"/><circle cx="1497.7" cy="526.2" r="2.7"/><circle cx="1506.8" cy="526.8" r="2.7"/><circle cx="1465.9" cy="528.4" r="2.7"/><circle cx="1467.7" cy="528.6" r="2.7"/><circle cx="1467.6" cy="528.8" r="2.7"/><circle cx="1468.0" cy="529.2" r="2.7"/><circle cx="1469.1" cy="528.6" r="2.7"/><circle cx="1470.5" cy="529.5" r="2.7"/><circle cx="1471.1" cy="528.3" r="2.7"/><circle cx="1472.3" cy="529.4" r="2.7"/><circle cx="1474.9" cy="529.1" r="2.7"/><circle cx="1476.2" cy="529.0" r="2.7"/><circle cx="1476.3" cy="529.6" r="2.7"/><circle cx="1495.0" cy="529.3" r="2.7"/><circle cx="1498.1" cy="528.1" r="2.7"/><circle cx="1499.7" cy="528.1" r="2.7"/><circle cx="1501.3" cy="528.9" r="2.7"/><circle cx="1503.5" cy="528.2" r="2.7"/><circle cx="1515.8" cy="528.0" r="2.7"/><circle cx="1465.0" cy="531.6" r="2.7"/><circle cx="1465.0" cy="531.4" r="2.7"/><circle cx="1466.7" cy="531.1" r="2.7"/><circle cx="1467.5" cy="532.0" r="2.7"/><circle cx="1469.7" cy="531.6" r="2.7"/><circle cx="1468.3" cy="530.5" r="2.7"/><circle cx="1468.8" cy="531.9" r="2.7"/><circle cx="1473.4" cy="531.7" r="2.7"/><circle cx="1474.3" cy="531.7" r="2.7"/><circle cx="1474.4" cy="530.3" r="2.7"/><circle cx="1476.4" cy="531.8" r="2.7"/><circle cx="1477.4" cy="531.7" r="2.7"/><circle cx="1479.0" cy="530.2" r="2.7"/><circle cx="1483.7" cy="531.5" r="2.7"/><circle cx="1485.2" cy="531.3" r="2.7"/><circle cx="1484.5" cy="530.9" r="2.7"/><circle cx="1488.4" cy="531.4" r="2.7"/><circle cx="1490.0" cy="531.2" r="2.7"/><circle cx="1493.6" cy="531.2" r="2.7"/><circle cx="1494.8" cy="530.1" r="2.7"/><circle cx="1496.3" cy="532.0" r="2.7"/><circle cx="1496.8" cy="530.9" r="2.7"/><circle cx="1496.0" cy="530.2" r="2.7"/><circle cx="1497.9" cy="530.4" r="2.7"/><circle cx="1499.5" cy="530.9" r="2.7"/><circle cx="1500.8" cy="531.2" r="2.7"/><circle cx="1501.4" cy="531.1" r="2.7"/><circle cx="1508.5" cy="531.1" r="2.7"/><circle cx="1513.8" cy="530.8" r="2.7"/><circle cx="1465.3" cy="532.1" r="2.7"/><circle cx="1464.6" cy="532.2" r="2.7"/><circle cx="1469.0" cy="532.3" r="2.7"/><circle cx="1472.4" cy="532.8" r="2.7"/><circle cx="1473.8" cy="532.1" r="2.7"/><circle cx="1472.8" cy="532.5" r="2.7"/><circle cx="1480.0" cy="532.6" r="2.7"/><circle cx="1481.5" cy="532.1" r="2.7"/><circle cx="1483.5" cy="532.6" r="2.7"/><circle cx="1487.6" cy="532.4" r="2.7"/><circle cx="1491.3" cy="533.4" r="2.7"/><circle cx="1494.6" cy="532.4" r="2.7"/><circle cx="1495.8" cy="532.5" r="2.7"/><circle cx="1494.8" cy="532.4" r="2.7"/><circle cx="1496.9" cy="533.5" r="2.7"/><circle cx="1503.5" cy="533.6" r="2.7"/><circle cx="1513.0" cy="533.2" r="2.7"/><circle cx="1512.7" cy="533.1" r="2.7"/><circle cx="1516.3" cy="532.9" r="2.7"/><circle cx="1526.0" cy="533.6" r="2.7"/><circle cx="1464.4" cy="535.4" r="2.7"/><circle cx="1465.5" cy="534.8" r="2.7"/><circle cx="1467.7" cy="535.8" r="2.7"/><circle cx="1466.5" cy="535.7" r="2.7"/><circle cx="1466.5" cy="535.7" r="2.7"/><circle cx="1468.4" cy="535.1" r="2.7"/><circle cx="1468.5" cy="534.8" r="2.7"/><circle cx="1470.3" cy="535.6" r="2.7"/><circle cx="1471.1" cy="534.0" r="2.7"/><circle cx="1472.2" cy="535.8" r="2.7"/><circle cx="1475.2" cy="535.9" r="2.7"/><circle cx="1477.4" cy="535.7" r="2.7"/><circle cx="1477.6" cy="535.2" r="2.7"/><circle cx="1477.7" cy="535.5" r="2.7"/><circle cx="1477.8" cy="535.8" r="2.7"/><circle cx="1478.7" cy="535.0" r="2.7"/><circle cx="1484.2" cy="535.1" r="2.7"/><circle cx="1485.9" cy="534.6" r="2.7"/><circle cx="1485.3" cy="535.6" r="2.7"/><circle cx="1487.4" cy="534.4" r="2.7"/><circle cx="1496.2" cy="535.0" r="2.7"/><circle cx="1496.6" cy="535.3" r="2.7"/><circle cx="1498.7" cy="535.7" r="2.7"/><circle cx="1501.9" cy="534.1" r="2.7"/><circle cx="1502.0" cy="535.4" r="2.7"/><circle cx="1507.2" cy="535.7" r="2.7"/><circle cx="1507.3" cy="535.9" r="2.7"/><circle cx="1508.2" cy="535.8" r="2.7"/><circle cx="1513.5" cy="534.4" r="2.7"/><circle cx="1513.0" cy="534.2" r="2.7"/><circle cx="1522.7" cy="534.5" r="2.7"/><circle cx="1525.1" cy="534.1" r="2.7"/><circle cx="1466.1" cy="537.1" r="2.7"/><circle cx="1466.4" cy="536.1" r="2.7"/><circle cx="1470.5" cy="537.4" r="2.7"/><circle cx="1477.9" cy="536.7" r="2.7"/><circle cx="1478.5" cy="537.0" r="2.7"/><circle cx="1480.0" cy="537.7" r="2.7"/><circle cx="1484.2" cy="536.8" r="2.7"/><circle cx="1487.6" cy="537.9" r="2.7"/><circle cx="1488.2" cy="537.4" r="2.7"/><circle cx="1488.5" cy="537.6" r="2.7"/><circle cx="1490.1" cy="537.2" r="2.7"/><circle cx="1491.3" cy="537.8" r="2.7"/><circle cx="1497.9" cy="536.1" r="2.7"/><circle cx="1497.7" cy="536.2" r="2.7"/><circle cx="1501.5" cy="536.6" r="2.7"/><circle cx="1503.6" cy="537.8" r="2.7"/><circle cx="1503.6" cy="536.2" r="2.7"/><circle cx="1504.9" cy="536.6" r="2.7"/><circle cx="1507.6" cy="536.1" r="2.7"/><circle cx="1507.0" cy="536.8" r="2.7"/><circle cx="1509.7" cy="536.7" r="2.7"/><circle cx="1508.1" cy="537.2" r="2.7"/><circle cx="1513.6" cy="537.8" r="2.7"/><circle cx="1513.0" cy="536.6" r="2.7"/><circle cx="1517.2" cy="536.3" r="2.7"/></g>
<line x1="1367.50" y1="85.00" x2="1367.50" y2="638.00" stroke="#000" stroke-width="1"/>
<line x1="1367.00" y1="637.50" x2="1778.00" y2="637.50" stroke="#000" stroke-width="1"/>
<line x1="1382.50" y1="637.50" x2="1382.50" y2="641.30" stroke="#222" stroke-width="1"/>
<line x1="1460.00" y1="637.50" x2="1460.00" y2="641.30" stroke="#222" stroke-width="1"/>
<line x1="1473.80" y1="637.50" x2="1473.80" y2="641.30" stroke="#222" stroke-width="1"/>
<line x1="1578.30" y1="637.50" x2="1578.30" y2="641.30" stroke="#222" stroke-width="1"/>
<line x1="1670.00" y1="637.50" x2="1670.00" y2="641.30" stroke="#222" stroke-width="1"/>
<line x1="1762.00" y1="637.50" x2="1762.00" y2="641.30" stroke="#222" stroke-width="1"/>
<line x1="1364.10" y1="331.00" x2="1367.50" y2="331.00" stroke="#222" stroke-width="1"/>
<line x1="1364.10" y1="539.70" x2="1367.50" y2="539.70" stroke="#222" stroke-width="1"/>
<line x1="1460.00" y1="90.00" x2="1460.00" y2="637.50" stroke="#bcbcbc" stroke-width="1.7" stroke-dasharray="17.5 6.5" stroke-dashoffset="3.75"/>
<line x1="1460.00" y1="90.00" x2="1460.00" y2="637.50" stroke="#000" stroke-width="3.2" stroke-dasharray="11.9 11.85" stroke-dashoffset="1.25"/>
<line x1="1367.50" y1="539.70" x2="1781.50" y2="539.70" stroke="#b4b4b4" stroke-width="1.7" stroke-dasharray="2.6 21.4" stroke-dashoffset="-16.10"/>
<line x1="1367.50" y1="539.70" x2="1781.50" y2="539.70" stroke="#000" stroke-width="3.4" stroke-dasharray="11.9 11.85" stroke-dashoffset="-0.60"/>
<text x="1391.20" y="659.80" font-size="23.55" text-anchor="middle">-6</text>
<text x="1460.90" y="659.80" font-size="23.55" text-anchor="middle">0</text>
<text x="1475.80" y="659.80" font-size="23.55" text-anchor="middle">1</text>
<text x="1581.00" y="659.80" font-size="23.55" text-anchor="middle">9</text>
<text x="1671.50" y="659.80" font-size="23.55" text-anchor="middle">16</text>
<text x="1764.00" y="659.80" font-size="23.55" text-anchor="middle">23</text>
<text x="1366.50" y="339.50" font-size="23.55" text-anchor="end">5</text>
<text x="1366.50" y="546.00" font-size="23.55" text-anchor="end">1.301</text>
<text x="1572.40" y="684.00" font-size="23.55" text-anchor="middle">log2 fold change</text>
<text font-size="23.55" text-anchor="middle" transform="translate(1337.40 368.60) rotate(-90)">-log10 (p-value)</text>
<text x="1445.00" y="73.90" font-size="23.7" class="b">ASCsub40 vs. ASCsub25</text>
<text x="1571.50" y="126.50" font-size="23.55">p-value&lt;0.05</text>
<text x="1571.50" y="155.70" font-size="23.55">log2 fold change&gt;0</text>
<ellipse cx="1590.50" cy="171.30" rx="4.5" ry="4.3" fill="#f8766d"/>
<text x="1602.70" y="177.90" font-size="23.55">up 811</text>
<ellipse cx="1590.50" cy="203.30" rx="4.5" ry="4.3" fill="#00ba38"/>
<text x="1602.70" y="210.50" font-size="23.55">down 768</text>
<ellipse cx="1590.50" cy="235.00" rx="4.5" ry="4.3" fill="#619cff"/>
<text x="1602.70" y="243.40" font-size="23.55">no 29802</text>
<line x1="524.20" y1="871.70" x2="949.80" y2="871.70" stroke="#0d0d0d" stroke-width="1.3"/>
<line x1="508.00" y1="871.70" x2="524.20" y2="871.70" stroke="#000" stroke-width="2.5"/>
<line x1="524.20" y1="907.12" x2="949.80" y2="907.12" stroke="#0d0d0d" stroke-width="1.3"/>
<line x1="508.00" y1="907.12" x2="524.20" y2="907.12" stroke="#000" stroke-width="2.5"/>
<line x1="524.20" y1="942.54" x2="949.80" y2="942.54" stroke="#0d0d0d" stroke-width="1.3"/>
<line x1="508.00" y1="942.54" x2="524.20" y2="942.54" stroke="#000" stroke-width="2.5"/>
<line x1="524.20" y1="977.96" x2="949.80" y2="977.96" stroke="#0d0d0d" stroke-width="1.3"/>
<line x1="508.00" y1="977.96" x2="524.20" y2="977.96" stroke="#000" stroke-width="2.5"/>
<line x1="524.20" y1="1013.38" x2="949.80" y2="1013.38" stroke="#0d0d0d" stroke-width="1.3"/>
<line x1="508.00" y1="1013.38" x2="524.20" y2="1013.38" stroke="#000" stroke-width="2.5"/>
<line x1="524.20" y1="1048.80" x2="949.80" y2="1048.80" stroke="#0d0d0d" stroke-width="1.3"/>
<line x1="508.00" y1="1048.80" x2="524.20" y2="1048.80" stroke="#000" stroke-width="2.5"/>
<line x1="524.20" y1="1084.22" x2="949.80" y2="1084.22" stroke="#0d0d0d" stroke-width="1.3"/>
<line x1="508.00" y1="1084.22" x2="524.20" y2="1084.22" stroke="#000" stroke-width="2.5"/>
<line x1="524.20" y1="1119.64" x2="949.80" y2="1119.64" stroke="#0d0d0d" stroke-width="1.3"/>
<line x1="508.00" y1="1119.64" x2="524.20" y2="1119.64" stroke="#000" stroke-width="2.5"/>
<line x1="524.20" y1="1155.06" x2="949.80" y2="1155.06" stroke="#0d0d0d" stroke-width="1.3"/>
<line x1="508.00" y1="1155.06" x2="524.20" y2="1155.06" stroke="#000" stroke-width="2.5"/>
<line x1="524.20" y1="1190.48" x2="949.80" y2="1190.48" stroke="#0d0d0d" stroke-width="1.3"/>
<line x1="508.00" y1="1190.48" x2="524.20" y2="1190.48" stroke="#000" stroke-width="2.5"/>
<line x1="524.20" y1="1225.90" x2="949.80" y2="1225.90" stroke="#0d0d0d" stroke-width="1.3"/>
<line x1="508.00" y1="1225.90" x2="524.20" y2="1225.90" stroke="#000" stroke-width="2.5"/>
<circle cx="625.20" cy="871.70" r="12.90" fill="#fde725"/>
<circle cx="603.60" cy="907.12" r="11.70" fill="#a8db34"/>
<circle cx="747.50" cy="942.54" r="19.50" fill="#93d741"/>
<circle cx="625.20" cy="977.96" r="12.90" fill="#2f6c8e"/>
<circle cx="603.60" cy="1013.38" r="11.70" fill="#472d7b"/>
<circle cx="593.30" cy="1048.80" r="10.90" fill="#482878"/>
<circle cx="890.80" cy="1084.22" r="23.90" fill="#440154"/>
<circle cx="641.10" cy="1119.64" r="13.50" fill="#3e4c8a"/>
<circle cx="747.50" cy="1155.06" r="18.50" fill="#440154"/>
<circle cx="647.10" cy="1190.48" r="12.00" fill="#26828e"/>
<circle cx="811.00" cy="1225.90" r="21.70" fill="#440154"/>
<rect x="524.20" y="836.30" width="425.60" height="425.30" fill="none" stroke="#000" stroke-width="2.5"/>
<text x="641.30" y="881.00" font-size="24.2" class="b">19</text>
<text x="617.80" y="916.40" font-size="24.2" class="b">15</text>
<text x="770.20" y="952.00" font-size="24.2" class="b">42</text>
<text x="640.60" y="988.00" font-size="24.2" class="b">19</text>
<text x="617.20" y="1022.40" font-size="24.2" class="b">15</text>
<text x="605.30" y="1058.10" font-size="24.2" class="b">13</text>
<text x="918.10" y="1092.20" font-size="24.2" class="b">69</text>
<text x="656.90" y="1129.10" font-size="24.2" class="b">22</text>
<text x="768.00" y="1164.10" font-size="24.2" class="b">42</text>
<text x="662.20" y="1199.20" font-size="24.2" class="b">23</text>
<text x="836.20" y="1234.20" font-size="24.2" class="b">54</text>
<line x1="524.20" y1="1261.60" x2="524.20" y2="1277.90" stroke="#000" stroke-width="2.5"/>
<text x="521.90" y="1300.90" font-size="23.6" text-anchor="middle">0</text>
<line x1="630.60" y1="1261.60" x2="630.60" y2="1277.90" stroke="#000" stroke-width="2.5"/>
<text x="628.30" y="1300.90" font-size="23.6" text-anchor="middle">20</text>
<line x1="737.00" y1="1261.60" x2="737.00" y2="1277.90" stroke="#000" stroke-width="2.5"/>
<text x="734.70" y="1300.90" font-size="23.6" text-anchor="middle">40</text>
<line x1="843.40" y1="1261.60" x2="843.40" y2="1277.90" stroke="#000" stroke-width="2.5"/>
<text x="841.10" y="1300.90" font-size="23.6" text-anchor="middle">60</text>
<line x1="949.80" y1="1261.60" x2="949.80" y2="1277.90" stroke="#000" stroke-width="2.5"/>
<text x="947.50" y="1300.90" font-size="23.6" text-anchor="middle">80</text>
<text x="751.20" y="1321.60" font-size="23.6" text-anchor="middle" class="b">gene count</text>
<text x="501.90" y="877.50" font-size="23.6" text-anchor="end">cytoskeletal motor activity</text>
<text x="501.90" y="913.20" font-size="23.6" text-anchor="end">cytokine binding</text>
<text x="501.90" y="948.20" font-size="23.6" text-anchor="end" class="b">signaling receptor regulator activity</text>
<text x="501.90" y="984.00" font-size="23.6" text-anchor="end">integrin binding</text>
<text x="501.90" y="1020.00" font-size="23.6" text-anchor="end">ECM structural constituent</text>
<text x="501.90" y="1055.00" font-size="23.6" text-anchor="end">ECM binding</text>
<text x="501.90" y="1090.20" font-size="23.6" text-anchor="end" class="b">extracellular matrix (ECM)</text>
<text x="501.90" y="1126.50" font-size="23.6" text-anchor="end">intermediate filament cytoskeleton</text>
<text x="501.90" y="1161.50" font-size="23.6" text-anchor="end">endoplasmic reticulum (ER) lumen</text>
<text x="501.90" y="1197.00" font-size="23.6" text-anchor="end">neg. regulation of response to wounding</text>
<text x="501.90" y="1232.00" font-size="23.6" text-anchor="end" class="b">extracellular structure organization</text>
<text x="501.30" y="826.30" font-size="23.6" text-anchor="end" class="b">GO term analysis</text>
<text x="528.50" y="826.30" font-size="23.6" class="b">ASCsub35 vs ASCsub25</text>
<path d="M108.3 856.30 H75 V1057.00 H108.3" fill="none" stroke="#000" stroke-width="2.3"/>
<text font-size="23.6" text-anchor="middle" class="b" transform="translate(68.90 956.30) rotate(-90)">MF</text>
<path d="M108.3 1067.50 H75 V1162.00 H108.3" fill="none" stroke="#000" stroke-width="2.3"/>
<text font-size="23.6" text-anchor="middle" class="b" transform="translate(68.90 1114.40) rotate(-90)">CC</text>
<path d="M108.3 1172.50 H75 V1239.70 H108.3" fill="none" stroke="#000" stroke-width="2.3"/>
<text font-size="23.6" text-anchor="middle" class="b" transform="translate(68.90 1205.60) rotate(-90)">BP</text>
<rect x="979.25" y="836.25" width="29.00" height="211.30" fill="url(#vir)" stroke="#000" stroke-width="2.5"/>
<line x1="980.00" y1="867.00" x2="986.00" y2="867.00" stroke="#000" stroke-width="2"/>
<line x1="1001.50" y1="867.00" x2="1007.50" y2="867.00" stroke="#000" stroke-width="2"/>
<text x="1012.50" y="879.50" font-size="23.6">0.04</text>
<line x1="980.00" y1="911.80" x2="986.00" y2="911.80" stroke="#000" stroke-width="2"/>
<line x1="1001.50" y1="911.80" x2="1007.50" y2="911.80" stroke="#000" stroke-width="2"/>
<text x="1012.50" y="923.80" font-size="23.6">0.03</text>
<line x1="980.00" y1="957.00" x2="986.00" y2="957.00" stroke="#000" stroke-width="2"/>
<line x1="1001.50" y1="957.00" x2="1007.50" y2="957.00" stroke="#000" stroke-width="2"/>
<text x="1012.50" y="967.50" font-size="23.6">0.02</text>
<line x1="980.00" y1="1002.00" x2="986.00" y2="1002.00" stroke="#000" stroke-width="2"/>
<line x1="1001.50" y1="1002.00" x2="1007.50" y2="1002.00" stroke="#000" stroke-width="2"/>
<text x="1012.50" y="1011.30" font-size="23.6">0.01</text>
<text font-size="23.6" text-anchor="middle" transform="translate(972.00 941.90) rotate(-90)">padj</text>
<line x1="523.60" y1="1500.70" x2="949.30" y2="1500.70" stroke="#0d0d0d" stroke-width="1.3"/>
<line x1="507.40" y1="1500.70" x2="523.60" y2="1500.70" stroke="#000" stroke-width="2.5"/>
<line x1="523.60" y1="1539.35" x2="949.30" y2="1539.35" stroke="#0d0d0d" stroke-width="1.3"/>
<line x1="507.40" y1="1539.35" x2="523.60" y2="1539.35" stroke="#000" stroke-width="2.5"/>
<line x1="523.60" y1="1578.00" x2="949.30" y2="1578.00" stroke="#0d0d0d" stroke-width="1.3"/>
<line x1="507.40" y1="1578.00" x2="523.60" y2="1578.00" stroke="#000" stroke-width="2.5"/>
<line x1="523.60" y1="1616.65" x2="949.30" y2="1616.65" stroke="#0d0d0d" stroke-width="1.3"/>
<line x1="507.40" y1="1616.65" x2="523.60" y2="1616.65" stroke="#000" stroke-width="2.5"/>
<line x1="523.60" y1="1655.30" x2="949.30" y2="1655.30" stroke="#0d0d0d" stroke-width="1.3"/>
<line x1="507.40" y1="1655.30" x2="523.60" y2="1655.30" stroke="#000" stroke-width="2.5"/>
<line x1="523.60" y1="1693.95" x2="949.30" y2="1693.95" stroke="#0d0d0d" stroke-width="1.3"/>
<line x1="507.40" y1="1693.95" x2="523.60" y2="1693.95" stroke="#000" stroke-width="2.5"/>
<line x1="523.60" y1="1732.60" x2="949.30" y2="1732.60" stroke="#0d0d0d" stroke-width="1.3"/>
<line x1="507.40" y1="1732.60" x2="523.60" y2="1732.60" stroke="#000" stroke-width="2.5"/>
<line x1="523.60" y1="1771.25" x2="949.30" y2="1771.25" stroke="#0d0d0d" stroke-width="1.3"/>
<line x1="507.40" y1="1771.25" x2="523.60" y2="1771.25" stroke="#000" stroke-width="2.5"/>
<line x1="523.60" y1="1809.90" x2="949.30" y2="1809.90" stroke="#0d0d0d" stroke-width="1.3"/>
<line x1="507.40" y1="1809.90" x2="523.60" y2="1809.90" stroke="#000" stroke-width="2.5"/>
<line x1="523.60" y1="1848.55" x2="949.30" y2="1848.55" stroke="#0d0d0d" stroke-width="1.3"/>
<line x1="507.40" y1="1848.55" x2="523.60" y2="1848.55" stroke="#000" stroke-width="2.5"/>
<circle cx="688.10" cy="1500.70" r="13.40" fill="#5ec962"/>
<circle cx="778.80" cy="1539.35" r="16.70" fill="#2d6e8e"/>
<circle cx="694.00" cy="1578.00" r="13.50" fill="#2e6d8e"/>
<circle cx="640.50" cy="1616.65" r="11.20" fill="#1f958b"/>
<circle cx="842.60" cy="1655.30" r="17.90" fill="#440154"/>
<circle cx="603.60" cy="1693.95" r="9.20" fill="#481f70"/>
<circle cx="677.70" cy="1732.60" r="13.10" fill="#fde725"/>
<circle cx="784.10" cy="1771.25" r="16.70" fill="#fde725"/>
<circle cx="672.10" cy="1809.90" r="12.40" fill="#7ad151"/>
<circle cx="821.30" cy="1848.55" r="17.80" fill="#440154"/>
<rect x="523.60" y="1462.30" width="425.70" height="424.70" fill="none" stroke="#000" stroke-width="2.5"/>
<text x="705.40" y="1509.50" font-size="24.2" class="b">31</text>
<text x="800.20" y="1545.50" font-size="24.2" class="b">48</text>
<text x="715.40" y="1584.30" font-size="24.2" class="b">32</text>
<text x="657.50" y="1622.20" font-size="24.2" class="b">22</text>
<text x="865.90" y="1663.80" font-size="24.2" class="b">60</text>
<text x="621.90" y="1702.60" font-size="24.2" class="b">15</text>
<text x="699.80" y="1740.40" font-size="24.2" class="b">29</text>
<text x="804.90" y="1778.60" font-size="24.2" class="b">49</text>
<text x="690.70" y="1816.10" font-size="24.2" class="b">28</text>
<text x="842.40" y="1854.60" font-size="24.2" class="b">56</text>
<line x1="523.60" y1="1887.00" x2="523.60" y2="1903.30" stroke="#000" stroke-width="2.5"/>
<text x="521.30" y="1924.10" font-size="23.6" text-anchor="middle">0</text>
<line x1="630.02" y1="1887.00" x2="630.02" y2="1903.30" stroke="#000" stroke-width="2.5"/>
<text x="627.73" y="1924.10" font-size="23.6" text-anchor="middle">20</text>
<line x1="736.45" y1="1887.00" x2="736.45" y2="1903.30" stroke="#000" stroke-width="2.5"/>
<text x="734.15" y="1924.10" font-size="23.6" text-anchor="middle">40</text>
<line x1="842.88" y1="1887.00" x2="842.88" y2="1903.30" stroke="#000" stroke-width="2.5"/>
<text x="840.58" y="1924.10" font-size="23.6" text-anchor="middle">60</text>
<line x1="949.30" y1="1887.00" x2="949.30" y2="1903.30" stroke="#000" stroke-width="2.5"/>
<text x="947.00" y="1924.10" font-size="23.6" text-anchor="middle">80</text>
<text x="747.30" y="1947.00" font-size="23.6" text-anchor="middle" class="b">gene count</text>
<text x="501.90" y="1510.40" font-size="23.6" text-anchor="end">G-protein coupled receptor binding</text>
<text x="501.90" y="1547.00" font-size="23.6" text-anchor="end" class="b">signaling receptor regulator activity</text>
<text x="501.90" y="1586.30" font-size="23.6" text-anchor="end">cytokine receptor binding</text>
<text x="501.90" y="1623.90" font-size="23.6" text-anchor="end">intrinsic component of ER membrane</text>
<text x="501.90" y="1665.20" font-size="23.6" text-anchor="end" class="b">extracellular matrix (ECM)</text>
<text x="501.90" y="1700.30" font-size="23.6" text-anchor="end">cell-cell contact zone</text>
<text x="501.90" y="1737.40" font-size="23.6" text-anchor="end">reponse to TGF-β</text>
<text x="501.90" y="1776.90" font-size="23.6" text-anchor="end">regulation of signaling receptor activity</text>
<text x="501.90" y="1814.70" font-size="23.6" text-anchor="end">cell-matrix adhesion</text>
<text x="501.90" y="1857.40" font-size="23.6" text-anchor="end" class="b">extracellular structure organization</text>
<text x="502.00" y="1450.60" font-size="23.6" text-anchor="end" class="b">GO term analysis</text>
<text x="526.30" y="1450.00" font-size="23.6" class="b">ASCsub40 vs ASCsub25</text>
<path d="M108.3 1488.60 H75 V1583.10 H108.3" fill="none" stroke="#000" stroke-width="2.3"/>
<text font-size="23.6" text-anchor="middle" class="b" transform="translate(68.90 1536.00) rotate(-90)">MF</text>
<path d="M108.3 1595.60 H75 V1706.30 H108.3" fill="none" stroke="#000" stroke-width="2.3"/>
<text font-size="23.6" text-anchor="middle" class="b" transform="translate(68.90 1651.00) rotate(-90)">CC</text>
<path d="M108.3 1718.50 H75 V1862.40 H108.3" fill="none" stroke="#000" stroke-width="2.3"/>
<text font-size="23.6" text-anchor="middle" class="b" transform="translate(68.90 1790.50) rotate(-90)">BP</text>
<rect x="977.75" y="1463.05" width="27.50" height="210.20" fill="url(#vir)" stroke="#000" stroke-width="2.5"/>
<line x1="978.50" y1="1506.50" x2="984.50" y2="1506.50" stroke="#000" stroke-width="2"/>
<line x1="998.50" y1="1506.50" x2="1004.50" y2="1506.50" stroke="#000" stroke-width="2"/>
<text x="1012.50" y="1517.20" font-size="23.6">0.03</text>
<line x1="978.50" y1="1561.90" x2="984.50" y2="1561.90" stroke="#000" stroke-width="2"/>
<line x1="998.50" y1="1561.90" x2="1004.50" y2="1561.90" stroke="#000" stroke-width="2"/>
<text x="1012.50" y="1572.50" font-size="23.6">0.02</text>
<line x1="978.50" y1="1617.30" x2="984.50" y2="1617.30" stroke="#000" stroke-width="2"/>
<line x1="998.50" y1="1617.30" x2="1004.50" y2="1617.30" stroke="#000" stroke-width="2"/>
<text x="1012.50" y="1627.80" font-size="23.6">0.01</text>
<text font-size="23.6" text-anchor="middle" transform="translate(970.20 1567.80) rotate(-90)">padj</text>
<line x1="1152.50" y1="919.80" x2="1578.00" y2="919.80" stroke="#333" stroke-width="1.3"/>
<line x1="1152.50" y1="1004.70" x2="1578.00" y2="1004.70" stroke="#333" stroke-width="1.3"/>
<line x1="1152.50" y1="1089.80" x2="1578.00" y2="1089.80" stroke="#333" stroke-width="1.3"/>
<line x1="1152.50" y1="1174.90" x2="1578.00" y2="1174.90" stroke="#333" stroke-width="1.3"/>
<circle cx="1254.80" cy="1106.80" r="9.30" fill="#414487"/>
<circle cx="1311.80" cy="1021.80" r="10.00" fill="#440154"/>
<circle cx="1323.00" cy="1004.50" r="11.30" fill="#fde725"/>
<circle cx="1334.30" cy="987.50" r="12.00" fill="#31688e"/>
<circle cx="1402.70" cy="885.70" r="13.30" fill="#1f9e89"/>
<line x1="1136.20" y1="834.80" x2="1152.50" y2="834.80" stroke="#000" stroke-width="2.4"/>
<text x="1131.10" y="842.10" font-size="23.6" text-anchor="end" fill="#231f20">25</text>
<line x1="1136.20" y1="919.80" x2="1152.50" y2="919.80" stroke="#000" stroke-width="2.4"/>
<text x="1131.10" y="927.10" font-size="23.6" text-anchor="end" fill="#231f20">20</text>
<line x1="1136.20" y1="1004.70" x2="1152.50" y2="1004.70" stroke="#000" stroke-width="2.4"/>
<text x="1131.10" y="1012.10" font-size="23.6" text-anchor="end" fill="#231f20">15</text>
<line x1="1136.20" y1="1089.80" x2="1152.50" y2="1089.80" stroke="#000" stroke-width="2.4"/>
<text x="1131.10" y="1097.80" font-size="23.6" text-anchor="end" fill="#231f20">10</text>
<line x1="1136.20" y1="1174.90" x2="1152.50" y2="1174.90" stroke="#000" stroke-width="2.4"/>
<text x="1131.10" y="1182.80" font-size="23.6" text-anchor="end" fill="#231f20">5</text>
<line x1="1136.20" y1="1260.00" x2="1152.50" y2="1260.00" stroke="#000" stroke-width="2.4"/>
<text x="1131.10" y="1268.30" font-size="23.6" text-anchor="end" fill="#231f20">0</text>
<line x1="1152.50" y1="1260.00" x2="1152.50" y2="1276.00" stroke="#000" stroke-width="2.4"/>
<text x="1157.00" y="1301.40" font-size="23.6" text-anchor="middle" fill="#231f20">0.00</text>
<line x1="1294.33" y1="1260.00" x2="1294.33" y2="1276.00" stroke="#000" stroke-width="2.4"/>
<text x="1298.80" y="1301.40" font-size="23.6" text-anchor="middle" fill="#231f20">0.05</text>
<line x1="1436.17" y1="1260.00" x2="1436.17" y2="1276.00" stroke="#000" stroke-width="2.4"/>
<text x="1441.00" y="1301.40" font-size="23.6" text-anchor="middle" fill="#231f20">0.10</text>
<line x1="1578.00" y1="1260.00" x2="1578.00" y2="1276.00" stroke="#000" stroke-width="2.4"/>
<text x="1582.50" y="1301.40" font-size="23.6" text-anchor="middle" fill="#231f20">0.15</text>
<rect x="1152.50" y="834.80" width="425.50" height="425.20" fill="none" stroke="#000" stroke-width="2.5"/>
<text x="1418.50" y="895.50" font-size="23.6" fill="#231f20" class="b">PI3K-Akt</text>
<text x="1347.30" y="993.30" font-size="23.6" fill="#231f20" class="b">focal adhesion</text>
<text x="1338.00" y="1011.60" font-size="23.6" fill="#231f20" class="b">actin cytoskeleton</text>
<text x="1326.00" y="1031.80" font-size="23.6" fill="#231f20" class="b">CAMs</text>
<text x="1267.60" y="1115.30" font-size="23.6" fill="#231f20" class="b">ECM-receptor</text>
<text x="1154.50" y="826.30" font-size="23.6" fill="#231f20" class="b">ASCsub35 vs ASCsub25</text>
<text font-size="23.6" text-anchor="middle" class="b" transform="translate(1097.00 1046.00) rotate(-90)">gene count</text>
<text x="1370.40" y="1322.60" font-size="23.6" text-anchor="middle" class="b">gene ratio</text>
<text x="1611.70" y="826.00" font-size="23.6" class="b">KEGG pathways (up)</text>
<circle cx="1619.70" cy="855.60" r="9.50" fill="#414487"/>
<text x="1641.30" y="861.90" font-size="23.6">ECM-receptor interaction</text>
<circle cx="1620.30" cy="892.70" r="10.60" fill="#440154"/>
<text x="1642.50" y="899.00" font-size="23.6">cell adhesion molecules (CAMs)</text>
<circle cx="1621.30" cy="929.80" r="11.70" fill="#fde725"/>
<text x="1643.50" y="936.50" font-size="23.6">regulation of actin cytoskeleton</text>
<circle cx="1622.50" cy="967.30" r="12.70" fill="#31688e"/>
<text x="1644.40" y="973.60" font-size="23.6">focal adhesion (FA)</text>
<circle cx="1623.50" cy="1004.40" r="13.80" fill="#1f9e89"/>
<text x="1645.40" y="1010.80" font-size="23.6">PI3K-Akt-signaling pathway</text>
<rect x="1611.35" y="1038.35" width="33.40" height="219.10" fill="url(#vir)" stroke="#000" stroke-width="2.5"/>
<line x1="1612.10" y1="1098.40" x2="1618.10" y2="1098.40" stroke="#000" stroke-width="2"/>
<line x1="1638.00" y1="1098.40" x2="1644.00" y2="1098.40" stroke="#000" stroke-width="2"/>
<text x="1654.60" y="1109.20" font-size="23.6">0.01</text>
<line x1="1612.10" y1="1179.30" x2="1618.10" y2="1179.30" stroke="#000" stroke-width="2"/>
<line x1="1638.00" y1="1179.30" x2="1644.00" y2="1179.30" stroke="#000" stroke-width="2"/>
<text x="1654.60" y="1186.30" font-size="23.6">0.005</text>
<text font-size="23.6" text-anchor="middle" transform="translate(1603.20 1137.60) rotate(-90)">p-value</text>
<line x1="1149.50" y1="1567.40" x2="1574.90" y2="1567.40" stroke="#333" stroke-width="1.3"/>
<line x1="1149.50" y1="1674.10" x2="1574.90" y2="1674.10" stroke="#333" stroke-width="1.3"/>
<line x1="1149.50" y1="1780.50" x2="1574.90" y2="1780.50" stroke="#333" stroke-width="1.3"/>
<circle cx="1306.20" cy="1610.30" r="9.50" fill="#440154"/>
<circle cx="1315.30" cy="1589.00" r="12.60" fill="#46307e"/>
<circle cx="1323.70" cy="1589.00" r="11.40" fill="#443983"/>
<circle cx="1333.10" cy="1589.00" r="10.40" fill="#440154"/>
<circle cx="1342.20" cy="1546.20" r="13.80" fill="#fde725"/>
<line x1="1133.20" y1="1461.10" x2="1149.50" y2="1461.10" stroke="#000" stroke-width="2.4"/>
<text x="1131.70" y="1470.80" font-size="23.6" text-anchor="end" fill="#231f20">20</text>
<line x1="1133.20" y1="1567.40" x2="1149.50" y2="1567.40" stroke="#000" stroke-width="2.4"/>
<text x="1131.70" y="1574.20" font-size="23.6" text-anchor="end" fill="#231f20">15</text>
<line x1="1133.20" y1="1674.10" x2="1149.50" y2="1674.10" stroke="#000" stroke-width="2.4"/>
<text x="1131.70" y="1684.30" font-size="23.6" text-anchor="end" fill="#231f20">10</text>
<line x1="1133.20" y1="1780.50" x2="1149.50" y2="1780.50" stroke="#000" stroke-width="2.4"/>
<text x="1131.70" y="1790.70" font-size="23.6" text-anchor="end" fill="#231f20">5</text>
<line x1="1133.20" y1="1886.20" x2="1149.50" y2="1886.20" stroke="#000" stroke-width="2.4"/>
<text x="1131.70" y="1897.00" font-size="23.6" text-anchor="end" fill="#231f20">0</text>
<line x1="1149.50" y1="1886.20" x2="1149.50" y2="1902.20" stroke="#000" stroke-width="2.4"/>
<text x="1152.90" y="1924.20" font-size="23.6" text-anchor="middle" fill="#231f20">0.00</text>
<line x1="1291.30" y1="1886.20" x2="1291.30" y2="1902.20" stroke="#000" stroke-width="2.4"/>
<text x="1295.00" y="1924.20" font-size="23.6" text-anchor="middle" fill="#231f20">0.05</text>
<line x1="1433.10" y1="1886.20" x2="1433.10" y2="1902.20" stroke="#000" stroke-width="2.4"/>
<text x="1436.80" y="1924.20" font-size="23.6" text-anchor="middle" fill="#231f20">0.10</text>
<line x1="1574.90" y1="1886.20" x2="1574.90" y2="1902.20" stroke="#000" stroke-width="2.4"/>
<text x="1578.80" y="1924.20" font-size="23.6" text-anchor="middle" fill="#231f20">0.15</text>
<rect x="1149.50" y="1461.10" width="425.40" height="425.10" fill="none" stroke="#000" stroke-width="2.5"/>
<text x="1361.60" y="1554.90" font-size="23.6" fill="#231f20" class="b">PI3K-Akt</text>
<text x="1347.50" y="1597.80" font-size="23.6" fill="#231f20" class="b">FA/actin/CAMs</text>
<text x="1317.50" y="1621.50" font-size="23.6" fill="#231f20" class="b">ECM-receptor</text>
<text x="1153.20" y="1450.10" font-size="23.6" fill="#231f20" class="b">ASCsub40 vs ASCsub25</text>
<text font-size="23.6" text-anchor="middle" class="b" transform="translate(1097.20 1671.50) rotate(-90)">gene count</text>
<text x="1366.30" y="1946.30" font-size="23.6" text-anchor="middle" class="b">gene ratio</text>
<text x="1611.10" y="1450.20" font-size="23.6" class="b">KEGG pathways (up)</text>
<circle cx="1619.90" cy="1479.90" r="9.80" fill="#440154"/>
<text x="1646.70" y="1488.20" font-size="23.6">ECM-receptor interaction</text>
<circle cx="1620.90" cy="1517.40" r="10.80" fill="#440154"/>
<text x="1647.60" y="1524.70" font-size="23.6">cell adhesion molecules (CAMs)</text>
<circle cx="1621.80" cy="1554.80" r="11.70" fill="#443983"/>
<text x="1648.60" y="1562.10" font-size="23.6">regulation of actin cytoskeleton</text>
<circle cx="1622.80" cy="1591.30" r="12.70" fill="#46307e"/>
<text x="1650.00" y="1599.10" font-size="23.6">focal adhesion (FA)</text>
<circle cx="1624.30" cy="1628.30" r="13.90" fill="#fde725"/>
<text x="1651.50" y="1635.60" font-size="23.6">PI3K-Akt-signaling pathway (n.s.)</text>
<rect x="1611.25" y="1662.85" width="33.80" height="219.60" fill="url(#vir)" stroke="#000" stroke-width="2.5"/>
<line x1="1612.00" y1="1723.20" x2="1618.00" y2="1723.20" stroke="#000" stroke-width="2"/>
<line x1="1638.30" y1="1723.20" x2="1644.30" y2="1723.20" stroke="#000" stroke-width="2"/>
<text x="1654.40" y="1734.90" font-size="23.6">0.1</text>
<line x1="1612.00" y1="1803.00" x2="1618.00" y2="1803.00" stroke="#000" stroke-width="2"/>
<line x1="1638.30" y1="1803.00" x2="1644.30" y2="1803.00" stroke="#000" stroke-width="2"/>
<text x="1654.40" y="1811.80" font-size="23.6">0.05</text>
<text font-size="23.6" text-anchor="middle" transform="translate(1602.10 1772.50) rotate(-90)">p-value</text>
<text transform="translate(19.8 33.8) scale(1.082 1)" font-size="47" class="b">A</text>
<text x="738.00" y="33.80" font-size="46.5" class="b">B</text>
<text x="20.90" y="799.60" font-size="46.5" class="b">C</text>
<text x="21.40" y="1380.60" font-size="46.5" class="b">D</text>
<text x="1074.80" y="799.40" font-size="46.5" class="b">E</text>
<text x="1078.40" y="1380.20" font-size="46.5" class="b">F</text>
</svg>
</body></html>
